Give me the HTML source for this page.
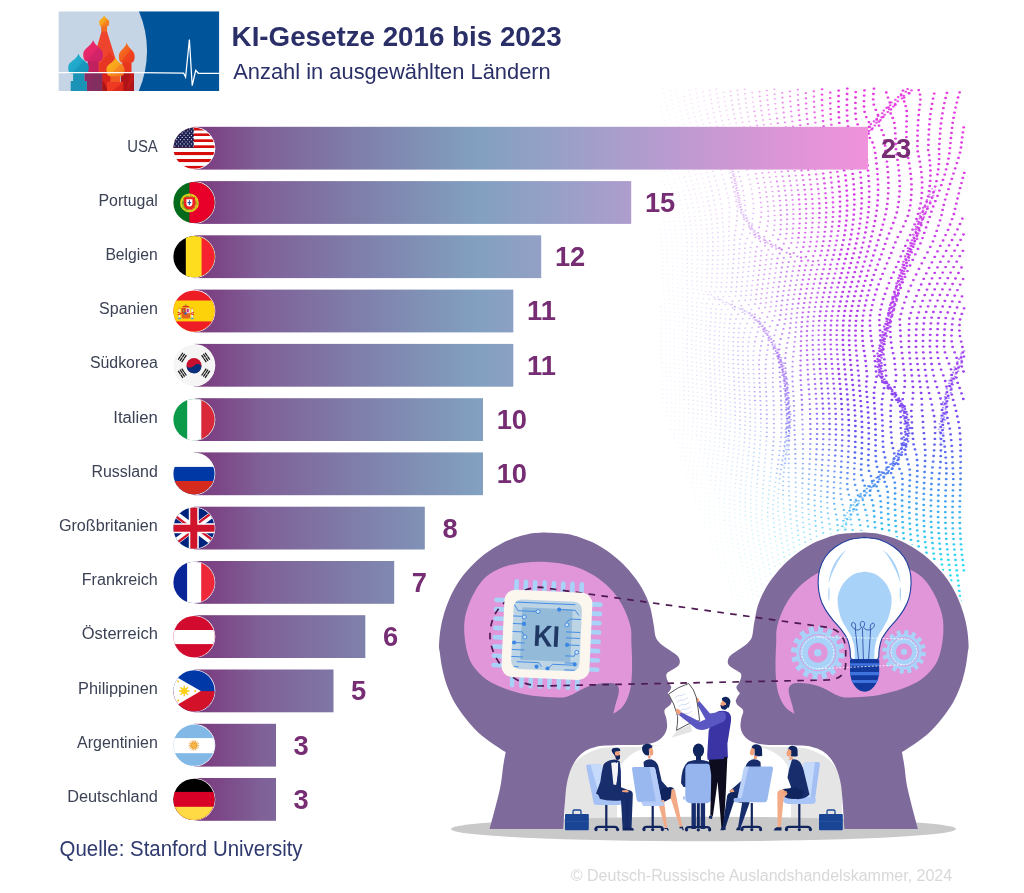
<!DOCTYPE html>
<html lang="de"><head><meta charset="utf-8"><title>KI-Gesetze 2016 bis 2023</title>
<style>
html,body{margin:0;padding:0;background:#fff;}
body{width:1024px;height:893px;overflow:hidden;font-family:"Liberation Sans",sans-serif;}
svg{display:block;}
text{font-family:"Liberation Sans",sans-serif;}
</style></head><body>
<svg width="1024" height="893" viewBox="0 0 1024 893">
<!-- defs.svg -->
<defs>
<linearGradient id="barg" gradientUnits="userSpaceOnUse" x1="194" y1="0" x2="868" y2="0">
<stop offset="0" stop-color="#7a3a7e"/><stop offset="0.035" stop-color="#7c4686"/><stop offset="0.10" stop-color="#7f6197"/><stop offset="0.25" stop-color="#7f80ab"/>
<stop offset="0.42" stop-color="#82a0c0"/><stop offset="0.55" stop-color="#9aa0c8"/><stop offset="0.70" stop-color="#b89bd0"/>
<stop offset="0.85" stop-color="#d896d6"/><stop offset="1" stop-color="#f092dc"/>
</linearGradient>
<clipPath id="fc"><circle cx="0" cy="0" r="20.6"/></clipPath>
</defs>

<!-- dots.svg -->
<g>
<defs><linearGradient id="dotg" gradientUnits="userSpaceOnUse" x1="0" y1="88" x2="0" y2="640"><stop offset="0.000" stop-color="#e83ae0"/><stop offset="0.203" stop-color="#d63ee6"/><stop offset="0.384" stop-color="#b840ee"/><stop offset="0.511" stop-color="#9c40f0"/><stop offset="0.592" stop-color="#7a48f2"/><stop offset="0.647" stop-color="#6060f2"/><stop offset="0.701" stop-color="#4e84f2"/><stop offset="0.755" stop-color="#42a8f2"/><stop offset="0.810" stop-color="#36c8f2"/><stop offset="0.873" stop-color="#2cdcf2"/><stop offset="1.000" stop-color="#28e6f0"/></linearGradient><linearGradient id="dotm" gradientUnits="userSpaceOnUse" x1="0" y1="88" x2="0" y2="640"><stop offset="0.000" stop-color="#e44ae4"/><stop offset="0.203" stop-color="#cc4ce8"/><stop offset="0.384" stop-color="#ac50ee"/><stop offset="0.511" stop-color="#9054f0"/><stop offset="0.592" stop-color="#7860f2"/><stop offset="0.647" stop-color="#6474f2"/><stop offset="0.701" stop-color="#5490f2"/><stop offset="0.755" stop-color="#46b0f2"/><stop offset="0.810" stop-color="#3accf2"/><stop offset="0.873" stop-color="#30def2"/><stop offset="1.000" stop-color="#2ce8f0"/></linearGradient><linearGradient id="dotl" gradientUnits="userSpaceOnUse" x1="0" y1="88" x2="0" y2="640"><stop offset="0.000" stop-color="#e060e4"/><stop offset="0.167" stop-color="#c060e8"/><stop offset="0.348" stop-color="#a064ee"/><stop offset="0.493" stop-color="#8a6cf0"/><stop offset="0.592" stop-color="#7884f2"/><stop offset="0.674" stop-color="#68a4f2"/><stop offset="0.755" stop-color="#58c4f4"/><stop offset="0.837" stop-color="#48dcf4"/><stop offset="1.000" stop-color="#40e8f2"/></linearGradient></defs>
<path d="M663.0 88.6h.6M675.9 89.4h.6M669.8 91.1h.6M682.8 92.0h.6M663.7 92.9h.6M676.6 93.7h.6M670.5 95.4h.6M664.4 97.2h.6M677.4 98.0h.6M671.3 99.8h.6M665.3 101.5h.6M678.3 102.4h.6M672.2 104.1h.6M666.3 105.9h.6M679.2 106.7h.6M660.4 107.6h.6M673.2 108.5h.6M667.3 110.2h.6M680.3 111.1h.6M661.5 111.9h.6M674.4 112.8h.6M668.5 114.5h.6M662.7 116.2h.6M681.4 115.5h.6M675.5 117.2h.6M669.7 118.9h.6M682.7 120.0h.6M664.0 120.6h.6M676.8 121.6h.6M671.1 123.2h.6M665.4 124.9h.6M678.2 126.0h.6M672.4 127.6h.6M666.8 129.2h.6M679.6 130.4h.6M661.2 130.8h.6M673.9 132.0h.6M668.3 133.6h.6M662.7 135.1h.6M681.1 134.8h.6M675.4 136.4h.6M669.8 137.9h.6M664.3 139.4h.6M682.6 139.3h.6M677.0 140.8h.6M671.4 142.3h.6M665.9 143.7h.6M660.4 145.0h.6M678.6 145.2h.6M673.0 146.6h.6M667.5 148.0h.6M662.1 149.3h.6M680.2 149.6h.6M674.7 151.0h.6M669.2 152.3h.6M663.7 153.5h.6M681.8 154.0h.6M676.3 155.3h.6M670.9 156.6h.6M665.4 157.8h.6M660.0 158.9h.6M678.0 159.7h.6M672.5 160.9h.6M667.1 162.0h.6M661.7 163.1h.6M679.6 164.1h.6M674.2 165.2h.6M668.8 166.3h.6M663.4 167.2h.6M681.2 168.4h.6M675.8 169.5h.6M665.0 171.4h.6M670.4 170.5h.6M682.8 172.8h.6M677.4 173.8h.6M672.0 174.8h.6M661.3 176.3h.6M666.7 175.6h.6M678.9 178.1h.6M673.5 179.0h.6M662.9 180.5h.6M668.2 179.8h.6M680.4 182.5h.6M675.0 183.3h.6M669.7 184.0h.6M664.4 184.6h.6M676.4 187.5h.6M681.8 186.8h.6M671.1 188.1h.6M660.5 189.1h.6M665.8 188.7h.6M683.1 191.1h.6M672.5 192.3h.6M677.8 191.7h.6M661.9 193.2h.6M667.2 192.8h.6M673.7 196.5h.6M679.0 196.0h.6M663.2 197.2h.6M668.5 196.9h.6M680.2 200.2h.6M664.4 201.3h.6M669.6 201.0h.6M674.9 200.6h.6M681.3 204.4h.6M665.5 205.4h.6M670.7 205.1h.6M676.0 204.8h.6M660.3 205.5h.6M666.5 209.4h.6M671.7 209.2h.6M677.0 209.0h.6M682.2 208.7h.6M661.3 209.5h.6M667.4 213.5h.6M672.7 213.3h.6M677.9 213.1h.6M683.1 212.9h.6M662.2 213.5h.6M673.5 217.4h.6M678.7 217.3h.6M663.1 217.6h.6M668.3 217.5h.6M679.4 221.5h.6M663.8 221.6h.6M669.0 221.6h.6M674.2 221.5h.6M664.5 225.6h.6M669.6 225.6h.6M674.8 225.7h.6M680.0 225.6h.6M660.0 229.5h.6M665.1 229.6h.6M670.2 229.7h.6M675.3 229.8h.6M680.5 229.8h.6M660.5 233.5h.6M665.6 233.6h.6M670.7 233.8h.6M675.8 233.9h.6M680.9 234.0h.6M660.9 237.5h.6M666.0 237.7h.6M671.1 237.8h.6M676.2 238.0h.6M681.3 238.1h.6M661.3 241.5h.6M666.3 241.7h.6M671.4 241.9h.6M676.4 242.1h.6M681.5 242.3h.6M661.6 245.6h.6M666.6 245.8h.6M671.6 246.0h.6M676.7 246.2h.6M681.7 246.4h.6M661.9 249.6h.6M666.9 249.8h.6M671.8 250.1h.6M676.9 250.3h.6M681.9 250.6h.6M662.1 253.7h.6M667.1 253.9h.6M672.0 254.2h.6M677.0 254.5h.6M682.0 254.8h.6M662.3 257.7h.6M667.2 258.0h.6M672.1 258.3h.6M677.1 258.6h.6M682.0 258.9h.6M662.5 261.8h.6M667.3 262.1h.6M672.2 262.4h.6M677.1 262.7h.6M682.1 263.1h.6M662.6 265.9h.6M667.4 266.2h.6M672.3 266.5h.6M677.2 266.9h.6M682.1 267.3h.6M662.7 270.0h.6M667.5 270.3h.6M672.3 270.6h.6M677.2 271.0h.6M682.0 271.4h.6M662.8 274.1h.6M667.6 274.4h.6M672.4 274.8h.6M677.2 275.2h.6M682.0 275.6h.6M663.0 278.2h.6M667.7 278.5h.6M672.4 278.9h.6M677.2 279.3h.6M682.0 279.8h.6M663.1 282.3h.6M667.8 282.7h.6M672.5 283.1h.6M677.3 283.5h.6M682.0 284.0h.6M663.3 286.5h.6M668.0 286.8h.6M672.7 287.2h.6M677.5 287.7h.6M682.4 288.2h.6M663.5 290.6h.6M668.1 291.0h.6M672.8 291.4h.6M677.5 291.9h.6M682.4 292.4h.6M663.7 294.8h.6M668.3 295.1h.6M672.9 295.6h.6M677.6 296.0h.6M682.3 296.6h.6M713.1 296.9h.6M664.0 299.0h.6M668.6 299.3h.6M673.1 299.7h.6M677.7 300.2h.6M682.4 300.8h.6M664.3 303.2h.6M668.9 303.5h.6M673.4 303.9h.6M678.0 304.5h.6M682.5 305.0h.6M660.3 307.1h.6M664.7 307.4h.6M669.2 307.7h.6M673.7 308.2h.6M678.2 308.7h.6M682.8 309.2h.6M660.7 311.3h.6M665.1 311.6h.6M669.6 311.9h.6M674.1 312.4h.6M678.5 312.9h.6M683.1 313.5h.6M661.3 315.6h.6M665.6 315.8h.6M670.0 316.2h.6M674.5 316.6h.6M678.9 317.1h.6M661.5 319.8h.6M665.8 320.1h.6M670.1 320.4h.6M674.4 320.9h.6M678.8 321.4h.6M683.2 321.9h.6M661.3 324.1h.6M665.6 324.3h.6M669.9 324.7h.6M674.2 325.1h.6M678.6 325.6h.6M683.0 326.2h.6M661.1 328.4h.6M665.4 328.6h.6M669.7 328.9h.6M674.1 329.4h.6M678.4 329.9h.6M682.8 330.4h.6M661.0 332.7h.6M665.3 332.9h.6M669.6 333.2h.6M673.9 333.6h.6M678.3 334.1h.6M682.7 334.7h.6M661.0 337.0h.6M665.3 337.2h.6M669.6 337.5h.6M673.9 337.9h.6M678.2 338.4h.6M682.6 339.0h.6M660.9 341.3h.6M665.2 341.5h.6M669.5 341.8h.6M673.8 342.2h.6M678.2 342.7h.6M682.5 343.2h.6M661.0 345.6h.6M665.3 345.8h.6M669.6 346.1h.6M673.9 346.5h.6M678.2 347.0h.6M682.6 347.5h.6M661.0 349.9h.6M665.3 350.2h.6M669.6 350.5h.6M673.9 350.8h.6M678.3 351.3h.6M682.6 351.8h.6M661.1 354.3h.6M665.4 354.5h.6M669.7 354.8h.6M674.0 355.2h.6M678.3 355.6h.6M682.7 356.1h.6M661.2 358.6h.6M665.5 358.8h.6M669.8 359.1h.6M674.1 359.5h.6M678.4 359.9h.6M682.8 360.4h.6M661.4 363.0h.6M665.6 363.2h.6M669.9 363.5h.6M674.2 363.8h.6M678.6 364.2h.6M682.9 364.7h.6M661.5 367.4h.6M665.8 367.6h.6M670.1 367.8h.6M674.4 368.2h.6M678.7 368.6h.6M683.1 369.1h.6M661.6 371.7h.6M665.9 371.9h.6M670.2 372.2h.6M674.5 372.5h.6M678.9 372.9h.6M683.2 373.4h.6M661.8 376.1h.6M666.1 376.3h.6M670.4 376.6h.6M674.7 376.9h.6M679.0 377.3h.6M661.9 380.5h.6M666.2 380.7h.6M670.5 380.9h.6M674.8 381.2h.6M679.2 381.6h.6M662.0 384.9h.6M666.3 385.1h.6M670.6 385.3h.6M674.9 385.6h.6M679.3 386.0h.6M662.1 389.3h.6M666.4 389.4h.6M670.7 389.7h.6M675.1 390.0h.6M679.4 390.3h.6M662.2 393.6h.6M666.5 393.8h.6M670.8 394.1h.6M675.1 394.4h.6M679.5 394.7h.6M662.3 398.0h.6M666.6 398.2h.6M670.9 398.5h.6M675.2 398.7h.6M679.5 399.1h.6M662.3 402.4h.6M666.6 402.6h.6M670.9 402.9h.6M675.2 403.1h.6M679.6 403.4h.6M684.0 403.8h.6M666.5 407.0h.6M670.9 407.2h.6M675.2 407.5h.6M679.6 407.8h.6M683.9 408.2h.6M666.5 411.4h.6M670.8 411.6h.6M675.1 411.9h.6M679.5 412.2h.6M683.9 412.5h.6M666.4 415.8h.6M670.7 416.0h.6M675.0 416.3h.6M679.4 416.6h.6M683.8 416.9h.6M688.2 417.3h.6M670.5 420.4h.6M674.9 420.7h.6M679.2 420.9h.6M683.6 421.3h.6M688.0 421.6h.6M670.3 424.8h.6M674.7 425.0h.6M679.0 425.3h.6M683.4 425.6h.6M687.8 426.0h.6M670.1 429.2h.6M674.4 429.4h.6M678.8 429.7h.6M683.2 430.0h.6M687.6 430.3h.6M692.1 430.7h.6M674.1 433.8h.6M678.5 434.1h.6M682.9 434.4h.6M687.3 434.7h.6M691.8 435.0h.6M673.8 438.2h.6M678.1 438.4h.6M682.5 438.7h.6M687.0 439.0h.6M691.4 439.4h.6M696.0 439.8h.6M677.8 442.8h.6M682.2 443.1h.6M686.6 443.4h.6M691.1 443.7h.6M695.6 444.1h.6M677.3 447.2h.6M681.7 447.4h.6M686.2 447.7h.6M690.7 448.0h.6M695.2 448.4h.6M681.3 451.8h.6M685.7 452.1h.6M690.2 452.4h.6M694.7 452.7h.6M699.3 453.1h.6M680.8 456.1h.6M685.3 456.4h.6M689.8 456.7h.6M694.3 457.0h.6M698.8 457.4h.6M684.8 460.8h.6M689.3 461.0h.6M693.8 461.4h.6M698.4 461.7h.6M703.0 462.1h.6M684.3 465.1h.6M688.8 465.4h.6M693.3 465.7h.6M697.9 466.0h.6M702.5 466.4h.6M688.3 469.7h.6M692.8 470.0h.6M697.4 470.3h.6M702.1 470.7h.6M706.7 471.1h.6M687.8 474.0h.6M692.4 474.3h.6M697.0 474.6h.6M701.6 475.0h.6M706.3 475.4h.6M687.3 478.3h.6M691.9 478.6h.6M696.5 478.9h.6M701.2 479.3h.6M705.9 479.7h.6M691.5 482.9h.6M696.1 483.2h.6M700.7 483.6h.6M705.5 484.0h.6M710.2 484.4h.6M691.1 487.2h.6M695.7 487.5h.6M700.4 487.9h.6M705.1 488.2h.6M709.9 488.7h.6M695.3 491.8h.6M700.0 492.2h.6M704.8 492.5h.6M709.6 493.0h.6M714.4 493.4h.6M695.0 496.1h.6M699.8 496.5h.6M704.5 496.8h.6M709.3 497.2h.6M714.2 497.7h.6M694.8 500.4h.6M699.5 500.8h.6M704.3 501.1h.6M709.2 501.5h.6M714.1 502.0h.6M699.4 505.1h.6M704.2 505.4h.6M709.1 505.8h.6M714.0 506.3h.6M719.0 506.8h.6M699.3 509.4h.6M704.1 509.7h.6M709.0 510.1h.6M714.0 510.6h.6M719.0 511.1h.6M699.3 513.6h.6M704.1 514.0h.6M709.0 514.4h.6M714.0 514.9h.6M719.1 515.4h.6M704.2 518.3h.6M709.2 518.7h.6M714.2 519.2h.6M719.3 519.8h.6M704.4 522.6h.6M709.4 523.0h.6M714.4 523.5h.6M719.5 524.1h.6M724.7 524.7h.6M704.6 526.9h.6M709.6 527.4h.6M714.7 527.8h.6M719.9 528.4h.6M725.1 529.1h.6M710.0 531.7h.6M715.1 532.2h.6M720.3 532.8h.6M725.5 533.4h.6M710.4 536.0h.6M715.6 536.5h.6M720.8 537.1h.6M726.1 537.8h.6M711.0 540.3h.6M716.1 540.8h.6M721.4 541.5h.6M726.7 542.2h.6M732.1 543.0h.6M711.5 544.6h.6M716.7 545.2h.6M722.0 545.8h.6M727.3 546.5h.6M732.8 547.4h.6M712.2 548.9h.6M717.4 549.5h.6M722.7 550.2h.6M728.1 550.9h.6M733.5 551.8h.6M718.2 553.9h.6M723.5 554.6h.6M728.9 555.3h.6M734.3 556.2h.6M719.0 558.2h.6M724.3 558.9h.6M729.7 559.7h.6M735.2 560.6h.6M719.8 562.6h.6M725.1 563.3h.6M730.6 564.2h.6M736.0 565.1h.6M720.6 566.9h.6M726.0 567.7h.6M731.4 568.6h.6M736.9 569.5h.6M721.5 571.3h.6M742.5 570.6h.6M726.9 572.1h.6M732.3 573.0h.6M737.9 574.0h.6M743.4 575.1h.6M722.4 575.7h.6M727.8 576.5h.6M733.3 577.5h.6M738.8 578.5h.6M744.3 579.6h.6M728.7 580.9h.6M734.1 581.9h.6M739.6 583.0h.6M745.2 584.2h.6M729.6 585.3h.6M735.0 586.4h.6M740.5 587.5h.6M746.1 588.7h.6M730.4 589.8h.6M735.9 590.8h.6M741.3 592.0h.6M746.9 593.2h.6M731.3 594.2h.6M736.7 595.3h.6M742.1 596.5h.6M747.6 597.8h.6M732.0 598.6h.6M753.2 599.2h.6M737.4 599.8h.6M742.8 601.0h.6M748.3 602.4h.6M732.8 603.0h.6M738.1 604.2h.6M753.8 603.9h.6M743.5 605.6h.6M748.9 607.0h.6M738.7 608.7h.6M754.4 608.5h.6M744.1 610.1h.6M749.5 611.6h.6M739.3 613.2h.6M754.9 613.2h.6M744.6 614.6h.6M750.0 616.2h.6M739.7 617.7h.6M755.3 617.8h.6M745.0 619.2h.6M760.8 619.6h.6M750.3 620.8h.6M740.1 622.2h.6M755.7 622.5h.6M745.3 623.8h.6M761.0 624.3h.6M750.6 625.4h.6M755.9 627.2h.6M745.6 628.3h.6M761.2 629.0h.6M750.8 630.0h.6M756.0 631.8h.6M745.7 632.9h.6M761.3 633.8h.6M750.9 634.7h.6M766.5 635.8h.6M745.8 637.4h.6M756.0 636.5h.6M750.9 639.3h.6M761.2 638.5h.6M756.0 641.2h.6M766.4 640.6h.6M761.1 643.3h.6M750.8 643.9h.6M766.3 645.5h.6M755.8 645.9h.6M760.9 648.1h.6M750.6 648.6h.6M766.0 650.3h.6M755.6 650.7h.6M760.6 652.8h.6M755.3 655.4h.6M765.6 655.1h.6M760.2 657.6h.6M754.8 660.1h.6M765.2 660.0h.6M759.7 662.4h.6M764.7 664.8h.6M759.2 667.2h.6M769.6 667.3h.6M764.1 669.7h.6M758.6 672.0h.6M769.0 672.2h.6M763.5 674.5h.6M768.3 677.2h.6M762.8 679.4h.6M767.6 682.1h.6M766.9 687.0h.6M766.2 691.9h.6" stroke="url(#dotl)" stroke-width="1.12" stroke-linecap="round" fill="none" opacity="0.1"/>
<path d="M695.6 88.8h.6M689.2 90.4h.6M702.7 91.8h.6M696.2 93.2h.6M689.8 94.7h.6M683.6 96.3h.6M703.4 96.2h.6M696.9 97.6h.6M690.6 99.1h.6M684.4 100.7h.6M704.1 100.6h.6M697.7 102.0h.6M691.5 103.5h.6M685.3 105.1h.6M705.0 105.0h.6M698.6 106.4h.6M692.4 107.9h.6M686.3 109.5h.6M705.9 109.5h.6M699.6 110.9h.6M693.5 112.4h.6M687.4 113.9h.6M700.7 115.3h.6M694.6 116.8h.6M688.6 118.4h.6M701.9 119.8h.6M695.8 121.3h.6M689.9 122.8h.6M684.0 124.4h.6M703.1 124.3h.6M697.1 125.8h.6M691.2 127.3h.6M685.4 128.8h.6M704.5 128.8h.6M698.5 130.3h.6M692.6 131.8h.6M686.8 133.3h.6M705.8 133.4h.6M699.9 134.8h.6M694.1 136.3h.6M688.3 137.8h.6M701.4 139.3h.6M695.6 140.8h.6M689.8 142.2h.6M684.2 143.7h.6M702.9 143.9h.6M697.1 145.3h.6M691.4 146.7h.6M685.8 148.2h.6M704.5 148.4h.6M698.7 149.8h.6M693.0 151.2h.6M687.4 152.6h.6M706.2 153.0h.6M700.3 154.4h.6M694.6 155.7h.6M726.6 156.5h.6M689.0 157.1h.6M683.4 158.4h.6M729.2 157.9h.6M701.8 158.9h.6M726.6 159.2h.6M696.1 160.3h.6M730.6 160.6h.6M690.6 161.6h.6M685.1 162.9h.6M703.4 163.5h.6M697.7 164.8h.6M692.1 166.1h.6M686.6 167.3h.6M704.9 168.1h.6M699.2 169.3h.6M693.7 170.5h.6M688.2 171.7h.6M706.4 172.7h.6M700.7 173.9h.6M695.2 175.0h.6M689.7 176.1h.6M684.3 177.2h.6M702.1 178.4h.6M696.6 179.5h.6M691.2 180.6h.6M685.7 181.6h.6M703.5 183.0h.6M698.0 184.0h.6M692.5 185.0h.6M687.1 185.9h.6M704.8 187.5h.6M693.8 189.4h.6M699.3 188.5h.6M688.5 190.3h.6M706.0 192.1h.6M700.5 193.0h.6M695.1 193.9h.6M684.3 195.4h.6M689.7 194.7h.6M701.6 197.5h.6M696.2 198.3h.6M690.8 199.0h.6M685.5 199.7h.6M702.6 202.0h.6M691.9 203.4h.6M697.2 202.7h.6M686.6 204.0h.6M703.6 206.5h.6M698.2 207.2h.6M687.5 208.2h.6M692.8 207.7h.6M704.4 211.0h.6M693.7 212.1h.6M699.0 211.6h.6M688.4 212.5h.6M705.1 215.4h.6M694.4 216.5h.6M699.7 216.0h.6M683.9 217.1h.6M689.2 216.8h.6M700.4 220.4h.6M705.7 219.9h.6M684.6 221.3h.6M689.8 221.1h.6M695.1 220.8h.6M706.2 224.4h.6M690.4 225.4h.6M695.6 225.1h.6M700.9 224.8h.6M685.2 225.5h.6M696.1 229.5h.6M701.3 229.2h.6M685.7 229.8h.6M690.9 229.7h.6M686.1 234.0h.6M691.2 233.9h.6M696.4 233.8h.6M701.7 233.6h.6M686.4 238.2h.6M691.5 238.2h.6M696.7 238.2h.6M701.9 238.0h.6M686.6 242.4h.6M691.8 242.5h.6M696.9 242.5h.6M702.1 242.4h.6M686.8 246.6h.6M691.9 246.7h.6M697.0 246.8h.6M702.2 246.8h.6M686.9 250.8h.6M692.0 251.0h.6M697.1 251.1h.6M702.2 251.2h.6M687.0 255.0h.6M692.0 255.3h.6M697.1 255.4h.6M702.2 255.5h.6M687.0 259.2h.6M692.0 259.5h.6M697.1 259.7h.6M702.1 259.9h.6M687.0 263.4h.6M692.0 263.8h.6M697.0 264.0h.6M702.0 264.3h.6M687.0 267.7h.6M691.9 268.0h.6M696.9 268.3h.6M701.9 268.6h.6M686.9 271.9h.6M691.9 272.3h.6M696.8 272.6h.6M701.8 273.0h.6M686.9 276.1h.6M691.8 276.5h.6M696.7 276.9h.6M701.6 277.3h.6M686.9 280.3h.6M691.7 280.8h.6M696.6 281.2h.6M701.5 281.6h.6M706.4 282.0h.6M686.8 284.5h.6M691.6 285.0h.6M696.5 285.5h.6M701.3 286.0h.6M706.1 286.4h.6M687.5 288.7h.6M692.5 289.1h.6M697.1 289.6h.6M701.3 290.0h.6M705.3 291.3h.6M687.5 292.9h.6M692.8 293.4h.6M698.3 293.9h.6M703.5 294.3h.6M687.0 297.2h.6M692.0 297.7h.6M697.3 298.3h.6M716.1 298.3h.6M703.1 298.8h.6M718.9 299.6h.6M687.0 301.4h.6M722.7 301.0h.6M691.7 302.0h.6M725.6 302.3h.6M696.5 302.6h.6M701.4 303.2h.6M687.2 305.6h.6M691.8 306.2h.6M696.5 306.9h.6M701.2 307.5h.6M705.9 308.1h.6M687.4 309.8h.6M692.0 310.5h.6M696.6 311.1h.6M701.2 311.8h.6M705.9 312.4h.6M687.6 314.1h.6M692.2 314.7h.6M696.8 315.4h.6M701.4 316.1h.6M706.1 316.7h.6M683.4 317.7h.6M687.9 318.3h.6M692.3 319.0h.6M696.8 319.7h.6M701.3 320.4h.6M705.8 321.1h.6M687.6 322.6h.6M692.0 323.2h.6M696.5 323.9h.6M701.0 324.7h.6M705.5 325.4h.6M687.4 326.8h.6M691.8 327.5h.6M696.2 328.2h.6M700.7 328.9h.6M705.3 329.7h.6M687.2 331.1h.6M691.6 331.8h.6M696.1 332.5h.6M700.5 333.2h.6M705.1 334.0h.6M687.0 335.3h.6M691.5 336.0h.6M695.9 336.7h.6M700.4 337.5h.6M704.9 338.2h.6M687.0 339.6h.6M691.4 340.3h.6M695.8 341.0h.6M700.3 341.8h.6M704.8 342.5h.6M686.9 343.9h.6M691.4 344.5h.6M695.8 345.3h.6M700.3 346.0h.6M704.8 346.8h.6M686.9 348.1h.6M691.4 348.8h.6M695.8 349.5h.6M700.3 350.3h.6M704.8 351.1h.6M687.0 352.4h.6M691.4 353.1h.6M695.9 353.8h.6M700.3 354.6h.6M704.9 355.4h.6M687.1 356.7h.6M691.5 357.4h.6M695.9 358.1h.6M700.4 358.8h.6M705.0 359.6h.6M687.2 361.0h.6M691.6 361.7h.6M696.1 362.4h.6M700.6 363.1h.6M705.1 363.9h.6M687.3 365.3h.6M691.7 365.9h.6M696.2 366.6h.6M700.7 367.4h.6M705.2 368.2h.6M687.5 369.6h.6M691.9 370.2h.6M696.4 370.9h.6M700.9 371.7h.6M705.4 372.4h.6M687.6 373.9h.6M692.1 374.5h.6M696.5 375.2h.6M701.0 375.9h.6M705.6 376.7h.6M683.4 377.7h.6M687.8 378.2h.6M692.2 378.8h.6M696.7 379.5h.6M701.2 380.2h.6M705.7 380.9h.6M683.5 382.0h.6M687.9 382.6h.6M692.4 383.1h.6M696.8 383.8h.6M701.3 384.5h.6M705.9 385.2h.6M683.7 386.4h.6M688.1 386.9h.6M692.5 387.4h.6M697.0 388.1h.6M701.5 388.7h.6M706.0 389.5h.6M683.8 390.7h.6M688.2 391.2h.6M692.6 391.8h.6M697.1 392.4h.6M701.6 393.0h.6M706.2 393.7h.6M683.9 395.1h.6M688.3 395.5h.6M692.7 396.1h.6M697.2 396.6h.6M701.7 397.3h.6M706.3 398.0h.6M683.9 399.4h.6M688.3 399.9h.6M692.8 400.4h.6M697.3 400.9h.6M701.8 401.6h.6M706.4 402.2h.6M688.4 404.2h.6M692.8 404.7h.6M697.3 405.3h.6M701.8 405.9h.6M706.4 406.5h.6M688.4 408.6h.6M692.8 409.0h.6M697.3 409.6h.6M701.8 410.1h.6M706.4 410.8h.6M688.3 412.9h.6M692.8 413.4h.6M697.2 413.9h.6M701.8 414.4h.6M706.4 415.0h.6M711.0 415.7h.6M692.7 417.7h.6M697.1 418.2h.6M701.7 418.7h.6M706.3 419.3h.6M710.9 420.0h.6M692.5 422.0h.6M697.0 422.5h.6M701.5 423.0h.6M706.1 423.6h.6M710.7 424.2h.6M692.3 426.4h.6M696.8 426.8h.6M701.3 427.3h.6M705.9 427.8h.6M710.6 428.5h.6M715.2 429.1h.6M696.6 431.1h.6M701.1 431.6h.6M705.7 432.1h.6M710.3 432.7h.6M715.0 433.4h.6M696.3 435.4h.6M700.8 435.9h.6M705.4 436.4h.6M710.0 437.0h.6M714.7 437.6h.6M700.5 440.2h.6M705.1 440.7h.6M709.7 441.2h.6M714.4 441.8h.6M719.1 442.5h.6M700.1 444.5h.6M704.7 445.0h.6M709.4 445.5h.6M714.0 446.1h.6M718.8 446.7h.6M699.7 448.8h.6M704.3 449.2h.6M709.0 449.7h.6M713.7 450.3h.6M718.4 450.9h.6M723.2 451.6h.6M703.9 453.5h.6M708.5 454.0h.6M713.2 454.6h.6M718.0 455.2h.6M722.8 455.8h.6M703.5 457.8h.6M708.1 458.3h.6M712.8 458.8h.6M717.6 459.4h.6M722.4 460.1h.6M707.6 462.6h.6M712.4 463.1h.6M717.1 463.6h.6M721.9 464.3h.6M726.8 465.0h.6M707.2 466.8h.6M711.9 467.3h.6M716.7 467.9h.6M721.5 468.5h.6M726.4 469.2h.6M711.5 471.6h.6M716.2 472.1h.6M721.1 472.7h.6M726.0 473.4h.6M711.0 475.8h.6M715.8 476.4h.6M720.7 477.0h.6M725.6 477.7h.6M730.5 478.4h.6M710.6 480.1h.6M715.4 480.6h.6M720.3 481.2h.6M725.2 481.9h.6M730.2 482.7h.6M715.0 484.9h.6M719.9 485.5h.6M724.9 486.1h.6M729.9 486.9h.6M735.0 487.7h.6M714.7 489.2h.6M719.6 489.7h.6M724.6 490.4h.6M729.6 491.1h.6M734.7 492.0h.6M719.4 494.0h.6M724.4 494.6h.6M729.4 495.4h.6M734.5 496.2h.6M719.2 498.3h.6M724.2 498.9h.6M729.3 499.7h.6M734.4 500.5h.6M719.0 502.6h.6M724.1 503.2h.6M729.2 503.9h.6M734.3 504.8h.6M739.6 505.7h.6M724.0 507.5h.6M729.2 508.2h.6M734.4 509.1h.6M739.6 510.0h.6M724.1 511.8h.6M729.2 512.5h.6M734.5 513.4h.6M739.8 514.4h.6M724.2 516.1h.6M729.4 516.8h.6M734.7 517.7h.6M740.0 518.7h.6M724.4 520.4h.6M745.4 519.8h.6M729.6 521.2h.6M734.9 522.0h.6M740.3 523.0h.6M745.8 524.1h.6M730.0 525.5h.6M735.3 526.4h.6M740.7 527.4h.6M746.2 528.5h.6M730.4 529.8h.6M735.7 530.7h.6M741.2 531.7h.6M746.7 532.9h.6M730.9 534.2h.6M736.2 535.1h.6M741.7 536.1h.6M747.3 537.3h.6M731.4 538.6h.6M736.8 539.5h.6M742.3 540.5h.6M747.9 541.7h.6M753.6 543.1h.6M737.5 543.9h.6M743.0 544.9h.6M748.6 546.2h.6M738.2 548.3h.6M754.3 547.5h.6M743.8 549.4h.6M749.4 550.6h.6M755.1 552.0h.6M739.0 552.7h.6M744.6 553.8h.6M750.3 555.1h.6M756.0 556.5h.6M739.8 557.2h.6M745.4 558.3h.6M751.1 559.6h.6M756.9 561.0h.6M740.7 561.6h.6M746.3 562.8h.6M752.0 564.1h.6M741.6 566.1h.6M757.8 565.5h.6M747.2 567.3h.6M763.6 567.2h.6M752.9 568.6h.6M758.7 570.1h.6M748.1 571.8h.6M764.5 571.8h.6M753.8 573.2h.6M759.6 574.7h.6M749.0 576.3h.6M765.4 576.4h.6M754.7 577.7h.6M760.5 579.3h.6M749.9 580.9h.6M766.3 581.0h.6M755.6 582.3h.6M761.4 583.9h.6M750.8 585.5h.6M767.2 585.6h.6M756.5 586.9h.6M762.2 588.5h.6M751.7 590.0h.6M768.0 590.3h.6M757.3 591.5h.6M763.0 593.2h.6M752.4 594.6h.6M768.8 595.0h.6M758.1 596.2h.6M774.6 597.0h.6M763.7 597.8h.6M769.5 599.7h.6M758.8 600.8h.6M764.4 602.5h.6M759.4 605.5h.6M765.0 607.2h.6M759.9 610.2h.6M765.5 612.0h.6M760.4 614.9h.6M765.9 616.7h.6M766.2 621.5h.6M766.4 626.2h.6M766.5 631.0h.6" stroke="url(#dotl)" stroke-width="1.21" stroke-linecap="round" fill="none" opacity="0.19"/>
<path d="M716.0 89.2h.6M709.3 90.4h.6M723.3 92.4h.6M716.6 93.6h.6M709.9 94.8h.6M723.9 96.9h.6M717.2 98.0h.6M710.6 99.3h.6M724.6 101.4h.6M717.9 102.5h.6M711.4 103.7h.6M725.3 105.9h.6M718.8 107.0h.6M712.3 108.2h.6M726.2 110.4h.6M719.7 111.5h.6M713.3 112.7h.6M706.9 114.0h.6M727.2 114.9h.6M720.7 116.0h.6M714.3 117.2h.6M708.1 118.4h.6M728.2 119.5h.6M721.8 120.5h.6M715.5 121.7h.6M709.3 123.0h.6M729.3 124.1h.6M722.9 125.1h.6M716.7 126.2h.6M710.5 127.5h.6M724.2 129.7h.6M718.0 130.8h.6M711.9 132.0h.6M725.5 134.3h.6M719.3 135.4h.6M713.2 136.6h.6M707.3 137.9h.6M726.8 138.9h.6M720.7 140.0h.6M714.9 141.2h.6M708.9 142.5h.6M722.8 144.4h.6M728.0 143.9h.6M717.1 145.7h.6M710.8 147.1h.6M724.7 148.9h.6M728.8 149.0h.6M719.4 150.2h.6M712.7 151.6h.6M726.4 153.3h.6M729.5 154.1h.6M721.8 154.7h.6M714.9 156.2h.6M707.9 157.6h.6M727.8 157.8h.6M724.2 159.2h.6M717.0 160.7h.6M709.6 162.2h.6M728.7 161.9h.6M729.4 162.2h.6M731.3 163.3h.6M726.5 163.7h.6M719.0 165.3h.6M728.0 164.6h.6M731.2 166.0h.6M711.2 166.8h.6M729.8 167.3h.6M728.0 168.4h.6M733.5 168.7h.6M720.4 170.0h.6M730.6 170.0h.6M712.7 171.4h.6M733.0 171.4h.6M729.3 173.1h.6M730.4 172.7h.6M734.3 174.1h.6M721.8 174.7h.6M732.6 175.4h.6M714.1 176.0h.6M707.8 177.2h.6M735.6 176.8h.6M731.9 178.1h.6M723.2 179.3h.6M734.8 179.5h.6M715.5 180.7h.6M732.9 180.8h.6M709.2 181.8h.6M736.8 182.2h.6M734.1 183.5h.6M724.5 184.0h.6M716.8 185.3h.6M736.5 184.9h.6M710.4 186.4h.6M733.3 186.2h.6M736.9 187.6h.6M725.8 188.7h.6M735.3 188.9h.6M718.0 189.9h.6M738.6 190.3h.6M711.6 191.0h.6M735.0 191.6h.6M726.9 193.3h.6M737.6 193.0h.6M735.4 194.3h.6M719.1 194.6h.6M712.7 195.6h.6M739.4 195.7h.6M707.1 196.6h.6M737.1 197.0h.6M727.8 198.0h.6M739.7 198.4h.6M720.1 199.2h.6M713.7 200.2h.6M736.1 199.7h.6M708.1 201.2h.6M739.5 201.1h.6M737.9 202.4h.6M728.6 202.8h.6M721.0 203.9h.6M741.5 203.8h.6M714.6 204.9h.6M738.1 205.1h.6M709.0 205.7h.6M729.3 207.5h.6M740.6 206.5h.6M738.0 207.8h.6M715.4 209.5h.6M721.7 208.6h.6M741.9 209.2h.6M709.8 210.3h.6M740.8 210.5h.6M729.2 212.3h.6M743.6 211.9h.6M722.0 213.2h.6M740.9 213.2h.6M716.0 214.1h.6M710.5 214.8h.6M744.0 214.6h.6M743.2 215.9h.6M729.0 217.0h.6M747.0 217.3h.6M722.2 217.9h.6M711.1 219.3h.6M716.5 218.7h.6M745.1 218.6h.6M747.5 220.0h.6M745.4 221.3h.6M728.8 221.8h.6M717.0 223.3h.6M722.5 222.6h.6M711.6 223.9h.6M722.8 227.2h.6M728.7 226.5h.6M711.9 228.4h.6M717.3 227.9h.6M706.6 228.9h.6M728.6 231.2h.6M717.6 232.5h.6M723.0 231.9h.6M706.9 233.3h.6M712.2 232.9h.6M728.6 235.9h.6M712.4 237.5h.6M717.8 237.0h.6M723.1 236.5h.6M707.2 237.8h.6M723.2 241.2h.6M728.6 240.6h.6M707.3 242.2h.6M712.6 242.0h.6M717.9 241.6h.6M728.5 245.3h.6M712.6 246.5h.6M717.9 246.2h.6M723.2 245.8h.6M707.4 246.7h.6M723.1 250.4h.6M728.4 250.0h.6M707.4 251.1h.6M712.6 251.0h.6M717.8 250.8h.6M712.5 255.5h.6M717.7 255.3h.6M722.9 255.0h.6M728.2 254.7h.6M707.3 255.6h.6M728.0 259.3h.6M707.2 260.0h.6M712.4 260.0h.6M717.5 259.9h.6M722.7 259.6h.6M707.1 264.4h.6M712.2 264.4h.6M717.3 264.4h.6M722.5 264.2h.6M727.7 264.0h.6M706.9 268.8h.6M712.0 268.9h.6M717.1 268.9h.6M722.2 268.8h.6M727.4 268.6h.6M706.8 273.2h.6M711.8 273.4h.6M716.8 273.4h.6M721.9 273.4h.6M727.1 273.2h.6M706.6 277.6h.6M711.6 277.8h.6M716.6 277.9h.6M721.6 277.9h.6M726.7 277.8h.6M711.3 282.2h.6M716.3 282.4h.6M721.3 282.5h.6M726.4 282.4h.6M711.0 286.7h.6M716.0 286.9h.6M721.0 287.0h.6M726.1 287.0h.6M709.6 291.6h.6M714.6 291.7h.6M720.0 291.7h.6M725.4 291.6h.6M707.8 294.6h.6M711.0 294.9h.6M729.2 296.4h.6M714.0 297.1h.6M717.8 297.0h.6M723.2 296.7h.6M709.0 299.1h.6M714.5 299.4h.6M718.5 299.5h.6M720.8 299.7h.6M726.2 302.1h.6M722.6 302.6h.6M706.7 303.7h.6M712.5 304.1h.6M718.8 304.4h.6M725.2 304.5h.6M728.0 303.7h.6M730.0 304.4h.6M730.6 305.0h.6M734.3 306.4h.6M738.4 307.7h.6M710.7 308.6h.6M715.8 309.1h.6M721.3 309.4h.6M741.6 309.1h.6M727.5 309.6h.6M743.7 310.4h.6M746.4 311.8h.6M710.6 313.0h.6M715.4 313.5h.6M747.8 313.1h.6M720.2 313.9h.6M725.4 314.2h.6M710.7 317.3h.6M715.4 317.9h.6M720.1 318.4h.6M724.9 318.7h.6M710.4 321.7h.6M715.0 322.3h.6M719.7 322.8h.6M724.4 323.2h.6M729.3 323.5h.6M710.1 326.0h.6M714.7 326.6h.6M719.4 327.2h.6M724.1 327.6h.6M728.8 328.0h.6M709.8 330.4h.6M714.4 331.0h.6M719.1 331.6h.6M723.8 332.1h.6M728.5 332.4h.6M709.6 334.7h.6M714.2 335.3h.6M718.9 335.9h.6M723.6 336.5h.6M728.3 336.9h.6M709.5 339.0h.6M714.1 339.7h.6M718.7 340.3h.6M723.4 340.9h.6M728.2 341.3h.6M709.4 343.3h.6M714.0 344.0h.6M718.6 344.7h.6M723.3 345.3h.6M728.1 345.8h.6M709.4 347.6h.6M714.0 348.3h.6M718.6 349.0h.6M723.3 349.6h.6M728.0 350.2h.6M709.4 351.9h.6M714.0 352.6h.6M718.6 353.3h.6M723.3 354.0h.6M728.1 354.5h.6M709.4 356.1h.6M714.0 356.9h.6M718.7 357.6h.6M723.4 358.3h.6M728.1 358.9h.6M709.5 360.4h.6M714.1 361.2h.6M718.8 361.9h.6M723.5 362.6h.6M728.2 363.3h.6M709.6 364.7h.6M714.3 365.5h.6M718.9 366.2h.6M723.6 367.0h.6M728.4 367.6h.6M709.8 369.0h.6M714.4 369.7h.6M719.1 370.5h.6M723.8 371.3h.6M728.6 371.9h.6M710.0 373.2h.6M714.6 374.0h.6M719.3 374.8h.6M724.0 375.6h.6M728.7 376.3h.6M710.1 377.5h.6M714.8 378.3h.6M719.4 379.1h.6M724.2 379.8h.6M728.9 380.6h.6M710.3 381.7h.6M714.9 382.5h.6M719.6 383.3h.6M724.4 384.1h.6M729.1 384.8h.6M710.5 386.0h.6M715.1 386.8h.6M719.8 387.6h.6M724.6 388.4h.6M729.3 389.1h.6M710.6 390.2h.6M715.3 391.0h.6M720.0 391.8h.6M724.7 392.6h.6M729.5 393.4h.6M710.8 394.5h.6M715.4 395.3h.6M720.1 396.1h.6M724.9 396.8h.6M729.7 397.6h.6M710.9 398.7h.6M715.6 399.5h.6M720.3 400.3h.6M725.0 401.1h.6M729.8 401.9h.6M711.0 403.0h.6M715.6 403.7h.6M720.3 404.5h.6M725.1 405.3h.6M729.9 406.1h.6M711.0 407.2h.6M715.7 408.0h.6M720.4 408.7h.6M725.2 409.5h.6M730.0 410.3h.6M711.0 411.5h.6M715.7 412.2h.6M720.4 413.0h.6M725.2 413.7h.6M730.0 414.5h.6M715.6 416.4h.6M720.4 417.2h.6M725.1 418.0h.6M730.0 418.8h.6M734.9 419.5h.6M715.6 420.7h.6M720.3 421.4h.6M725.1 422.2h.6M729.9 423.0h.6M734.8 423.8h.6M715.4 424.9h.6M720.1 425.6h.6M724.9 426.4h.6M729.8 427.2h.6M734.7 428.0h.6M720.0 429.8h.6M724.7 430.6h.6M729.6 431.4h.6M734.5 432.2h.6M739.5 433.0h.6M719.7 434.0h.6M724.5 434.8h.6M729.4 435.6h.6M734.3 436.4h.6M739.2 437.2h.6M719.5 438.3h.6M724.2 439.0h.6M729.1 439.8h.6M734.0 440.6h.6M739.0 441.4h.6M723.9 443.2h.6M728.8 444.0h.6M733.7 444.8h.6M738.7 445.6h.6M743.7 446.5h.6M723.6 447.4h.6M728.4 448.2h.6M733.3 449.0h.6M738.3 449.8h.6M743.4 450.7h.6M728.1 452.4h.6M733.0 453.2h.6M783.6 453.5h.6M738.0 454.0h.6M743.0 454.9h.6M783.0 456.2h.6M727.7 456.6h.6M732.6 457.4h.6M737.6 458.2h.6M785.4 457.6h.6M742.6 459.1h.6M781.5 458.9h.6M747.7 460.0h.6M785.3 460.3h.6M727.2 460.8h.6M732.2 461.6h.6M737.2 462.4h.6M782.4 461.6h.6M742.2 463.3h.6M785.4 463.0h.6M747.4 464.2h.6M780.6 464.3h.6M731.7 465.8h.6M783.5 465.7h.6M736.7 466.6h.6M741.8 467.5h.6M747.0 468.5h.6M731.3 470.0h.6M736.3 470.8h.6M741.4 471.7h.6M746.6 472.7h.6M730.9 474.2h.6M751.9 473.7h.6M736.0 475.0h.6M741.0 476.0h.6M746.2 477.0h.6M751.5 478.0h.6M735.6 479.3h.6M740.7 480.2h.6M745.9 481.2h.6M751.2 482.3h.6M735.2 483.5h.6M740.4 484.4h.6M745.6 485.4h.6M750.9 486.5h.6M756.6 487.7h.6M740.1 488.7h.6M745.3 489.7h.6M750.7 490.8h.6M756.4 492.0h.6M739.9 492.9h.6M745.1 494.0h.6M750.5 495.1h.6M756.2 496.3h.6M739.7 497.2h.6M745.0 498.2h.6M750.4 499.4h.6M739.6 501.5h.6M756.1 500.6h.6M762.0 501.9h.6M744.9 502.5h.6M750.4 503.7h.6M756.1 505.0h.6M761.9 506.3h.6M744.9 506.8h.6M750.4 508.0h.6M756.1 509.3h.6M745.0 511.1h.6M761.8 510.7h.6M750.5 512.3h.6M756.1 513.7h.6M745.2 515.5h.6M761.8 515.1h.6M750.7 516.7h.6M756.2 518.0h.6M761.8 519.5h.6M750.9 521.0h.6M767.5 521.1h.6M756.5 522.4h.6M762.2 523.9h.6M751.3 525.4h.6M767.9 525.6h.6M756.9 526.8h.6M762.6 528.4h.6M751.7 529.8h.6M768.4 530.1h.6M757.4 531.2h.6M763.1 532.8h.6M752.3 534.2h.6M768.9 534.5h.6M758.0 535.7h.6M763.7 537.3h.6M752.9 538.6h.6M769.6 539.0h.6M758.6 540.1h.6M775.5 540.9h.6M764.4 541.7h.6M770.3 543.5h.6M759.3 544.6h.6M776.2 545.5h.6M765.1 546.2h.6M771.0 548.1h.6M760.1 549.1h.6M777.0 550.1h.6M765.9 550.8h.6M771.9 552.6h.6M760.9 553.6h.6M766.8 555.3h.6M777.9 554.6h.6M772.7 557.2h.6M761.8 558.1h.6M778.7 559.2h.6M767.7 559.8h.6M773.6 561.8h.6M762.7 562.6h.6M768.6 564.4h.6M779.6 563.9h.6M774.5 566.4h.6M785.7 566.1h.6M769.5 569.0h.6M780.6 568.5h.6M775.5 571.0h.6M786.7 570.8h.6M781.5 573.2h.6M770.4 573.6h.6M776.4 575.6h.6M787.6 575.5h.6M771.3 578.2h.6M782.4 577.8h.6M777.3 580.3h.6M788.5 580.2h.6M772.2 582.9h.6M783.3 582.5h.6M778.1 585.0h.6M789.3 585.0h.6M784.1 587.3h.6M773.0 587.6h.6M778.9 589.7h.6M790.2 589.7h.6M773.8 592.3h.6M784.9 592.0h.6M796.3 592.3h.6M779.7 594.4h.6M790.9 594.5h.6M785.6 596.7h.6M797.0 597.1h.6M780.4 599.2h.6M791.6 599.3h.6" stroke="url(#dotl)" stroke-width="1.31" stroke-linecap="round" fill="none" opacity="0.28"/>
<path d="M744.3 89.2h.6M737.2 90.3h.6M730.2 91.3h.6M751.9 92.8h.6M744.7 93.8h.6M737.7 94.8h.6M730.7 95.8h.6M752.3 97.4h.6M745.2 98.4h.6M738.2 99.4h.6M731.3 100.4h.6M752.8 102.1h.6M745.8 103.0h.6M738.8 103.9h.6M732.0 104.9h.6M753.4 106.7h.6M739.6 108.5h.6M746.4 107.6h.6M732.8 109.4h.6M747.2 112.2h.6M740.4 113.1h.6M733.7 114.0h.6M748.1 116.8h.6M741.3 117.7h.6M734.7 118.5h.6M749.0 121.5h.6M742.3 122.3h.6M735.8 123.1h.6M750.0 126.1h.6M743.4 126.9h.6M736.9 127.7h.6M730.5 128.6h.6M751.1 130.8h.6M738.1 132.3h.6M744.6 131.5h.6M731.7 133.2h.6M752.3 135.4h.6M745.8 136.1h.6M739.4 136.9h.6M733.0 137.9h.6M753.5 140.1h.6M747.0 140.8h.6M740.5 141.6h.6M733.9 142.6h.6M748.2 145.5h.6M741.4 146.3h.6M734.4 147.5h.6M749.4 150.2h.6M742.4 151.1h.6M735.0 152.4h.6M750.7 154.8h.6M743.5 155.8h.6M735.7 157.3h.6M730.0 159.1h.6M752.0 159.6h.6M744.6 160.5h.6M736.3 162.1h.6M730.6 164.2h.6M753.2 164.3h.6M745.6 165.3h.6M730.9 166.8h.6M737.0 167.0h.6M731.5 169.2h.6M746.8 170.0h.6M732.3 171.6h.6M738.2 171.7h.6M732.9 173.9h.6M747.9 174.8h.6M733.5 176.3h.6M739.4 176.5h.6M730.6 177.8h.6M734.2 178.7h.6M749.1 179.5h.6M734.6 181.0h.6M740.6 181.2h.6M731.8 182.4h.6M735.3 183.4h.6M750.1 184.3h.6M735.6 185.7h.6M741.7 186.0h.6M733.0 187.2h.6M736.3 188.1h.6M751.1 189.1h.6M736.6 190.5h.6M742.7 190.8h.6M734.0 191.9h.6M737.3 192.9h.6M751.9 193.9h.6M737.5 195.2h.6M743.5 195.6h.6M734.9 196.6h.6M738.3 197.7h.6M752.5 198.7h.6M738.5 200.0h.6M744.2 200.4h.6M735.8 201.4h.6M739.2 202.5h.6M753.1 203.5h.6M739.5 204.8h.6M744.8 205.3h.6M736.5 206.1h.6M740.1 207.3h.6M753.4 208.4h.6M740.9 209.6h.6M745.3 210.2h.6M737.0 211.0h.6M741.1 212.2h.6M753.0 213.5h.6M742.7 214.5h.6M745.6 215.5h.6M736.9 215.9h.6M743.5 217.2h.6M746.1 218.2h.6M743.7 219.5h.6M752.3 218.7h.6M736.4 220.8h.6M746.7 220.7h.6M748.4 223.2h.6M749.2 222.7h.6M743.6 224.5h.6M748.5 224.0h.6M751.9 224.0h.6M751.6 225.4h.6M735.7 225.6h.6M748.7 225.9h.6M748.9 226.7h.6M751.3 227.0h.6M749.6 228.2h.6M751.7 228.1h.6M742.9 229.4h.6M750.7 229.4h.6M752.4 229.4h.6M735.1 230.4h.6M754.6 230.8h.6M753.1 232.1h.6M753.7 232.0h.6M749.6 233.2h.6M741.6 234.4h.6M755.6 233.5h.6M734.4 235.2h.6M754.6 234.8h.6M758.1 236.2h.6M760.1 237.5h.6M746.9 238.4h.6M739.8 239.3h.6M763.6 238.9h.6M734.0 240.0h.6M763.7 240.2h.6M766.2 241.6h.6M745.1 243.4h.6M751.9 242.5h.6M767.4 242.9h.6M739.4 244.1h.6M771.3 244.3h.6M733.9 244.7h.6M772.8 245.6h.6M750.4 247.5h.6M775.5 247.0h.6M744.7 248.2h.6M778.0 248.3h.6M733.8 249.5h.6M739.2 248.8h.6M781.2 249.7h.6M749.9 252.3h.6M744.4 253.0h.6M733.6 254.2h.6M738.9 253.6h.6M749.5 257.1h.6M738.6 258.4h.6M744.0 257.8h.6M733.3 258.9h.6M749.1 261.9h.6M738.3 263.1h.6M743.6 262.6h.6M733.0 263.6h.6M743.2 267.3h.6M748.6 266.7h.6M732.6 268.3h.6M737.9 267.9h.6M753.5 270.9h.6M742.7 272.1h.6M748.1 271.5h.6M732.2 273.0h.6M737.5 272.6h.6M747.6 276.3h.6M752.9 275.7h.6M737.0 277.3h.6M742.3 276.9h.6M731.9 277.6h.6M747.1 281.1h.6M752.4 280.6h.6M731.5 282.3h.6M736.6 282.0h.6M741.8 281.6h.6M751.8 285.4h.6M741.4 286.3h.6M746.6 285.9h.6M731.1 286.9h.6M736.2 286.7h.6M751.3 290.2h.6M735.8 291.4h.6M740.9 291.1h.6M746.1 290.7h.6M730.7 291.6h.6M745.6 295.4h.6M750.8 294.9h.6M735.1 296.1h.6M740.5 295.8h.6M744.9 300.2h.6M750.3 299.7h.6M732.1 301.3h.6M738.8 300.7h.6M732.0 304.3h.6M748.4 304.7h.6M740.9 305.7h.6M734.7 306.9h.6M732.3 307.9h.6M739.9 309.2h.6M742.3 308.8h.6M751.1 309.4h.6M734.2 309.5h.6M744.5 310.9h.6M742.2 312.2h.6M748.9 313.4h.6M749.8 312.8h.6M731.2 314.4h.6M737.8 314.3h.6M744.5 313.9h.6M751.7 314.5h.6M750.3 315.8h.6M751.6 315.8h.6M754.2 317.2h.6M749.2 318.4h.6M753.1 318.5h.6M753.6 317.7h.6M730.0 318.9h.6M735.7 319.0h.6M742.4 318.8h.6M756.5 319.9h.6M757.3 321.2h.6M746.7 323.4h.6M753.7 322.8h.6M760.8 322.6h.6M734.3 323.6h.6M740.0 323.6h.6M759.7 323.9h.6M762.2 325.3h.6M761.0 326.6h.6M733.7 328.2h.6M739.0 328.2h.6M744.9 328.1h.6M751.8 327.7h.6M764.9 328.0h.6M763.9 329.3h.6M766.7 330.7h.6M764.1 332.0h.6M733.4 332.7h.6M738.4 332.8h.6M743.9 332.8h.6M750.2 332.5h.6M767.3 333.4h.6M766.7 334.7h.6M770.4 336.1h.6M733.1 337.2h.6M738.0 337.4h.6M743.2 337.4h.6M749.0 337.2h.6M768.4 337.4h.6M770.9 338.8h.6M769.0 340.1h.6M733.0 341.7h.6M737.8 341.9h.6M742.8 342.0h.6M748.3 341.9h.6M772.8 341.5h.6M772.1 342.8h.6M775.1 344.2h.6M772.0 345.5h.6M732.9 346.1h.6M737.7 346.4h.6M753.8 346.3h.6M742.7 346.5h.6M747.9 346.5h.6M774.8 346.9h.6M773.5 348.2h.6M732.8 350.6h.6M737.7 350.9h.6M742.6 351.1h.6M747.7 351.1h.6M753.3 350.9h.6M775.3 350.9h.6M775.1 353.6h.6M732.9 355.0h.6M737.7 355.4h.6M742.6 355.6h.6M747.7 355.7h.6M753.1 355.6h.6M732.9 359.4h.6M737.8 359.8h.6M742.7 360.1h.6M747.7 360.2h.6M753.0 360.2h.6M733.0 363.8h.6M737.9 364.2h.6M742.8 364.5h.6M747.8 364.7h.6M753.0 364.7h.6M733.2 368.2h.6M738.1 368.6h.6M743.0 369.0h.6M748.0 369.2h.6M753.2 369.3h.6M733.4 372.5h.6M738.3 373.0h.6M743.2 373.4h.6M748.2 373.7h.6M753.4 373.8h.6M733.6 376.9h.6M738.5 377.4h.6M743.4 377.8h.6M748.4 378.1h.6M753.6 378.3h.6M733.8 381.2h.6M738.7 381.8h.6M743.6 382.2h.6M748.7 382.6h.6M753.8 382.8h.6M734.0 385.5h.6M738.9 386.1h.6M743.9 386.6h.6M748.9 387.0h.6M734.2 389.8h.6M739.1 390.4h.6M744.1 391.0h.6M749.1 391.4h.6M734.4 394.1h.6M739.3 394.7h.6M744.3 395.3h.6M749.3 395.8h.6M734.6 398.4h.6M739.5 399.0h.6M744.5 399.6h.6M749.5 400.2h.6M734.7 402.6h.6M739.6 403.3h.6M744.6 404.0h.6M749.7 404.5h.6M754.9 405.0h.6M734.8 406.9h.6M739.7 407.6h.6M744.7 408.3h.6M749.8 408.8h.6M755.0 409.3h.6M734.9 411.1h.6M739.8 411.8h.6M744.8 412.5h.6M749.9 413.2h.6M755.1 413.7h.6M734.9 415.3h.6M739.8 416.1h.6M744.9 416.8h.6M749.9 417.5h.6M755.1 418.0h.6M739.8 420.3h.6M744.8 421.1h.6M749.9 421.8h.6M755.1 422.4h.6M760.5 422.9h.6M739.7 424.6h.6M744.8 425.3h.6M749.9 426.0h.6M755.1 426.7h.6M760.5 427.3h.6M739.6 428.8h.6M744.6 429.6h.6M749.7 430.3h.6M754.9 431.0h.6M760.4 431.6h.6M785.5 431.9h.6M744.5 433.8h.6M749.6 434.6h.6M754.8 435.3h.6M786.0 434.6h.6M940.3 434.6h.6M760.2 436.0h.6M788.5 436.0h.6M942.8 436.0h.6M784.4 437.3h.6M939.1 437.3h.6M744.3 438.0h.6M749.4 438.8h.6M787.9 438.7h.6M942.6 438.7h.6M754.6 439.6h.6M760.0 440.3h.6M785.5 440.0h.6M940.7 440.0h.6M766.1 441.0h.6M788.9 441.4h.6M944.2 441.4h.6M744.0 442.2h.6M749.1 443.1h.6M784.6 442.7h.6M940.4 442.7h.6M754.3 443.9h.6M787.2 444.1h.6M942.9 444.1h.6M759.8 444.7h.6M765.9 445.3h.6M784.0 445.4h.6M748.8 447.3h.6M787.9 446.8h.6M754.0 448.2h.6M785.0 448.1h.6M759.5 449.0h.6M765.5 449.7h.6M787.7 449.5h.6M783.1 450.8h.6M748.5 451.6h.6M753.7 452.4h.6M786.3 452.2h.6M759.2 453.3h.6M765.3 454.1h.6M787.2 454.9h.6M748.1 455.8h.6M753.4 456.7h.6M758.9 457.6h.6M765.0 458.4h.6M753.0 461.0h.6M758.5 461.9h.6M764.6 462.8h.6M771.4 463.6h.6M752.6 465.2h.6M758.2 466.2h.6M764.3 467.1h.6M771.0 468.0h.6M752.2 469.5h.6M757.8 470.5h.6M763.9 471.5h.6M770.6 472.4h.6M757.4 474.8h.6M763.6 475.8h.6M770.1 476.8h.6M775.7 477.7h.6M757.1 479.1h.6M763.3 480.2h.6M769.7 481.2h.6M775.1 482.2h.6M756.8 483.4h.6M778.9 483.3h.6M762.9 484.5h.6M769.2 485.6h.6M774.5 486.7h.6M762.7 488.8h.6M778.4 489.2h.6M768.8 490.0h.6M774.0 491.2h.6M762.4 493.2h.6M768.4 494.4h.6M778.0 493.6h.6M773.5 495.7h.6M762.2 497.6h.6M777.8 498.0h.6M768.1 498.8h.6M782.9 499.2h.6M773.1 500.2h.6M777.7 502.4h.6M767.8 503.3h.6M783.1 503.7h.6M772.8 504.7h.6M777.8 506.8h.6M767.5 507.7h.6M783.4 508.2h.6M772.7 509.2h.6M778.0 511.2h.6M767.4 512.2h.6M783.8 512.7h.6M772.7 513.8h.6M778.3 515.6h.6M767.4 516.7h.6M784.3 517.3h.6M773.0 518.4h.6M778.8 520.1h.6M842.5 521.0h.6M784.8 521.9h.6M773.3 522.8h.6M790.8 523.7h.6M842.9 523.7h.6M779.2 524.6h.6M846.3 525.1h.6M785.2 526.5h.6M841.3 526.4h.6M773.7 527.3h.6M791.2 528.4h.6M843.8 527.8h.6M779.7 529.2h.6M839.8 529.1h.6M785.7 531.1h.6M843.7 530.5h.6M774.2 531.9h.6M791.8 533.1h.6M780.2 533.8h.6M774.8 536.4h.6M786.2 535.8h.6M780.8 538.4h.6M792.4 537.9h.6M786.9 540.4h.6M781.5 543.0h.6M793.0 542.6h.6M787.6 545.1h.6M799.3 544.8h.6M793.8 547.3h.6M782.3 547.6h.6M788.4 549.8h.6M800.0 549.6h.6M783.1 552.2h.6M794.6 552.0h.6M789.2 554.4h.6M800.9 554.4h.6M783.9 556.8h.6M795.4 556.8h.6M790.1 559.1h.6M801.7 559.2h.6M784.8 561.5h.6M796.3 561.5h.6M791.0 563.8h.6M802.6 564.0h.6M797.2 566.3h.6M809.0 566.6h.6M791.9 568.5h.6M803.5 568.9h.6M798.2 571.1h.6M809.9 571.5h.6M792.8 573.3h.6M804.5 573.7h.6M799.1 575.8h.6M810.8 576.4h.6M793.7 578.0h.6M805.4 578.5h.6M800.0 580.6h.6M811.7 581.3h.6M794.6 582.8h.6M806.3 583.4h.6M800.8 585.4h.6M812.6 586.2h.6M795.5 587.5h.6M807.1 588.2h.6M801.7 590.3h.6M813.4 591.1h.6M807.9 593.1h.6M819.8 594.0h.6M802.4 595.1h.6M814.2 596.0h.6M808.6 598.0h.6M820.5 599.0h.6M803.1 599.9h.6M814.9 601.0h.6" stroke="url(#dotl)" stroke-width="1.45" stroke-linecap="round" fill="none" opacity="0.4"/>
<path d="M774.1 89.2h.6M766.6 90.5h.6M759.2 91.7h.6M774.3 94.1h.6M766.8 95.3h.6M759.5 96.4h.6M774.6 99.0h.6M767.2 100.1h.6M760.0 101.1h.6M775.0 103.8h.6M767.7 104.9h.6M760.5 105.8h.6M775.5 108.7h.6M768.3 109.7h.6M754.1 111.4h.6M761.1 110.6h.6M768.9 114.4h.6M776.1 113.5h.6M761.9 115.3h.6M754.9 116.1h.6M769.7 119.2h.6M762.7 120.0h.6M755.8 120.7h.6M770.5 124.0h.6M756.8 125.4h.6M763.6 124.7h.6M764.6 129.4h.6M771.4 128.7h.6M757.8 130.1h.6M765.6 134.1h.6M772.4 133.5h.6M758.9 134.8h.6M773.5 138.3h.6M760.0 139.5h.6M766.7 138.9h.6M774.5 143.0h.6M761.2 144.1h.6M767.8 143.6h.6M754.7 144.8h.6M769.0 148.3h.6M775.7 147.8h.6M756.0 149.5h.6M762.4 148.9h.6M847.5 151.1h.6M770.2 153.0h.6M757.2 154.2h.6M763.7 153.6h.6M764.9 158.3h.6M771.4 157.8h.6M758.5 158.9h.6M766.1 163.0h.6M772.5 162.5h.6M759.7 163.6h.6M773.7 167.3h.6M760.9 168.3h.6M767.2 167.7h.6M754.3 169.0h.6M768.4 172.5h.6M774.8 172.0h.6M762.0 173.1h.6M755.5 173.8h.6M769.4 177.2h.6M775.8 176.8h.6M763.1 177.8h.6M756.6 178.5h.6M770.4 182.0h.6M757.6 183.3h.6M764.1 182.6h.6M765.0 187.3h.6M771.3 186.8h.6M758.6 188.0h.6M931.9 188.9h.6M935.2 190.3h.6M765.8 192.1h.6M772.1 191.5h.6M759.4 192.8h.6M772.8 196.3h.6M766.5 196.9h.6M760.1 197.6h.6M773.3 201.1h.6M760.6 202.5h.6M767.1 201.7h.6M773.8 205.9h.6M761.1 207.3h.6M767.6 206.5h.6M767.9 211.3h.6M774.1 210.7h.6M761.1 212.2h.6M768.0 216.2h.6M774.3 215.5h.6M760.7 217.1h.6M774.4 220.4h.6M767.8 221.1h.6M759.9 222.2h.6M774.2 225.2h.6M767.1 226.0h.6M758.8 227.4h.6M773.8 230.1h.6M766.0 231.1h.6M757.9 232.8h.6M754.0 234.7h.6M772.7 235.1h.6M759.0 236.0h.6M755.1 237.3h.6M764.0 236.6h.6M758.8 238.6h.6M765.0 240.2h.6M760.1 241.4h.6M769.4 240.9h.6M765.0 242.9h.6M770.4 244.5h.6M775.3 245.1h.6M764.7 245.7h.6M756.8 246.7h.6M771.5 246.7h.6M775.8 249.0h.6M768.1 250.0h.6M761.3 250.8h.6M755.5 251.6h.6M772.4 254.2h.6M766.4 255.0h.6M755.1 256.4h.6M760.7 255.7h.6M771.5 259.1h.6M765.8 259.8h.6M754.6 261.2h.6M760.1 260.5h.6M770.8 264.0h.6M759.6 265.4h.6M765.2 264.7h.6M754.0 266.1h.6M775.8 268.1h.6M770.1 268.8h.6M759.0 270.2h.6M764.5 269.5h.6M775.1 273.0h.6M763.9 274.4h.6M769.4 273.7h.6M758.4 275.1h.6M774.3 277.8h.6M763.2 279.2h.6M768.7 278.5h.6M757.7 279.9h.6M768.0 283.4h.6M773.6 282.6h.6M762.5 284.1h.6M757.2 284.7h.6M772.8 287.5h.6M767.3 288.2h.6M761.9 288.9h.6M756.6 289.6h.6M772.2 292.3h.6M766.7 293.0h.6M756.0 294.4h.6M761.3 293.7h.6M771.5 297.1h.6M766.1 297.9h.6M755.6 299.2h.6M760.8 298.5h.6M770.9 302.0h.6M760.3 303.4h.6M765.6 302.7h.6M754.8 304.0h.6M775.8 306.1h.6M770.4 306.8h.6M758.7 308.3h.6M764.9 307.5h.6M775.2 310.9h.6M769.2 311.7h.6M761.9 312.8h.6M754.6 314.3h.6M774.1 315.8h.6M754.4 317.1h.6M767.0 316.9h.6M759.5 318.4h.6M755.0 320.0h.6M759.0 321.4h.6M772.1 320.9h.6M758.2 322.1h.6M764.4 322.4h.6M759.6 324.1h.6M762.3 326.3h.6M769.5 326.4h.6M758.5 327.1h.6M764.1 328.1h.6M762.8 329.4h.6M765.4 330.4h.6M775.5 330.1h.6M763.3 331.2h.6M757.4 332.0h.6M768.6 331.8h.6M765.6 333.4h.6M767.4 335.3h.6M774.1 335.4h.6M762.9 336.2h.6M755.9 336.8h.6M769.1 337.1h.6M768.2 338.3h.6M770.8 339.3h.6M768.1 340.2h.6M761.8 341.1h.6M773.6 340.8h.6M754.6 341.6h.6M770.9 342.3h.6M772.4 344.2h.6M767.8 345.1h.6M760.7 345.9h.6M774.3 346.0h.6M773.3 347.2h.6M775.2 348.2h.6M773.1 349.1h.6M767.2 350.0h.6M777.4 349.6h.6M759.9 350.6h.6M775.5 351.1h.6M777.8 352.3h.6M773.3 354.0h.6M759.3 355.3h.6M766.5 354.8h.6M778.6 355.0h.6M777.6 356.3h.6M781.0 357.7h.6M773.1 358.8h.6M778.0 359.0h.6M758.9 360.0h.6M765.8 359.5h.6M780.6 360.4h.6M778.8 361.7h.6M782.7 363.1h.6M765.4 364.2h.6M772.8 363.6h.6M780.6 364.4h.6M758.7 364.6h.6M783.3 365.8h.6M779.8 367.1h.6M772.7 368.3h.6M758.8 369.2h.6M765.3 368.9h.6M783.0 368.5h.6M781.5 369.8h.6M785.2 371.2h.6M782.0 372.5h.6M772.6 373.1h.6M758.9 373.8h.6M765.2 373.5h.6M784.5 373.9h.6M781.8 375.2h.6M785.7 376.6h.6M759.0 378.3h.6M765.2 378.2h.6M772.5 377.8h.6M783.9 377.9h.6M786.8 379.3h.6M783.2 380.6h.6M772.5 382.4h.6M786.1 382.0h.6M759.2 382.9h.6M765.3 382.8h.6M784.0 383.3h.6M787.8 384.7h.6M784.7 386.0h.6M754.0 387.3h.6M759.5 387.4h.6M765.6 387.3h.6M772.7 387.1h.6M787.1 387.4h.6M783.6 388.7h.6M787.3 390.1h.6M785.3 391.4h.6M754.3 391.7h.6M759.7 391.9h.6M765.8 391.9h.6M773.0 391.7h.6M788.6 392.8h.6M784.6 394.1h.6M754.5 396.1h.6M759.9 396.4h.6M766.0 396.4h.6M773.2 396.3h.6M787.3 395.5h.6M784.8 396.8h.6M788.8 398.2h.6M786.1 399.5h.6M754.7 400.6h.6M760.1 400.8h.6M766.2 401.0h.6M773.3 400.9h.6M788.6 400.9h.6M784.8 402.2h.6M788.2 403.6h.6M760.3 405.3h.6M766.3 405.5h.6M773.5 405.4h.6M786.3 404.9h.6M789.8 406.3h.6M786.1 407.6h.6M788.6 409.0h.6M760.4 409.7h.6M766.4 410.0h.6M773.5 410.0h.6M785.7 410.3h.6M789.6 411.7h.6M787.3 413.0h.6M760.5 414.1h.6M766.5 414.4h.6M790.1 414.4h.6M773.5 414.5h.6M786.1 415.7h.6M789.2 417.1h.6M787.0 418.4h.6M760.5 418.5h.6M766.5 418.9h.6M773.5 419.1h.6M781.1 419.0h.6M790.8 419.8h.6M787.0 421.1h.6M940.9 421.1h.6M766.5 423.3h.6M789.4 422.5h.6M943.3 422.5h.6M773.7 423.6h.6M781.3 423.5h.6M785.6 423.8h.6M939.3 423.8h.6M789.4 425.2h.6M943.0 425.2h.6M786.9 426.5h.6M940.3 426.5h.6M766.6 427.8h.6M773.8 428.0h.6M781.3 428.0h.6M790.0 427.9h.6M943.4 427.9h.6M785.5 429.2h.6M938.7 429.2h.6M788.3 430.6h.6M941.5 430.6h.6M766.5 432.2h.6M939.2 431.9h.6M773.7 432.5h.6M781.1 432.6h.6M789.4 433.3h.6M943.1 433.3h.6M766.4 436.6h.6M773.5 437.0h.6M780.8 437.1h.6M785.5 437.2h.6M773.2 441.4h.6M786.8 440.8h.6M780.3 441.7h.6M784.9 441.8h.6M786.5 445.3h.6M788.8 445.1h.6M772.9 445.9h.6M779.9 446.2h.6M784.4 446.4h.6M772.5 450.3h.6M786.1 449.8h.6M788.8 449.7h.6M779.4 450.7h.6M783.8 451.1h.6M785.6 454.4h.6M788.7 454.3h.6M772.2 454.7h.6M778.8 455.2h.6M783.0 455.7h.6M771.8 459.2h.6M785.0 458.9h.6M788.5 458.9h.6M778.3 459.7h.6M782.2 460.3h.6M784.5 463.4h.6M788.5 463.4h.6M777.6 464.2h.6M781.5 464.9h.6M784.0 467.8h.6M788.4 468.0h.6M795.3 468.1h.6M777.0 468.7h.6M780.7 469.5h.6M783.6 472.3h.6M776.3 473.2h.6M788.4 472.6h.6M795.3 472.9h.6M780.0 474.1h.6M783.2 476.8h.6M788.4 477.2h.6M795.3 477.7h.6M779.4 478.7h.6M783.0 481.3h.6M788.5 481.8h.6M795.4 482.4h.6M782.8 485.7h.6M788.5 486.4h.6M795.4 487.2h.6M802.0 488.2h.6M782.7 490.2h.6M788.7 491.0h.6M795.4 492.0h.6M801.9 493.1h.6M782.7 494.7h.6M788.9 495.7h.6M795.5 496.8h.6M801.9 498.0h.6M789.1 500.3h.6M795.6 501.6h.6M801.9 502.9h.6M789.4 505.0h.6M795.8 506.4h.6M802.0 507.8h.6M808.2 509.2h.6M789.7 509.6h.6M849.8 510.2h.6M796.0 511.2h.6M852.9 511.6h.6M802.2 512.7h.6M847.0 512.9h.6M790.0 514.3h.6M808.4 514.2h.6M849.7 514.3h.6M796.2 516.0h.6M845.3 515.6h.6M849.3 517.0h.6M802.4 517.6h.6M845.0 518.3h.6M790.4 519.0h.6M808.6 519.3h.6M847.5 519.7h.6M796.5 520.8h.6M846.0 522.4h.6M802.7 522.5h.6M809.0 524.3h.6M796.9 525.6h.6M803.1 527.4h.6M809.4 529.3h.6M797.4 530.4h.6M815.9 531.1h.6M803.6 532.3h.6M809.9 534.3h.6M797.9 535.2h.6M816.5 536.2h.6M804.2 537.2h.6M810.6 539.3h.6M798.6 540.0h.6M817.2 541.3h.6M804.9 542.1h.6M811.3 544.3h.6M817.9 546.3h.6M805.6 547.0h.6M812.0 549.2h.6M818.7 551.4h.6M806.4 551.9h.6M812.8 554.2h.6M807.2 556.8h.6M819.5 556.5h.6M813.7 559.2h.6M826.3 558.7h.6M808.1 561.7h.6M820.3 561.6h.6M814.5 564.2h.6M826.8 563.9h.6M821.0 566.7h.6M815.4 569.2h.6M827.6 569.1h.6M821.9 571.7h.6M816.4 574.2h.6M828.5 574.3h.6M822.9 576.8h.6M817.3 579.1h.6M829.4 579.4h.6M823.8 581.9h.6M836.0 581.9h.6M818.1 584.1h.6M830.3 584.5h.6M824.6 586.9h.6M836.9 587.2h.6M819.0 589.1h.6M831.1 589.7h.6M825.4 591.9h.6M837.7 592.4h.6M831.9 594.8h.6M826.2 597.0h.6M838.5 597.6h.6M832.6 599.9h.6" stroke="url(#dotm)" stroke-width="1.6" stroke-linecap="round" fill="none" opacity="0.51"/>
<path d="M797.5 89.7h.6M789.6 91.3h.6M781.9 92.8h.6M797.6 94.8h.6M789.8 96.3h.6M782.1 97.7h.6M797.7 99.9h.6M790.0 101.4h.6M782.4 102.7h.6M790.4 106.4h.6M782.9 107.6h.6M790.8 111.4h.6M783.4 112.5h.6M791.3 116.4h.6M784.0 117.4h.6M776.8 118.4h.6M792.0 121.4h.6M784.7 122.3h.6M777.5 123.2h.6M792.7 126.3h.6M785.5 127.2h.6M778.4 128.0h.6M793.5 131.3h.6M786.3 132.1h.6M779.3 132.9h.6M794.4 136.2h.6M787.3 137.0h.6M780.3 137.7h.6M795.3 141.1h.6M781.3 142.5h.6M788.3 141.8h.6M796.2 146.0h.6M852.4 145.7h.6M782.4 147.3h.6M789.3 146.7h.6M856.4 147.1h.6M851.0 148.4h.6M853.5 149.8h.6M797.2 150.9h.6M783.5 152.1h.6M790.3 151.5h.6M776.8 152.6h.6M851.0 152.5h.6M791.4 156.4h.6M777.9 157.3h.6M784.6 156.9h.6M792.4 161.2h.6M779.1 162.1h.6M785.7 161.6h.6M786.8 166.4h.6M793.5 166.0h.6M780.2 166.8h.6M787.8 171.2h.6M794.4 170.8h.6M781.2 171.6h.6M782.2 176.3h.6M788.8 176.0h.6M795.4 175.6h.6M796.3 180.4h.6M783.2 181.1h.6M789.7 180.8h.6M776.7 181.5h.6M797.0 185.2h.6M777.6 186.3h.6M784.0 185.9h.6M790.5 185.5h.6M791.2 190.3h.6M797.7 190.0h.6M778.4 191.1h.6M784.7 190.6h.6M930.1 191.6h.6M932.8 193.0h.6M929.1 194.3h.6M785.4 195.4h.6M791.8 195.1h.6M779.0 195.8h.6M933.1 195.7h.6M929.3 197.0h.6M931.8 198.4h.6M785.9 200.2h.6M792.3 199.8h.6M926.6 199.7h.6M779.6 200.6h.6M930.0 201.1h.6M926.5 202.4h.6M930.0 203.8h.6M780.0 205.4h.6M786.3 205.0h.6M792.7 204.6h.6M793.0 209.4h.6M780.3 210.2h.6M786.6 209.8h.6M793.1 214.2h.6M780.5 215.0h.6M786.8 214.5h.6M786.8 219.3h.6M793.1 218.9h.6M780.6 219.8h.6M786.7 224.1h.6M793.0 223.7h.6M780.5 224.6h.6M780.3 229.4h.6M786.5 228.9h.6M792.7 228.5h.6M792.4 233.3h.6M779.9 234.3h.6M786.2 233.7h.6M791.9 238.1h.6M778.0 239.4h.6M785.5 238.6h.6M797.5 242.5h.6M791.0 242.9h.6M783.5 243.7h.6M796.4 247.3h.6M779.3 248.0h.6M788.6 248.1h.6M781.5 249.5h.6M779.4 253.5h.6M786.4 252.6h.6M793.4 253.0h.6M789.7 254.0h.6M797.0 256.4h.6M790.4 257.1h.6M777.3 258.4h.6M783.5 257.8h.6M788.4 262.0h.6M794.5 261.5h.6M776.6 263.3h.6M782.4 262.6h.6M793.5 266.3h.6M781.6 267.5h.6M787.5 266.8h.6M792.5 271.1h.6M780.8 272.3h.6M786.6 271.7h.6M797.5 275.4h.6M785.8 276.5h.6M791.6 275.9h.6M780.0 277.1h.6M796.6 280.1h.6M784.9 281.3h.6M790.7 280.7h.6M779.2 281.9h.6M789.8 285.5h.6M795.6 284.9h.6M784.1 286.1h.6M778.4 286.8h.6M789.0 290.2h.6M794.7 289.7h.6M783.3 290.9h.6M777.7 291.6h.6M793.9 294.4h.6M788.2 295.0h.6M777.0 296.4h.6M782.5 295.7h.6M793.1 299.2h.6M787.4 299.8h.6M776.4 301.3h.6M781.9 300.5h.6M792.4 304.0h.6M781.2 305.3h.6M786.8 304.6h.6M797.4 308.2h.6M786.2 309.4h.6M791.8 308.8h.6M780.7 310.2h.6M796.8 312.9h.6M785.7 314.3h.6M791.2 313.6h.6M780.1 315.0h.6M790.8 318.4h.6M796.4 317.7h.6M785.2 319.1h.6M779.2 319.9h.6M790.3 323.2h.6M795.9 322.5h.6M784.3 323.9h.6M777.2 325.0h.6M795.6 327.3h.6M789.7 328.0h.6M783.1 328.9h.6M795.3 332.1h.6M789.1 332.9h.6M781.8 333.9h.6M794.9 336.9h.6M788.2 337.8h.6M780.4 339.0h.6M794.4 341.8h.6M787.0 342.8h.6M779.3 344.3h.6M793.9 346.7h.6M786.2 347.8h.6M779.0 349.5h.6M963.9 350.9h.6M793.4 351.6h.6M776.8 353.0h.6M785.5 352.9h.6M960.9 353.6h.6M779.2 354.6h.6M777.2 356.1h.6M960.7 356.3h.6M779.1 357.1h.6M792.9 356.6h.6M778.0 357.9h.6M785.0 358.0h.6M958.7 359.0h.6M780.0 359.8h.6M961.3 360.4h.6M780.8 361.9h.6M792.4 361.6h.6M957.2 361.7h.6M778.7 362.7h.6M784.9 363.2h.6M961.2 363.1h.6M957.1 364.4h.6M781.3 364.8h.6M959.8 365.8h.6M781.8 366.7h.6M792.2 366.6h.6M954.4 367.1h.6M779.1 367.5h.6M785.2 368.2h.6M957.7 368.5h.6M782.2 369.7h.6M954.2 369.8h.6M782.8 371.5h.6M957.9 371.2h.6M779.4 372.3h.6M792.2 371.6h.6M952.9 372.5h.6M785.6 373.2h.6M955.3 373.9h.6M783.2 374.5h.6M950.7 375.2h.6M783.7 376.2h.6M779.6 377.1h.6M792.2 376.5h.6M954.6 376.6h.6M786.1 378.1h.6M951.2 377.9h.6M784.3 379.4h.6M954.1 379.3h.6M784.4 381.0h.6M949.1 380.6h.6M779.8 381.8h.6M792.3 381.5h.6M952.0 382.0h.6M786.7 383.1h.6M948.9 383.3h.6M785.4 384.2h.6M952.7 384.7h.6M780.1 386.5h.6M784.7 385.8h.6M792.6 386.4h.6M948.5 386.0h.6M951.0 387.4h.6M787.1 387.9h.6M785.8 389.0h.6M946.4 388.7h.6M785.1 390.5h.6M950.1 390.1h.6M780.3 391.2h.6M792.9 391.3h.6M947.1 391.4h.6M787.5 392.8h.6M950.4 392.8h.6M786.2 393.7h.6M945.4 394.1h.6M785.4 395.2h.6M780.6 395.8h.6M793.2 396.1h.6M948.1 395.5h.6M944.5 396.8h.6M786.6 398.5h.6M787.8 397.6h.6M948.5 398.2h.6M787.0 399.4h.6M944.8 399.5h.6M780.8 400.5h.6M785.8 399.9h.6M793.5 401.0h.6M947.3 400.9h.6M788.2 402.4h.6M942.8 402.2h.6M787.4 404.2h.6M946.2 403.6h.6M780.9 405.1h.6M786.1 404.6h.6M943.6 404.9h.6M793.7 405.9h.6M947.2 406.3h.6M788.5 407.3h.6M942.8 407.6h.6M786.3 409.3h.6M787.8 408.9h.6M945.3 409.0h.6M781.1 409.7h.6M941.7 410.3h.6M793.8 410.8h.6M788.8 412.1h.6M945.6 411.7h.6M942.6 413.0h.6M781.1 414.4h.6M786.6 414.0h.6M788.1 413.7h.6M945.4 414.4h.6M801.9 414.6h.6M793.9 415.7h.6M940.7 415.7h.6M789.1 416.9h.6M943.8 417.1h.6M788.4 418.4h.6M941.1 418.4h.6M786.7 418.7h.6M802.0 419.6h.6M944.9 419.8h.6M794.0 420.6h.6M789.3 421.7h.6M786.6 423.3h.6M788.0 423.1h.6M802.2 424.5h.6M794.1 425.4h.6M789.0 426.5h.6M786.4 427.9h.6M787.6 427.8h.6M802.4 429.4h.6M794.2 430.2h.6M788.8 431.2h.6M785.9 432.5h.6M802.5 434.2h.6M794.4 434.9h.6M787.2 436.2h.6M788.8 435.8h.6M802.7 439.1h.6M788.8 440.4h.6M794.7 439.7h.6M794.8 444.4h.6M802.7 444.0h.6M810.0 444.0h.6M794.9 449.2h.6M802.7 448.9h.6M809.9 449.0h.6M795.0 453.9h.6M802.7 453.8h.6M809.7 454.0h.6M795.1 458.7h.6M802.7 458.7h.6M809.6 459.0h.6M795.2 463.4h.6M802.6 463.6h.6M809.3 464.0h.6M815.6 464.5h.6M802.5 468.5h.6M809.1 469.0h.6M815.3 469.6h.6M802.4 473.4h.6M808.9 474.1h.6M815.1 474.7h.6M802.2 478.3h.6M808.6 479.1h.6M814.8 479.9h.6M802.1 483.2h.6M808.4 484.1h.6M814.6 485.0h.6M820.9 485.9h.6M808.3 489.1h.6M814.5 490.1h.6M820.7 491.1h.6M808.2 494.2h.6M814.4 495.2h.6M820.6 496.3h.6M808.1 499.2h.6M855.4 499.4h.6M814.3 500.4h.6M858.5 500.8h.6M820.6 501.5h.6M854.4 502.1h.6M827.0 502.6h.6M808.1 504.2h.6M858.2 503.5h.6M814.3 505.5h.6M853.0 504.8h.6M855.4 506.2h.6M820.7 506.7h.6M850.0 507.5h.6M827.2 507.9h.6M853.8 508.9h.6M814.5 510.6h.6M820.8 512.0h.6M827.6 513.2h.6M814.7 515.7h.6M821.1 517.2h.6M828.3 518.5h.6M815.0 520.8h.6M821.6 522.4h.6M829.1 523.8h.6M815.4 526.0h.6M822.1 527.6h.6M830.0 529.1h.6M822.9 532.8h.6M830.8 534.3h.6M837.4 535.7h.6M823.6 538.0h.6M831.4 539.6h.6M837.3 541.1h.6M824.4 543.2h.6M841.5 544.2h.6M831.8 544.9h.6M837.3 546.5h.6M825.1 548.3h.6M842.2 549.3h.6M832.1 550.2h.6M837.6 552.0h.6M825.7 553.5h.6M843.3 554.5h.6M832.4 555.5h.6M838.1 558.0h.6M844.6 559.7h.6M832.7 560.9h.6M839.1 563.1h.6M845.9 565.0h.6M833.3 566.2h.6M840.0 568.4h.6M846.8 570.4h.6M834.2 571.5h.6M853.6 572.3h.6M840.9 573.7h.6M847.7 575.8h.6M835.1 576.7h.6M854.5 577.8h.6M841.8 579.0h.6M848.6 581.2h.6M855.3 583.2h.6M842.7 584.3h.6M849.4 586.6h.6M856.2 588.7h.6M843.5 589.6h.6M850.2 592.0h.6M856.9 594.2h.6M844.3 594.9h.6M863.7 596.1h.6M851.0 597.3h.6M845.0 600.2h.6M857.7 599.6h.6" stroke="url(#dotm)" stroke-width="1.77" stroke-linecap="round" fill="none" opacity="0.64"/>
<path d="M813.6 91.2h.6M805.5 93.1h.6M813.6 96.5h.6M805.6 98.3h.6M813.7 101.8h.6M805.8 103.5h.6M798.0 105.0h.6M813.9 107.0h.6M806.0 108.6h.6M798.4 110.1h.6M814.2 112.2h.6M806.4 113.8h.6M798.8 115.2h.6M814.6 117.4h.6M806.9 118.9h.6M799.4 120.2h.6M815.1 122.6h.6M807.5 124.0h.6M800.0 125.3h.6M815.6 127.8h.6M808.1 129.1h.6M800.7 130.3h.6M816.3 133.0h.6M808.8 134.2h.6M801.5 135.3h.6M862.0 134.9h.6M864.5 136.3h.6M817.0 138.1h.6M858.6 137.6h.6M809.6 139.3h.6M862.4 139.0h.6M802.4 140.3h.6M857.7 140.3h.6M860.8 141.7h.6M817.8 143.2h.6M854.3 143.0h.6M810.5 144.3h.6M857.1 144.4h.6M803.3 145.3h.6M818.6 148.3h.6M811.4 149.4h.6M804.2 150.2h.6M812.3 154.4h.6M805.2 155.2h.6M798.2 155.8h.6M813.2 159.3h.6M806.2 160.1h.6M799.2 160.7h.6M814.1 164.3h.6M807.1 165.0h.6M800.2 165.5h.6M815.0 169.3h.6M801.2 170.4h.6M808.0 169.9h.6M815.8 174.2h.6M802.1 175.2h.6M808.9 174.8h.6M816.6 179.1h.6M802.9 180.1h.6M809.7 179.6h.6M810.4 184.5h.6M817.3 184.0h.6M803.7 184.9h.6M811.1 189.3h.6M817.9 188.9h.6M804.4 189.7h.6M804.9 194.5h.6M811.6 194.1h.6M818.4 193.7h.6M798.3 194.8h.6M805.4 199.3h.6M812.0 198.9h.6M818.8 198.6h.6M798.8 199.5h.6M799.2 204.3h.6M805.7 204.0h.6M812.3 203.7h.6M924.8 205.1h.6M927.3 206.5h.6M922.8 207.8h.6M799.4 209.1h.6M805.9 208.8h.6M812.5 208.5h.6M926.7 209.2h.6M922.8 210.5h.6M925.6 211.9h.6M812.5 213.3h.6M920.0 213.2h.6M799.5 213.9h.6M806.0 213.6h.6M923.1 214.6h.6M919.7 215.9h.6M923.6 217.3h.6M805.9 218.3h.6M812.5 218.1h.6M799.5 218.6h.6M919.2 218.6h.6M921.7 220.0h.6M799.3 223.4h.6M805.7 223.1h.6M812.2 222.8h.6M818.8 222.6h.6M818.4 227.3h.6M799.0 228.1h.6M805.4 227.9h.6M811.9 227.6h.6M811.4 232.3h.6M817.9 232.1h.6M798.6 232.9h.6M805.0 232.6h.6M804.4 237.4h.6M810.8 237.1h.6M817.3 236.8h.6M798.1 237.7h.6M803.8 242.1h.6M810.2 241.8h.6M816.6 241.5h.6M815.8 246.3h.6M803.0 246.9h.6M809.4 246.5h.6M808.2 251.3h.6M814.8 251.0h.6M800.8 251.9h.6M812.9 255.9h.6M800.8 257.5h.6M805.6 256.7h.6M801.2 261.0h.6M807.8 260.5h.6M812.7 261.2h.6M817.9 260.6h.6M805.6 265.5h.6M812.0 265.1h.6M818.6 264.8h.6M799.5 265.9h.6M804.6 270.2h.6M810.7 269.9h.6M816.9 269.6h.6M798.5 270.6h.6M815.8 274.3h.6M803.5 274.9h.6M809.6 274.6h.6M808.6 279.3h.6M814.7 279.0h.6M802.5 279.7h.6M801.5 284.4h.6M807.5 284.0h.6M813.6 283.7h.6M812.5 288.4h.6M818.6 288.1h.6M800.6 289.2h.6M806.5 288.7h.6M805.6 293.4h.6M811.5 293.1h.6M817.5 292.8h.6M799.7 293.9h.6M816.6 297.5h.6M804.7 298.2h.6M810.6 297.8h.6M798.8 298.7h.6M815.7 302.2h.6M798.1 303.4h.6M803.9 302.9h.6M809.7 302.5h.6M809.0 307.2h.6M814.8 306.9h.6M803.1 307.7h.6M802.5 312.4h.6M808.3 312.0h.6M814.1 311.6h.6M813.5 316.4h.6M802.0 317.2h.6M807.7 316.7h.6M807.3 321.5h.6M813.1 321.1h.6M801.6 321.9h.6M807.0 326.2h.6M812.8 325.8h.6M818.6 325.6h.6M801.3 326.7h.6M818.4 330.3h.6M801.0 331.5h.6M806.7 331.0h.6M812.5 330.6h.6M812.4 335.4h.6M818.3 335.1h.6M800.9 336.3h.6M806.6 335.8h.6M812.4 340.1h.6M818.3 339.9h.6M800.7 341.1h.6M806.6 340.6h.6M806.6 345.4h.6M812.5 344.9h.6M818.4 344.7h.6M800.6 345.9h.6M818.5 349.5h.6M806.7 350.2h.6M812.6 349.8h.6M800.5 350.8h.6M818.7 354.3h.6M806.8 355.0h.6M812.8 354.6h.6M800.4 355.6h.6M813.1 359.4h.6M807.0 359.9h.6M800.3 360.5h.6M813.4 364.3h.6M800.2 365.4h.6M807.2 364.7h.6M813.7 369.2h.6M800.3 370.4h.6M807.4 369.6h.6M814.1 374.1h.6M800.3 375.3h.6M807.7 374.5h.6M807.9 379.4h.6M814.5 379.0h.6M800.4 380.2h.6M808.3 384.4h.6M814.8 383.9h.6M800.7 385.1h.6M808.6 389.3h.6M815.2 388.8h.6M801.0 390.0h.6M809.0 394.2h.6M815.6 393.8h.6M801.3 394.9h.6M809.3 399.1h.6M815.9 398.8h.6M801.5 399.8h.6M809.5 404.1h.6M816.2 403.8h.6M801.7 404.8h.6M809.7 409.1h.6M816.4 408.8h.6M801.9 409.7h.6M809.8 414.0h.6M816.6 413.8h.6M809.9 419.0h.6M816.7 418.8h.6M823.0 418.7h.6M810.0 424.0h.6M816.8 423.8h.6M823.1 423.8h.6M810.1 429.0h.6M816.8 428.9h.6M823.1 428.9h.6M810.2 434.0h.6M816.8 434.0h.6M823.0 434.0h.6M810.1 439.0h.6M816.7 439.0h.6M822.9 439.2h.6M829.2 439.4h.6M816.5 444.1h.6M822.8 444.3h.6M829.0 444.6h.6M816.3 449.2h.6M822.6 449.5h.6M828.8 449.8h.6M816.1 454.3h.6M822.3 454.7h.6M828.6 455.1h.6M815.9 459.4h.6M822.1 459.8h.6M828.4 460.3h.6M834.7 460.9h.6M821.8 465.0h.6M828.1 465.6h.6M834.5 466.2h.6M821.5 470.2h.6M827.8 470.8h.6M834.2 471.5h.6M821.3 475.4h.6M827.6 476.1h.6M834.0 476.9h.6M821.1 480.6h.6M827.4 481.4h.6M833.8 482.2h.6M840.2 483.1h.6M871.9 483.2h.6M867.8 485.9h.6M827.2 486.7h.6M871.2 487.3h.6M833.6 487.6h.6M840.1 488.5h.6M866.5 488.6h.6M870.1 490.0h.6M863.7 491.3h.6M827.1 492.0h.6M833.5 493.0h.6M866.2 492.7h.6M840.3 493.9h.6M860.4 494.0h.6M864.3 495.4h.6M827.0 497.3h.6M859.3 496.7h.6M833.6 498.3h.6M862.2 498.1h.6M841.2 499.3h.6M833.9 503.7h.6M842.3 504.6h.6M834.6 509.1h.6M843.5 509.9h.6M849.2 510.7h.6M835.8 514.4h.6M843.8 515.2h.6M846.8 519.0h.6M850.4 519.5h.6M836.8 519.7h.6M843.2 520.6h.6M845.7 524.3h.6M837.3 525.0h.6M851.2 524.6h.6M842.2 526.1h.6M845.3 529.4h.6M837.5 530.3h.6M852.4 529.9h.6M841.2 533.7h.6M845.7 534.5h.6M853.7 535.2h.6M841.1 539.0h.6M846.7 539.8h.6M854.7 540.7h.6M847.9 545.1h.6M855.8 546.2h.6M863.2 547.5h.6M849.2 550.5h.6M856.8 551.8h.6M863.9 553.1h.6M850.5 555.9h.6M857.8 557.3h.6M864.8 558.8h.6M851.7 561.3h.6M858.7 562.9h.6M865.6 564.4h.6M852.7 566.8h.6M859.6 568.4h.6M866.5 570.0h.6M873.4 571.4h.6M860.4 574.0h.6M867.3 575.6h.6M874.3 577.0h.6M861.3 579.6h.6M868.2 581.2h.6M875.1 582.6h.6M862.2 585.1h.6M869.0 586.8h.6M875.9 588.2h.6M863.0 590.6h.6M869.8 592.3h.6M876.6 593.8h.6M883.5 595.1h.6M870.5 597.9h.6M877.3 599.4h.6M884.2 600.7h.6" stroke="url(#dotg)" stroke-width="1.95" stroke-linecap="round" fill="none" opacity="0.76"/>
<path d="M821.8 89.3h.6M907.3 89.0h.6M911.2 90.4h.6M905.4 91.7h.6M830.0 92.6h.6M908.3 93.1h.6M900.7 94.4h.6M821.7 94.6h.6M903.6 95.8h.6M897.9 97.1h.6M829.9 98.0h.6M901.7 98.5h.6M821.7 99.9h.6M895.1 99.8h.6M897.5 101.2h.6M891.1 102.5h.6M830.0 103.4h.6M894.8 103.9h.6M821.8 105.2h.6M889.9 105.2h.6M893.1 106.6h.6M886.2 107.9h.6M830.1 108.7h.6M888.9 109.3h.6M822.1 110.5h.6M883.5 110.6h.6M887.5 112.0h.6M881.9 113.3h.6M830.3 114.0h.6M884.4 114.7h.6M822.4 115.8h.6M877.9 116.0h.6M881.3 117.4h.6M830.6 119.4h.6M876.6 118.7h.6M880.2 120.1h.6M822.8 121.1h.6M873.7 121.4h.6M876.2 122.8h.6M870.6 124.1h.6M831.1 124.7h.6M823.3 126.3h.6M874.5 125.5h.6M869.5 126.8h.6M872.2 128.2h.6M865.7 129.5h.6M831.6 129.9h.6M868.8 130.9h.6M823.9 131.5h.6M864.2 132.2h.6M867.9 133.6h.6M832.1 135.2h.6M824.5 136.7h.6M832.9 140.5h.6M825.2 141.9h.6M833.9 145.7h.6M826.0 147.1h.6M835.5 150.8h.6M827.0 152.2h.6M819.5 153.4h.6M837.0 155.9h.6M828.3 157.3h.6M820.4 158.4h.6M837.5 161.0h.6M829.4 162.4h.6M821.4 163.5h.6M837.1 166.1h.6M830.1 167.4h.6M822.4 168.5h.6M837.0 171.8h.6M822.9 173.5h.6M830.2 172.5h.6M837.8 176.6h.6M823.5 178.4h.6M830.6 177.6h.6M824.2 183.4h.6M831.2 182.6h.6M824.8 188.3h.6M831.8 187.6h.6M825.2 193.2h.6M832.2 192.5h.6M832.5 197.5h.6M825.6 198.1h.6M832.7 202.4h.6M819.0 203.4h.6M825.8 203.0h.6M832.8 207.3h.6M819.2 208.2h.6M826.0 207.8h.6M832.8 212.1h.6M819.2 213.0h.6M825.9 212.6h.6M825.8 217.4h.6M832.6 217.0h.6M819.1 217.8h.6M917.2 221.3h.6M825.5 222.2h.6M832.3 221.8h.6M921.0 222.7h.6M917.9 224.0h.6M921.1 225.4h.6M825.1 227.0h.6M831.8 226.6h.6M916.0 226.7h.6M918.8 228.1h.6M915.4 229.4h.6M831.2 231.4h.6M838.0 231.0h.6M919.3 230.8h.6M824.5 231.8h.6M915.4 232.1h.6M917.9 233.5h.6M913.1 234.8h.6M830.5 236.2h.6M837.2 235.8h.6M916.6 236.2h.6M823.9 236.5h.6M913.4 237.5h.6M916.8 238.9h.6M911.7 240.2h.6M823.1 241.3h.6M829.7 241.0h.6M836.4 240.6h.6M914.3 241.6h.6M910.2 242.9h.6M914.1 244.3h.6M835.4 245.3h.6M822.2 246.0h.6M828.8 245.7h.6M910.4 245.6h.6M913.1 247.0h.6M907.8 248.3h.6M827.8 250.4h.6M834.4 250.1h.6M911.0 249.7h.6M821.3 250.7h.6M907.8 251.0h.6M911.5 252.4h.6M906.8 253.7h.6M820.1 255.5h.6M826.7 255.2h.6M833.3 254.9h.6M909.3 255.1h.6M904.9 256.4h.6M908.7 257.8h.6M905.4 259.1h.6M824.9 260.0h.6M832.0 259.6h.6M908.4 260.5h.6M903.2 261.8h.6M906.1 263.2h.6M824.5 264.5h.6M837.0 264.1h.6M902.6 264.5h.6M830.3 264.6h.6M906.5 265.9h.6M902.3 267.2h.6M823.2 269.3h.6M829.6 269.0h.6M836.1 268.7h.6M904.8 268.6h.6M900.1 269.9h.6M903.8 271.3h.6M834.8 273.5h.6M900.8 272.6h.6M822.0 274.0h.6M828.4 273.7h.6M904.1 274.0h.6M899.2 275.3h.6M901.8 276.7h.6M827.1 278.5h.6M833.5 278.2h.6M898.2 278.0h.6M820.9 278.7h.6M902.2 279.4h.6M898.5 280.7h.6M901.2 282.1h.6M819.7 283.4h.6M825.9 283.2h.6M832.2 282.9h.6M896.3 283.4h.6M899.6 284.8h.6M896.6 286.1h.6M837.3 287.4h.6M824.8 287.9h.6M831.0 287.6h.6M900.2 287.5h.6M895.6 288.8h.6M898.1 290.2h.6M894.0 291.5h.6M829.8 292.4h.6M836.1 292.2h.6M823.7 292.6h.6M897.9 292.9h.6M894.6 294.2h.6M897.5 295.6h.6M822.6 297.3h.6M828.8 297.1h.6M835.0 296.9h.6M892.5 296.9h.6M895.5 298.3h.6M892.3 299.6h.6M896.2 301.0h.6M821.7 302.0h.6M827.8 301.8h.6M833.9 301.6h.6M892.0 302.3h.6M894.4 303.7h.6M889.9 305.0h.6M833.0 306.4h.6M893.6 306.4h.6M820.8 306.7h.6M826.9 306.5h.6M890.6 307.7h.6M893.8 309.1h.6M888.8 310.4h.6M820.1 311.4h.6M826.1 311.2h.6M832.1 311.1h.6M891.6 311.8h.6M888.1 313.1h.6M892.1 314.5h.6M819.4 316.1h.6M825.4 315.9h.6M831.4 315.9h.6M837.5 315.8h.6M888.3 315.8h.6M890.8 317.2h.6M886.0 318.5h.6M889.5 319.9h.6M818.9 320.8h.6M824.9 320.7h.6M830.9 320.6h.6M837.0 320.6h.6M886.5 321.2h.6M890.0 322.6h.6M885.3 323.9h.6M824.6 325.4h.6M830.6 325.4h.6M836.7 325.4h.6M887.8 325.3h.6M883.9 326.6h.6M887.9 328.0h.6M884.5 329.3h.6M824.4 330.2h.6M830.4 330.1h.6M836.5 330.2h.6M887.2 330.7h.6M882.3 332.0h.6M885.4 333.4h.6M824.3 334.9h.6M830.3 334.9h.6M836.4 335.0h.6M882.5 334.7h.6M886.3 336.1h.6M882.0 337.4h.6M884.5 338.8h.6M824.2 339.7h.6M830.3 339.7h.6M836.4 339.8h.6M880.3 340.1h.6M884.1 341.5h.6M881.2 342.8h.6M884.3 344.2h.6M824.3 344.5h.6M830.4 344.5h.6M836.5 344.7h.6M879.4 345.5h.6M882.2 346.9h.6M879.1 348.2h.6M824.5 349.3h.6M830.6 349.3h.6M836.7 349.5h.6M883.0 349.6h.6M879.2 350.9h.6M881.7 352.3h.6M824.8 354.2h.6M830.8 354.2h.6M837.0 354.3h.6M877.2 353.6h.6M880.7 355.0h.6M877.9 356.3h.6M881.3 357.7h.6M819.0 359.1h.6M825.1 359.0h.6M831.2 359.0h.6M837.4 359.2h.6M877.2 359.0h.6M879.8 360.4h.6M877.1 361.7h.6M881.1 363.1h.6M819.4 364.0h.6M825.4 363.9h.6M831.6 363.9h.6M837.8 364.1h.6M878.6 364.4h.6M881.3 365.8h.6M877.4 367.1h.6M819.8 368.9h.6M825.8 368.8h.6M832.0 368.8h.6M880.7 368.5h.6M878.8 369.8h.6M882.4 371.2h.6M878.9 372.5h.6M820.2 373.8h.6M826.3 373.7h.6M832.4 373.7h.6M881.4 373.9h.6M878.3 375.2h.6M882.2 376.6h.6M881.2 377.9h.6M820.6 378.7h.6M826.7 378.6h.6M832.9 378.7h.6M884.1 379.3h.6M882.0 380.6h.6M885.0 382.0h.6M884.7 383.3h.6M821.0 383.6h.6M827.1 383.5h.6M833.3 383.6h.6M888.6 384.7h.6M887.4 386.0h.6M889.8 387.4h.6M821.4 388.6h.6M827.6 388.5h.6M833.8 388.6h.6M888.2 388.7h.6M891.9 390.1h.6M891.9 391.4h.6M895.1 392.8h.6M821.8 393.6h.6M828.0 393.5h.6M834.2 393.6h.6M892.8 394.1h.6M895.5 395.5h.6M894.6 396.8h.6M898.5 398.2h.6M822.1 398.6h.6M828.3 398.5h.6M834.6 398.6h.6M897.5 399.5h.6M900.0 400.9h.6M897.8 402.2h.6M822.4 403.6h.6M828.6 403.6h.6M834.9 403.7h.6M901.2 403.6h.6M900.9 404.9h.6M904.4 406.3h.6M902.2 407.6h.6M822.7 408.6h.6M828.9 408.6h.6M835.2 408.8h.6M904.7 409.0h.6M902.1 410.3h.6M906.0 411.7h.6M904.0 413.0h.6M822.9 413.7h.6M829.1 413.7h.6M835.4 413.9h.6M841.8 414.3h.6M906.8 414.4h.6M903.0 415.7h.6M906.1 417.1h.6M904.3 418.4h.6M829.2 418.8h.6M835.5 419.0h.6M841.9 419.4h.6M908.1 419.8h.6M905.0 421.1h.6M907.5 422.5h.6M829.3 423.9h.6M835.6 424.2h.6M904.4 423.8h.6M842.0 424.6h.6M908.2 425.2h.6M906.4 426.5h.6M909.5 427.9h.6M829.3 429.1h.6M835.6 429.4h.6M905.1 429.2h.6M842.0 429.8h.6M907.9 430.6h.6M904.9 431.9h.6M908.8 433.3h.6M829.3 434.2h.6M835.6 434.6h.6M842.0 435.0h.6M905.3 434.6h.6M907.8 436.0h.6M903.4 437.3h.6M906.9 438.7h.6M835.5 439.8h.6M841.9 440.3h.6M904.4 440.0h.6M848.4 440.9h.6M907.8 441.4h.6M903.3 442.7h.6M905.8 444.1h.6M835.4 445.0h.6M901.9 445.4h.6M841.8 445.6h.6M848.3 446.2h.6M905.9 446.8h.6M901.5 448.1h.6M835.2 450.3h.6M904.2 449.5h.6M841.6 450.9h.6M898.4 450.8h.6M848.1 451.6h.6M901.6 452.2h.6M897.7 453.5h.6M901.4 454.9h.6M834.9 455.6h.6M841.4 456.2h.6M896.0 456.2h.6M847.9 456.9h.6M898.4 457.6h.6M893.4 458.9h.6M897.2 460.3h.6M841.1 461.5h.6M847.7 462.3h.6M893.2 461.6h.6M854.3 463.2h.6M896.1 463.0h.6M890.2 464.3h.6M893.1 465.7h.6M840.9 466.9h.6M888.2 467.0h.6M847.4 467.7h.6M892.1 468.4h.6M854.0 468.6h.6M885.9 469.7h.6M888.4 471.1h.6M840.7 472.3h.6M881.7 472.4h.6M847.2 473.1h.6M853.9 474.1h.6M885.3 473.8h.6M880.2 475.1h.6M883.5 476.5h.6M840.4 477.7h.6M876.5 477.8h.6M847.0 478.5h.6M879.1 479.2h.6M853.9 479.5h.6M873.4 480.5h.6M877.4 481.9h.6M846.9 484.0h.6M854.8 484.9h.6M874.5 484.6h.6M847.3 489.4h.6M856.5 490.2h.6M848.6 494.8h.6M857.7 495.4h.6M860.3 496.2h.6M850.4 500.0h.6M862.5 500.1h.6M856.0 500.6h.6M850.6 505.3h.6M856.9 504.9h.6M863.5 504.8h.6M853.2 509.4h.6M856.2 509.7h.6M865.1 509.9h.6M850.8 514.6h.6M857.3 514.6h.6M866.4 515.3h.6M858.8 519.8h.6M867.1 520.8h.6M859.9 525.2h.6M867.7 526.4h.6M860.9 530.7h.6M868.3 532.0h.6M875.3 533.2h.6M861.7 536.3h.6M868.8 537.6h.6M875.8 538.9h.6M862.4 541.9h.6M869.5 543.2h.6M876.5 544.5h.6M870.2 548.8h.6M877.2 550.1h.6M870.9 554.5h.6M877.9 555.7h.6M885.0 557.0h.6M871.7 560.1h.6M878.7 561.4h.6M885.7 562.6h.6M872.6 565.7h.6M879.6 567.0h.6M886.6 568.2h.6M880.4 572.6h.6M887.4 573.8h.6M881.2 578.3h.6M888.2 579.4h.6M895.2 580.4h.6M882.0 583.9h.6M889.0 585.0h.6M896.0 586.0h.6M882.8 589.5h.6M889.8 590.6h.6M896.7 591.6h.6M890.4 596.2h.6M897.4 597.2h.6" stroke="url(#dotg)" stroke-width="2.14" stroke-linecap="round" fill="none" opacity="0.89"/>
<path d="M847.0 88.6h.6M873.7 88.7h.6M864.2 90.3h.6M918.4 90.1h.6M838.4 90.6h.6M902.6 90.6h.6M855.4 92.1h.6M886.0 92.5h.6M959.3 92.4h.6M909.0 93.3h.6M946.6 92.9h.6M846.8 94.0h.6M873.1 94.0h.6M933.9 93.6h.6M901.0 95.3h.6M919.7 94.6h.6M838.3 96.0h.6M863.9 95.7h.6M957.8 97.5h.6M855.2 97.5h.6M887.7 97.6h.6M903.8 97.6h.6M945.3 98.0h.6M846.7 99.5h.6M872.9 99.4h.6M932.8 98.7h.6M920.1 99.6h.6M838.2 101.4h.6M863.7 101.1h.6M889.5 102.5h.6M903.9 101.5h.6M855.1 102.9h.6M944.1 103.1h.6M956.5 102.6h.6M931.8 103.8h.6M846.6 104.9h.6M873.5 104.7h.6M894.9 104.9h.6M919.6 104.7h.6M863.7 106.5h.6M905.4 106.1h.6M838.3 106.8h.6M888.1 107.3h.6M855.1 108.3h.6M943.1 108.2h.6M955.3 107.6h.6M890.6 109.4h.6M931.0 108.9h.6M846.7 110.3h.6M875.5 109.8h.6M918.9 109.8h.6M906.4 111.0h.6M838.4 112.2h.6M864.3 111.8h.6M942.2 113.3h.6M954.2 112.7h.6M855.2 113.7h.6M890.4 113.5h.6M930.2 114.1h.6M877.6 114.8h.6M918.4 115.0h.6M846.8 115.6h.6M906.5 116.2h.6M866.0 117.1h.6M882.9 117.0h.6M838.7 117.5h.6M892.4 118.0h.6M941.4 118.4h.6M953.3 117.8h.6M855.7 119.1h.6M929.6 119.2h.6M876.4 119.7h.6M917.9 120.2h.6M847.1 121.0h.6M906.3 121.4h.6M868.6 122.1h.6M878.7 121.6h.6M839.0 122.9h.6M894.0 122.9h.6M940.7 123.5h.6M952.4 122.8h.6M857.3 124.4h.6M929.1 124.3h.6M917.6 125.4h.6M847.7 126.4h.6M878.7 125.7h.6M868.8 127.0h.6M906.2 126.6h.6M963.4 127.3h.6M839.4 128.2h.6M894.7 128.1h.6M951.8 127.9h.6M871.4 129.3h.6M928.7 129.5h.6M940.2 128.6h.6M859.8 129.5h.6M881.4 130.2h.6M917.4 130.6h.6M849.0 131.7h.6M865.2 132.3h.6M906.1 131.9h.6M962.6 132.4h.6M895.0 133.4h.6M951.2 132.9h.6M840.1 133.5h.6M868.3 133.6h.6M939.8 133.7h.6M860.8 134.5h.6M883.3 135.2h.6M928.5 134.6h.6M917.2 135.7h.6M851.2 136.8h.6M906.1 137.1h.6M961.9 137.4h.6M869.5 137.8h.6M950.6 138.0h.6M841.2 138.8h.6M895.2 138.7h.6M939.4 138.8h.6M858.5 139.7h.6M884.3 140.4h.6M928.2 139.7h.6M861.6 140.9h.6M917.2 140.9h.6M852.8 141.9h.6M872.2 142.5h.6M906.2 142.4h.6M961.3 142.5h.6M950.2 143.1h.6M843.1 144.0h.6M895.4 144.0h.6M939.1 143.9h.6M861.6 145.2h.6M928.1 144.9h.6M884.8 145.7h.6M917.1 146.1h.6M851.8 147.0h.6M855.4 147.9h.6M873.9 147.6h.6M906.3 147.6h.6M949.7 148.1h.6M960.7 147.5h.6M844.9 149.0h.6M895.7 149.2h.6M938.8 149.0h.6M863.7 149.8h.6M927.9 150.1h.6M885.2 151.0h.6M917.4 151.3h.6M854.8 152.4h.6M874.9 152.9h.6M907.0 152.9h.6M949.1 153.4h.6M959.7 152.7h.6M844.7 154.1h.6M938.9 154.1h.6M849.4 154.7h.6M865.6 154.8h.6M896.4 154.5h.6M928.8 155.2h.6M885.9 156.3h.6M856.6 157.0h.6M918.5 156.5h.6M875.6 158.2h.6M908.0 158.1h.6M958.2 157.9h.6M843.4 159.4h.6M848.7 159.2h.6M938.8 159.1h.6M948.2 158.7h.6M866.7 160.1h.6M897.2 159.8h.6M929.4 160.3h.6M858.3 161.9h.6M886.6 161.6h.6M919.5 161.7h.6M876.2 163.5h.6M908.9 163.3h.6M956.6 163.1h.6M849.9 163.9h.6M938.5 164.2h.6M947.1 164.0h.6M867.3 165.3h.6M897.9 165.1h.6M929.9 165.4h.6M843.0 165.7h.6M859.4 167.1h.6M887.1 166.9h.6M920.3 166.9h.6M954.9 168.4h.6M851.4 168.8h.6M876.8 168.8h.6M909.7 168.6h.6M938.0 169.3h.6M945.8 169.3h.6M843.8 170.4h.6M898.5 170.4h.6M867.8 170.6h.6M930.1 170.5h.6M860.0 172.3h.6M887.6 172.2h.6M921.0 172.1h.6M964.0 172.8h.6M852.4 173.9h.6M877.2 174.1h.6M910.4 173.8h.6M937.2 174.3h.6M953.2 173.6h.6M845.1 175.4h.6M944.4 174.6h.6M868.2 175.9h.6M899.0 175.6h.6M930.1 175.7h.6M921.5 177.3h.6M860.5 177.6h.6M887.9 177.5h.6M962.5 177.9h.6M853.0 179.1h.6M877.5 179.4h.6M910.9 179.0h.6M951.5 178.8h.6M845.6 180.5h.6M942.7 179.9h.6M868.5 181.1h.6M899.3 180.9h.6M929.9 180.8h.6M936.2 181.2h.6M838.4 181.6h.6M921.8 182.4h.6M860.9 182.8h.6M888.1 182.8h.6M961.2 183.1h.6M853.4 184.3h.6M911.2 184.3h.6M949.8 184.0h.6M877.7 184.6h.6M941.0 185.2h.6M846.1 185.6h.6M868.8 186.4h.6M899.4 186.2h.6M929.4 186.0h.6M838.9 186.7h.6M934.9 186.6h.6M861.2 188.0h.6M888.1 188.1h.6M921.8 187.7h.6M959.8 188.2h.6M853.7 189.4h.6M948.2 189.2h.6M877.8 189.9h.6M911.2 189.5h.6M846.4 190.7h.6M899.3 191.4h.6M928.7 191.1h.6M939.1 190.6h.6M839.3 191.7h.6M868.9 191.6h.6M933.4 192.0h.6M861.3 193.1h.6M887.9 193.3h.6M921.6 192.9h.6M958.5 193.4h.6M946.5 194.4h.6M853.9 194.5h.6M877.7 195.1h.6M911.0 194.8h.6M846.7 195.7h.6M927.8 196.3h.6M937.2 195.9h.6M839.6 196.7h.6M868.9 196.8h.6M898.9 196.7h.6M931.8 197.5h.6M861.4 198.3h.6M921.2 198.1h.6M887.5 198.6h.6M957.2 198.5h.6M854.0 199.6h.6M877.4 200.3h.6M910.6 200.0h.6M944.9 199.6h.6M846.8 200.7h.6M926.4 201.5h.6M935.1 201.2h.6M839.7 201.6h.6M868.7 201.9h.6M898.4 202.0h.6M861.3 203.4h.6M920.4 203.3h.6M929.8 202.9h.6M887.0 203.8h.6M956.0 203.7h.6M854.0 204.7h.6M910.0 205.3h.6M943.4 204.8h.6M846.8 205.7h.6M877.0 205.5h.6M932.9 206.5h.6M839.8 206.6h.6M868.5 207.1h.6M897.6 207.2h.6M924.5 206.7h.6M861.1 208.5h.6M927.2 208.3h.6M886.2 209.0h.6M919.2 208.5h.6M954.8 208.8h.6M853.8 209.7h.6M942.3 209.9h.6M846.7 210.7h.6M876.4 210.7h.6M908.9 210.5h.6M839.7 211.5h.6M868.1 212.2h.6M896.5 212.5h.6M922.3 211.9h.6M931.1 211.7h.6M860.7 213.6h.6M885.2 214.3h.6M917.7 213.8h.6M924.7 213.7h.6M953.6 214.0h.6M853.5 214.7h.6M941.3 215.1h.6M839.5 216.4h.6M846.5 215.6h.6M875.6 215.9h.6M907.5 215.8h.6M867.5 217.3h.6M920.5 217.2h.6M929.4 216.9h.6M894.9 217.7h.6M860.2 218.6h.6M884.0 219.5h.6M916.2 219.0h.6M922.4 219.0h.6M951.8 219.2h.6M962.1 218.7h.6M853.1 219.7h.6M939.8 220.3h.6M839.1 221.3h.6M846.1 220.6h.6M874.7 221.0h.6M905.4 221.1h.6M866.8 222.4h.6M919.0 222.4h.6M927.6 222.2h.6M893.0 223.0h.6M859.6 223.6h.6M914.4 224.4h.6M920.5 224.5h.6M949.8 224.5h.6M959.7 224.0h.6M845.5 225.5h.6M852.5 224.6h.6M882.5 224.7h.6M838.6 226.1h.6M873.6 226.2h.6M903.0 226.4h.6M938.2 225.6h.6M866.0 227.5h.6M890.9 228.3h.6M917.5 227.7h.6M925.8 227.5h.6M858.9 228.6h.6M957.2 229.3h.6M844.9 230.4h.6M851.8 229.6h.6M881.1 229.9h.6M912.3 229.7h.6M918.6 229.9h.6M947.7 229.8h.6M872.4 231.3h.6M936.4 230.8h.6M900.3 231.8h.6M865.1 232.5h.6M916.0 233.0h.6M924.0 232.8h.6M858.0 233.6h.6M888.8 233.5h.6M844.1 235.2h.6M851.0 234.5h.6M879.6 235.0h.6M909.9 235.1h.6M916.7 235.4h.6M945.3 235.1h.6M954.5 234.6h.6M963.2 234.5h.6M871.2 236.4h.6M934.6 236.1h.6M897.5 237.1h.6M864.0 237.6h.6M914.0 238.3h.6M922.2 238.1h.6M850.0 239.4h.6M857.0 238.6h.6M886.7 238.7h.6M843.2 240.1h.6M878.0 240.2h.6M907.3 240.4h.6M942.8 240.5h.6M951.7 240.0h.6M960.3 239.9h.6M870.0 241.4h.6M914.6 240.9h.6M932.7 241.4h.6M895.1 242.4h.6M862.9 242.6h.6M920.2 243.4h.6M849.0 244.3h.6M855.9 243.5h.6M884.9 243.9h.6M911.9 243.7h.6M842.1 244.9h.6M876.4 245.3h.6M948.8 245.4h.6M957.3 245.2h.6M905.1 245.8h.6M912.4 246.3h.6M940.0 245.9h.6M868.7 246.5h.6M930.0 246.9h.6M854.7 248.4h.6M861.6 247.6h.6M893.1 247.6h.6M847.8 249.1h.6M883.1 249.1h.6M909.7 249.0h.6M917.7 248.9h.6M841.1 249.7h.6M874.7 250.4h.6M902.9 251.1h.6M937.2 251.3h.6M945.9 250.8h.6M954.3 250.7h.6M962.6 250.8h.6M867.3 251.5h.6M910.2 251.7h.6M927.2 252.3h.6M853.4 253.3h.6M860.3 252.5h.6M891.0 252.9h.6M839.9 254.5h.6M846.6 254.0h.6M881.2 254.3h.6M907.7 254.4h.6M915.0 254.4h.6M873.0 255.5h.6M900.5 256.4h.6M942.9 256.3h.6M951.3 256.1h.6M959.5 256.2h.6M858.9 257.5h.6M865.8 256.6h.6M908.1 257.2h.6M934.4 256.8h.6M852.0 258.2h.6M888.9 258.1h.6M924.3 257.8h.6M838.6 259.2h.6M845.3 258.8h.6M879.3 259.5h.6M905.7 259.8h.6M912.4 259.9h.6M871.3 260.6h.6M857.4 262.4h.6M864.3 261.6h.6M898.2 261.8h.6M931.6 262.3h.6M940.1 261.8h.6M948.3 261.6h.6M956.4 261.7h.6M850.6 263.1h.6M886.7 263.4h.6M906.1 262.7h.6M921.5 263.4h.6M843.9 263.6h.6M877.4 264.6h.6M903.7 265.2h.6M869.7 265.7h.6M909.8 265.5h.6M855.9 267.3h.6M862.7 266.6h.6M895.8 267.1h.6M937.2 267.3h.6M945.3 267.1h.6M953.3 267.1h.6M842.6 268.4h.6M849.2 267.9h.6M904.1 268.2h.6M928.8 267.8h.6M961.2 267.5h.6M884.5 268.6h.6M918.7 268.9h.6M875.5 269.8h.6M868.0 270.7h.6M901.7 270.7h.6M907.2 271.1h.6M854.5 272.2h.6M861.2 271.5h.6M893.4 272.4h.6M841.3 273.1h.6M847.8 272.7h.6M926.0 273.4h.6M934.4 272.8h.6M942.4 272.6h.6M950.3 272.6h.6M958.2 273.0h.6M882.3 273.9h.6M902.4 273.7h.6M915.9 274.5h.6M873.6 274.9h.6M866.5 275.8h.6M899.8 276.1h.6M853.0 277.1h.6M859.7 276.5h.6M904.7 276.8h.6M839.9 277.9h.6M846.4 277.6h.6M891.0 277.8h.6M931.7 278.4h.6M939.6 278.1h.6M947.5 278.2h.6M880.3 279.1h.6M900.8 279.2h.6M923.4 278.9h.6M955.2 278.5h.6M962.8 279.1h.6M871.8 280.0h.6M913.1 280.1h.6M858.2 281.5h.6M864.9 280.8h.6M845.0 282.4h.6M851.6 282.0h.6M897.9 281.5h.6M902.4 282.4h.6M838.6 282.7h.6M888.7 283.1h.6M878.3 284.3h.6M929.2 284.0h.6M937.0 283.7h.6M944.7 283.7h.6M952.3 284.0h.6M870.2 285.2h.6M899.3 284.6h.6M920.9 284.5h.6M959.9 284.6h.6M856.7 286.4h.6M863.4 285.8h.6M910.6 285.7h.6M843.7 287.2h.6M850.2 286.8h.6M896.0 286.9h.6M886.6 288.4h.6M900.3 288.0h.6M934.4 289.3h.6M942.1 289.3h.6M868.7 290.3h.6M876.5 289.5h.6M897.7 290.1h.6M918.5 290.2h.6M926.7 289.6h.6M949.6 289.6h.6M957.1 290.1h.6M855.4 291.3h.6M862.0 290.9h.6M908.2 291.4h.6M842.4 292.0h.6M848.9 291.7h.6M894.2 292.4h.6M884.7 293.8h.6M898.3 293.7h.6M867.3 295.4h.6M874.8 294.7h.6M924.4 295.2h.6M932.1 295.0h.6M939.6 295.0h.6M947.1 295.2h.6M854.1 296.2h.6M860.6 295.9h.6M896.2 295.6h.6M916.2 295.8h.6M954.4 295.7h.6M961.7 296.4h.6M841.3 296.7h.6M847.6 296.5h.6M894.6 296.6h.6M906.0 297.0h.6M892.4 297.8h.6M883.0 299.1h.6M896.5 299.3h.6M866.0 300.4h.6M873.3 299.9h.6M846.5 301.4h.6M852.9 301.1h.6M859.3 300.8h.6M914.2 301.4h.6M922.3 300.9h.6M929.8 300.6h.6M937.3 300.6h.6M944.6 300.8h.6M952.0 301.3h.6M840.2 301.5h.6M893.0 302.0h.6M959.2 301.9h.6M890.9 303.1h.6M904.1 302.6h.6M881.5 304.3h.6M872.0 305.1h.6M894.7 304.8h.6M839.2 306.3h.6M845.4 306.2h.6M851.8 306.0h.6M858.2 305.8h.6M864.8 305.5h.6M927.8 306.3h.6M935.1 306.3h.6M942.4 306.5h.6M891.4 307.5h.6M912.3 307.1h.6M920.3 306.6h.6M949.6 306.9h.6M902.2 308.3h.6M956.8 307.5h.6M963.8 308.4h.6M889.4 308.5h.6M870.9 310.2h.6M880.3 309.6h.6M893.1 310.4h.6M838.3 311.1h.6M844.5 311.0h.6M850.8 310.9h.6M857.2 310.8h.6M863.7 310.6h.6M918.5 312.3h.6M925.9 312.0h.6M933.1 312.0h.6M940.3 312.1h.6M947.5 312.5h.6M889.8 313.0h.6M910.6 312.8h.6M954.5 313.1h.6M888.1 313.9h.6M900.7 313.9h.6M961.5 313.9h.6M870.0 315.4h.6M879.4 314.8h.6M843.7 315.8h.6M849.9 315.8h.6M856.3 315.8h.6M862.8 315.7h.6M891.6 315.9h.6M909.1 318.5h.6M916.9 318.0h.6M924.1 317.8h.6M931.3 317.7h.6M938.4 317.8h.6M945.5 318.1h.6M887.1 319.2h.6M899.5 319.5h.6M952.6 318.7h.6M959.8 319.5h.6M879.0 320.1h.6M843.1 320.7h.6M849.4 320.7h.6M855.7 320.8h.6M862.2 320.7h.6M869.6 320.6h.6M890.4 321.4h.6M888.2 322.9h.6M923.5 323.5h.6M930.6 323.4h.6M886.2 324.4h.6M908.9 324.1h.6M916.4 323.7h.6M937.7 323.5h.6M944.8 323.8h.6M951.9 324.3h.6M879.3 325.2h.6M899.7 324.9h.6M959.2 325.0h.6M842.8 325.5h.6M849.1 325.6h.6M855.4 325.7h.6M862.0 325.8h.6M869.7 325.7h.6M890.0 326.6h.6M886.5 328.3h.6M916.0 329.5h.6M923.1 329.3h.6M930.2 329.2h.6M937.3 329.2h.6M842.7 330.3h.6M879.7 330.4h.6M885.1 329.7h.6M900.0 330.5h.6M908.7 329.8h.6M944.3 329.5h.6M951.5 330.0h.6M848.9 330.5h.6M855.3 330.7h.6M862.0 330.8h.6M870.1 330.8h.6M959.1 330.6h.6M890.0 331.9h.6M885.0 333.6h.6M842.6 335.2h.6M848.8 335.4h.6M883.9 335.0h.6M915.8 335.2h.6M922.8 335.0h.6M929.9 334.9h.6M936.9 335.0h.6M944.0 335.2h.6M855.2 335.7h.6M862.1 335.9h.6M870.6 335.9h.6M880.0 335.5h.6M900.3 336.0h.6M908.6 335.5h.6M951.2 335.6h.6M959.6 336.1h.6M890.3 337.2h.6M883.9 338.9h.6M842.6 340.0h.6M848.9 340.3h.6M882.6 340.3h.6M855.3 340.6h.6M862.4 340.9h.6M871.3 341.0h.6M880.2 340.6h.6M908.6 341.2h.6M915.7 341.0h.6M922.7 340.8h.6M929.7 340.7h.6M936.7 340.8h.6M943.8 340.9h.6M951.4 341.3h.6M890.8 342.5h.6M900.6 341.6h.6M960.9 341.6h.6M883.2 344.1h.6M842.7 344.9h.6M849.0 345.2h.6M855.5 345.6h.6M862.9 345.9h.6M872.2 346.0h.6M880.1 345.8h.6M901.1 347.2h.6M908.7 346.9h.6M915.7 346.8h.6M922.6 346.6h.6M929.6 346.5h.6M936.6 346.5h.6M943.8 346.7h.6M952.3 346.9h.6M962.1 347.0h.6M891.6 347.8h.6M882.9 349.2h.6M843.0 349.8h.6M849.3 350.1h.6M881.2 350.1h.6M855.9 350.6h.6M863.7 351.0h.6M873.2 351.1h.6M879.8 350.9h.6M923.0 352.4h.6M930.0 352.4h.6M937.0 352.3h.6M944.7 352.4h.6M954.3 352.4h.6M962.5 352.3h.6M892.8 353.2h.6M901.7 352.8h.6M909.1 352.7h.6M916.0 352.6h.6M883.2 354.3h.6M843.3 354.7h.6M849.6 355.1h.6M879.9 355.4h.6M856.4 355.6h.6M864.6 356.0h.6M874.2 356.1h.6M879.0 356.0h.6M963.6 356.6h.6M902.4 358.4h.6M909.6 358.4h.6M916.6 358.3h.6M923.5 358.3h.6M930.6 358.2h.6M937.8 358.1h.6M946.5 358.1h.6M956.3 357.9h.6M960.8 357.7h.6M884.1 359.4h.6M894.0 358.5h.6M843.6 359.6h.6M850.0 360.0h.6M856.9 360.6h.6M865.3 361.0h.6M874.7 361.2h.6M878.7 360.5h.6M879.3 361.2h.6M961.5 361.7h.6M956.9 363.3h.6M844.1 364.5h.6M894.5 364.1h.6M903.0 364.0h.6M910.2 364.1h.6M917.2 364.1h.6M924.2 364.1h.6M931.3 364.0h.6M939.0 363.9h.6M948.7 363.7h.6M850.5 365.0h.6M884.6 364.8h.6M857.3 365.6h.6M865.8 366.1h.6M875.2 366.4h.6M879.2 365.9h.6M879.8 366.5h.6M958.3 367.3h.6M961.6 366.6h.6M838.2 369.0h.6M844.5 369.4h.6M950.7 369.3h.6M955.6 368.8h.6M851.0 369.9h.6M885.2 370.3h.6M895.1 369.6h.6M903.6 369.7h.6M910.9 369.8h.6M917.9 369.9h.6M924.9 369.9h.6M932.2 369.8h.6M940.8 369.7h.6M857.8 370.6h.6M866.3 371.2h.6M879.7 371.2h.6M875.8 371.5h.6M880.4 371.7h.6M963.2 371.5h.6M956.3 372.6h.6M838.7 374.0h.6M845.0 374.4h.6M851.5 374.9h.6M895.8 375.2h.6M904.3 375.3h.6M943.0 375.4h.6M951.5 374.8h.6M858.4 375.6h.6M866.8 376.3h.6M885.8 375.7h.6M911.5 375.5h.6M918.6 375.7h.6M925.7 375.7h.6M933.4 375.6h.6M876.3 376.7h.6M880.3 376.6h.6M881.6 377.0h.6M956.1 377.6h.6M839.2 378.9h.6M845.5 379.3h.6M953.1 378.6h.6M852.0 379.9h.6M950.9 380.4h.6M858.7 380.7h.6M866.2 381.5h.6M895.4 381.0h.6M904.6 381.0h.6M912.2 381.3h.6M919.3 381.5h.6M935.0 381.4h.6M944.9 381.0h.6M875.4 382.2h.6M882.1 382.1h.6M886.0 381.6h.6M926.6 381.5h.6M883.8 382.6h.6M886.7 383.1h.6M957.4 382.8h.6M839.6 383.9h.6M846.0 384.3h.6M951.5 384.1h.6M852.5 385.0h.6M859.0 385.7h.6M949.5 386.1h.6M866.0 386.6h.6M894.3 387.1h.6M904.3 386.8h.6M912.7 387.0h.6M920.1 387.2h.6M927.6 387.3h.6M936.7 387.2h.6M946.2 386.6h.6M874.3 387.5h.6M883.8 388.2h.6M887.6 387.9h.6M959.3 388.0h.6M840.1 388.9h.6M846.5 389.4h.6M890.5 388.6h.6M951.0 389.4h.6M853.0 390.0h.6M859.5 390.8h.6M866.3 391.8h.6M946.5 392.3h.6M873.7 392.8h.6M903.2 392.8h.6M912.8 392.8h.6M920.8 393.0h.6M928.8 393.1h.6M938.6 392.9h.6M961.2 393.4h.6M840.5 393.9h.6M846.9 394.4h.6M882.8 393.7h.6M891.5 393.8h.6M891.9 394.3h.6M894.3 393.5h.6M853.4 395.1h.6M895.7 394.8h.6M951.5 394.6h.6M860.0 395.9h.6M947.8 395.9h.6M866.7 396.9h.6M873.7 398.0h.6M945.8 397.9h.6M840.9 399.0h.6M847.3 399.5h.6M882.0 399.1h.6M902.4 399.1h.6M912.5 398.6h.6M921.4 398.8h.6M930.2 398.9h.6M940.2 398.5h.6M963.0 399.0h.6M853.8 400.2h.6M891.6 399.9h.6M896.2 399.8h.6M898.7 400.4h.6M952.9 399.9h.6M860.4 401.1h.6M946.5 401.4h.6M867.1 402.1h.6M874.0 403.2h.6M841.3 404.0h.6M881.5 404.4h.6M941.3 404.2h.6M944.9 403.7h.6M847.7 404.6h.6M854.2 405.3h.6M890.6 405.5h.6M902.5 405.4h.6M911.6 404.7h.6M921.6 404.6h.6M931.5 404.6h.6M954.4 405.4h.6M860.8 406.2h.6M899.8 405.6h.6M899.9 406.2h.6M867.5 407.3h.6M903.9 406.7h.6M946.2 406.9h.6M874.3 408.5h.6M841.5 409.1h.6M848.0 409.7h.6M854.5 410.4h.6M881.5 409.7h.6M921.7 410.4h.6M932.6 410.3h.6M941.8 409.9h.6M861.1 411.4h.6M890.3 410.9h.6M911.0 410.8h.6M955.8 410.9h.6M867.8 412.5h.6M900.2 411.7h.6M904.1 411.6h.6M904.9 412.3h.6M946.5 412.4h.6M874.6 413.7h.6M943.9 413.5h.6M848.2 414.8h.6M881.8 415.0h.6M854.8 415.6h.6M890.4 416.2h.6M922.3 416.2h.6M933.8 416.0h.6M941.9 415.6h.6M861.4 416.5h.6M900.4 417.1h.6M905.0 417.3h.6M911.3 416.6h.6M957.0 416.5h.6M868.1 417.7h.6M905.8 417.8h.6M947.1 417.9h.6M874.9 418.9h.6M943.0 419.3h.6M848.4 420.0h.6M882.0 420.3h.6M855.0 420.8h.6M941.4 421.3h.6M861.6 421.8h.6M890.4 421.6h.6M911.6 422.3h.6M922.7 421.9h.6M934.6 421.7h.6M958.2 422.2h.6M868.3 422.9h.6M900.5 422.6h.6M905.9 423.0h.6M906.7 423.3h.6M948.1 423.3h.6M875.1 424.2h.6M848.5 425.2h.6M942.4 424.8h.6M855.1 426.0h.6M882.2 425.6h.6M861.7 427.0h.6M890.4 427.0h.6M934.8 427.4h.6M940.5 427.1h.6M868.4 428.2h.6M900.5 428.1h.6M911.7 428.1h.6M922.9 427.6h.6M959.1 427.8h.6M875.2 429.5h.6M906.8 428.6h.6M907.0 428.8h.6M949.5 428.7h.6M848.5 430.4h.6M942.3 430.1h.6M855.1 431.2h.6M882.3 430.9h.6M861.8 432.2h.6M890.8 432.3h.6M868.5 433.4h.6M901.0 433.4h.6M923.6 433.2h.6M934.8 433.1h.6M940.4 433.0h.6M906.4 434.2h.6M906.8 434.1h.6M912.2 433.5h.6M950.3 434.4h.6M959.7 433.5h.6M875.3 434.8h.6M848.5 435.7h.6M855.1 436.5h.6M882.5 436.2h.6M942.9 435.6h.6M861.7 437.5h.6M891.2 437.6h.6M868.5 438.7h.6M901.4 438.7h.6M906.1 439.4h.6M912.8 438.9h.6M924.1 438.8h.6M934.6 438.9h.6M940.6 438.8h.6M960.0 439.3h.6M875.3 440.1h.6M905.5 439.6h.6M950.9 440.1h.6M943.7 441.1h.6M855.0 441.8h.6M882.6 441.6h.6M861.7 442.8h.6M891.6 443.0h.6M868.4 444.1h.6M901.5 444.0h.6M913.3 444.3h.6M924.3 444.3h.6M875.3 445.4h.6M904.0 445.0h.6M905.6 444.8h.6M934.2 444.6h.6M940.6 444.7h.6M960.2 445.0h.6M951.4 445.8h.6M854.9 447.1h.6M882.8 446.9h.6M944.4 446.7h.6M861.5 448.2h.6M892.7 448.2h.6M868.3 449.4h.6M900.9 449.1h.6M914.7 449.4h.6M904.9 449.8h.6M924.9 449.9h.6M933.8 450.3h.6M940.6 450.5h.6M875.3 450.8h.6M951.8 451.4h.6M960.3 450.7h.6M854.7 452.5h.6M883.5 452.2h.6M945.0 452.1h.6M894.0 453.4h.6M861.4 453.5h.6M898.3 454.3h.6M905.4 454.4h.6M868.2 454.8h.6M900.4 454.7h.6M916.1 454.6h.6M925.0 455.4h.6M875.4 456.1h.6M933.3 456.0h.6M940.4 456.2h.6M960.3 456.4h.6M884.7 457.5h.6M952.1 457.1h.6M854.5 457.8h.6M894.0 458.5h.6M945.4 457.6h.6M861.2 458.9h.6M906.9 459.3h.6M868.0 460.1h.6M898.2 459.5h.6M916.8 460.0h.6M875.8 461.5h.6M924.8 461.0h.6M932.8 461.7h.6M940.2 462.0h.6M960.3 462.1h.6M885.9 462.7h.6M945.8 463.1h.6M952.3 462.7h.6M861.0 464.3h.6M892.3 463.6h.6M894.8 464.0h.6M897.9 464.2h.6M908.2 464.4h.6M917.1 465.4h.6M868.0 465.5h.6M876.8 466.8h.6M924.6 466.5h.6M932.2 467.3h.6M886.5 467.7h.6M939.8 467.7h.6M952.6 468.3h.6M960.2 467.8h.6M891.7 468.9h.6M899.2 468.8h.6M946.1 468.5h.6M860.8 469.7h.6M909.4 469.6h.6M868.7 470.9h.6M917.0 470.9h.6M878.9 471.9h.6M924.3 472.0h.6M883.2 472.8h.6M887.3 473.0h.6M890.8 473.1h.6M931.7 472.9h.6M939.2 473.4h.6M960.2 473.4h.6M901.4 473.6h.6M946.1 473.5h.6M952.8 473.8h.6M861.1 475.2h.6M909.6 475.0h.6M870.7 476.1h.6M916.9 476.4h.6M878.2 476.9h.6M883.5 477.5h.6M893.0 477.6h.6M924.1 477.6h.6M931.3 478.4h.6M902.1 478.9h.6M938.6 479.0h.6M945.9 479.2h.6M953.0 479.2h.6M960.3 479.0h.6M862.6 480.5h.6M909.5 480.4h.6M871.8 481.2h.6M877.8 481.9h.6M884.4 481.8h.6M916.7 481.8h.6M894.5 482.7h.6M923.9 483.0h.6M902.2 484.3h.6M931.1 484.0h.6M938.4 484.5h.6M945.6 484.8h.6M952.9 484.8h.6M960.1 484.5h.6M864.4 485.7h.6M869.2 486.4h.6M873.3 486.1h.6M876.3 486.3h.6M909.3 485.8h.6M886.4 486.7h.6M916.5 487.3h.6M894.8 488.1h.6M923.7 488.5h.6M930.9 489.4h.6M902.0 489.7h.6M938.2 490.1h.6M945.4 490.3h.6M952.7 490.3h.6M959.9 490.1h.6M864.1 490.8h.6M869.7 490.9h.6M877.9 490.9h.6M909.2 491.3h.6M887.4 491.9h.6M894.8 493.5h.6M916.3 492.7h.6M923.5 493.9h.6M864.6 495.4h.6M869.7 495.4h.6M901.9 495.1h.6M930.8 494.9h.6M879.7 495.9h.6M938.0 495.5h.6M945.3 495.8h.6M952.5 495.9h.6M959.8 495.7h.6M887.6 497.3h.6M909.0 496.7h.6M916.2 498.1h.6M894.7 498.9h.6M923.4 499.3h.6M871.7 500.2h.6M930.7 500.3h.6M880.4 501.3h.6M901.8 500.5h.6M937.9 501.0h.6M945.1 501.3h.6M952.4 501.4h.6M959.6 501.2h.6M909.0 502.1h.6M887.7 502.8h.6M894.7 504.4h.6M916.2 503.5h.6M872.9 505.5h.6M923.4 504.8h.6M901.8 505.9h.6M930.6 505.7h.6M937.8 506.4h.6M880.7 506.8h.6M909.0 507.5h.6M945.0 506.8h.6M952.3 506.8h.6M959.5 506.7h.6M887.7 508.3h.6M916.2 508.9h.6M894.8 509.8h.6M923.4 510.1h.6M873.6 510.9h.6M901.9 511.4h.6M930.6 511.1h.6M880.9 512.3h.6M937.8 511.8h.6M945.0 512.2h.6M952.2 512.3h.6M959.4 512.1h.6M909.1 512.9h.6M887.9 513.8h.6M916.2 514.3h.6M895.0 515.3h.6M874.0 516.5h.6M923.4 515.5h.6M930.6 516.5h.6M902.1 516.8h.6M937.8 517.2h.6M881.1 517.9h.6M909.2 518.3h.6M945.1 517.6h.6M952.3 517.7h.6M959.5 517.6h.6M888.1 519.3h.6M916.4 519.6h.6M895.2 520.8h.6M923.6 520.9h.6M874.4 522.1h.6M902.3 522.2h.6M930.8 521.8h.6M881.4 523.4h.6M938.0 522.5h.6M945.2 522.9h.6M952.4 523.1h.6M959.5 523.0h.6M909.5 523.7h.6M888.4 524.8h.6M916.6 525.0h.6M895.5 526.2h.6M923.8 526.2h.6M931.0 527.2h.6M874.8 527.6h.6M902.6 527.7h.6M938.2 527.9h.6M945.4 528.3h.6M952.5 528.4h.6M959.7 528.3h.6M881.8 529.0h.6M909.8 529.1h.6M888.8 530.3h.6M916.9 530.4h.6M895.9 531.7h.6M924.1 531.5h.6M931.3 532.5h.6M903.0 533.1h.6M938.5 533.2h.6M910.2 534.4h.6M945.7 533.6h.6M952.8 533.8h.6M960.0 533.7h.6M882.3 534.6h.6M889.3 535.9h.6M917.4 535.7h.6M896.4 537.2h.6M924.5 536.8h.6M931.7 537.8h.6M938.9 538.5h.6M903.5 538.5h.6M946.0 538.9h.6M953.2 539.1h.6M960.3 539.0h.6M882.8 540.1h.6M910.7 539.8h.6M889.9 541.4h.6M917.8 541.1h.6M925.0 542.1h.6M897.0 542.7h.6M932.2 543.0h.6M904.1 544.0h.6M939.3 543.7h.6M946.4 544.1h.6M953.6 544.3h.6M960.7 544.3h.6M911.3 545.2h.6M883.5 545.7h.6M918.4 546.4h.6M890.5 547.0h.6M925.6 547.4h.6M897.6 548.2h.6M932.7 548.3h.6M904.8 549.4h.6M939.8 549.0h.6M947.0 549.4h.6M954.1 549.6h.6M961.2 549.6h.6M884.2 551.3h.6M911.9 550.6h.6M919.0 551.7h.6M891.3 552.6h.6M926.2 552.7h.6M898.3 553.7h.6M933.3 553.6h.6M940.4 554.2h.6M905.5 554.9h.6M947.5 554.6h.6M954.6 554.8h.6M961.7 554.8h.6M912.6 556.0h.6M919.7 557.1h.6M892.0 558.1h.6M926.8 558.0h.6M899.1 559.3h.6M934.0 558.8h.6M941.1 559.4h.6M906.2 560.4h.6M948.1 559.8h.6M955.2 560.0h.6M962.3 560.0h.6M913.3 561.4h.6M920.4 562.4h.6M927.5 563.3h.6M892.8 563.7h.6M934.6 564.0h.6M899.9 564.8h.6M941.7 564.6h.6M948.8 564.9h.6M955.8 565.2h.6M962.9 565.2h.6M907.0 565.8h.6M914.1 566.8h.6M921.2 567.7h.6M893.6 569.3h.6M928.3 568.6h.6M935.4 569.3h.6M900.7 570.3h.6M942.4 569.8h.6M949.5 570.1h.6M956.5 570.3h.6M963.5 570.4h.6M907.8 571.3h.6M914.8 572.2h.6M921.9 573.1h.6M929.0 573.8h.6M936.1 574.5h.6M894.4 574.9h.6M943.1 574.9h.6M950.1 575.3h.6M957.1 575.5h.6M901.5 575.8h.6M908.5 576.8h.6M915.6 577.6h.6M922.7 578.4h.6M929.7 579.1h.6M936.8 579.7h.6M943.8 580.1h.6M950.8 580.4h.6M902.3 581.4h.6M957.8 580.6h.6M909.3 582.2h.6M916.3 583.0h.6M923.4 583.7h.6M930.4 584.4h.6M937.4 584.9h.6M944.4 585.3h.6M951.4 585.5h.6M958.4 585.7h.6M903.0 586.9h.6M910.0 587.7h.6M917.0 588.4h.6M924.1 589.1h.6M931.1 589.6h.6M938.1 590.1h.6M945.0 590.4h.6M952.0 590.6h.6M959.0 590.8h.6M903.7 592.5h.6M910.7 593.2h.6M917.7 593.8h.6M924.7 594.4h.6M931.6 594.9h.6M938.6 595.3h.6M945.6 595.6h.6M952.5 595.7h.6M959.4 595.9h.6M904.3 598.0h.6M911.3 598.7h.6M918.2 599.3h.6M925.2 599.8h.6M932.1 600.2h.6M939.1 600.5h.6M946.0 600.7h.6M953.0 600.8h.6M959.9 601.0h.6" stroke="url(#dotg)" stroke-width="2.33" stroke-linecap="round" fill="none" opacity="1"/>
</g>
<!-- logo.svg -->
<g>
<defs><clipPath id="lgc"><rect x="58.4" y="11.6" width="160.7" height="79.500"/></clipPath><linearGradient id="lg1" x1="0" y1="0" x2="1" y2="1"><stop offset="0" stop-color="#fbb81c"/><stop offset="0.55" stop-color="#f8a01c"/><stop offset="0.56" stop-color="#f58a1e"/><stop offset="1" stop-color="#f2701e"/></linearGradient><linearGradient id="lg2" x1="0" y1="0" x2="1" y2="1"><stop offset="0" stop-color="#ee2a6a"/><stop offset="0.55" stop-color="#e42668"/><stop offset="0.56" stop-color="#d42468"/><stop offset="1" stop-color="#cc2268"/></linearGradient><linearGradient id="lg3" x1="0" y1="0" x2="1" y2="1"><stop offset="0" stop-color="#28b2d0"/><stop offset="0.55" stop-color="#1ea6c8"/><stop offset="0.56" stop-color="#1a9abe"/><stop offset="1" stop-color="#1690b6"/></linearGradient><linearGradient id="lg4" x1="0" y1="0" x2="1" y2="1"><stop offset="0" stop-color="#f8801e"/><stop offset="0.55" stop-color="#f2581e"/><stop offset="0.56" stop-color="#ee441e"/><stop offset="1" stop-color="#ea3a1e"/></linearGradient></defs>
<g clip-path="url(#lgc)"><rect x="58.4" y="11" width="160.7" height="80" fill="#c5d5e6"/><path d="M138.8 11A101.7 101.7 0 0 1 138.8 91H220V11Z" fill="#00549a"/><path d="M101.5 26h5.5v5.6L116.2 61V91H96V50.5L101.5 31.600z" fill="#ee432c"/><path d="M101.500 26h5.500v5.600l-5.500 0z" fill="#f06a22"/><path d="M110 52l6.200 9V91H99.500V64z" fill="#e2301f" opacity=".6"/><path d="M104.2 15.6C105.45 18.90 109.20 19.23 109.20 22.20C109.20 25.35 108.24 26.40 106.80 26.40H101.60C100.16 26.40 99.20 25.35 99.20 22.20C99.20 19.23 102.95 18.90 104.2 15.6Z" fill="url(#lg1)"/><path d="M122.200 61.500h9.300V91h-9.300z" fill="#e8361e"/><path d="M126.75 42.8C128.72 49.45 134.65 50.12 134.65 56.10C134.65 60.98 133.33 62.60 131.35 62.60H122.15C120.17 62.60 118.85 60.98 118.85 56.10C118.85 50.12 124.78 49.45 126.75 42.8Z" fill="url(#lg4)"/><path d="M87.600 60h11.100V91H87.600z" fill="#c2215f"/><path d="M93.1 40.2C95.57 47.20 103.00 47.90 103.00 54.20C103.00 59.45 101.28 61.20 98.70 61.20H87.50C84.92 61.20 83.20 59.45 83.20 54.20C83.20 47.90 90.62 47.20 93.1 40.2Z" fill="url(#lg2)"/><path d="M73.100 72h11.500v9h2.300v10H70.700v-10h2.400z" fill="#1a93b6"/><path d="M78.5 53.8C81.08 60.60 88.80 61.28 88.80 67.40C88.80 72.05 87.08 73.60 84.50 73.60H72.50C69.92 73.60 68.20 72.05 68.20 67.40C68.20 61.28 75.92 60.60 78.5 53.8Z" fill="url(#lg3)"/><path d="M84.600 72.500h17.900V91H86.900V81h-2.300z" fill="#8c2a62"/><path d="M95 72.500l7.500 0V91h-12z" fill="#7c3060" opacity=".7"/><path d="M102.500 72.500h8V91h-8z" fill="#d8221c"/><path d="M102.500 80l6 11h-6z" fill="#a81418"/><path d="M120.800 72.500h13.200V91h-13.200z" fill="#b01418"/><path d="M127 91l7 -12V72.500h-4z" fill="#c41a1a" opacity=".8"/><path d="M110.500 75h9.400v7h3.300V91H107V82h3.500z" fill="#ee3a22"/><path d="M110.500 75h9.400v7h-9.400z" fill="#f05a22"/><path d="M112 91l11.200 -9V91z" fill="#d8241c" opacity=".8"/><path d="M115.5 57.6C117.75 63.45 124.50 64.03 124.50 69.30C124.50 74.47 122.90 76.20 120.50 76.20H110.50C108.10 76.20 106.50 74.47 106.50 69.30C106.50 64.03 113.25 63.45 115.5 57.6Z" fill="url(#lg1)"/><path d="M58 72.600H139L183.600 73.200L185.600 77L189.400 39.500L192.200 85.700L195.700 70.400L198.400 73.300H220" fill="none" stroke="#fff" stroke-width="1.25" stroke-linejoin="miter"/></g></g>
<!-- title.svg -->
<text x="231.6" y="46" font-size="28" font-weight="700" fill="#2a2f68" textLength="330" lengthAdjust="spacingAndGlyphs">KI-Gesetze 2016 bis 2023</text>
<text x="233.2" y="78.6" font-size="22" fill="#2a2f68" textLength="317.6" lengthAdjust="spacingAndGlyphs">Anzahl in ausgewählten Ländern</text>

<!-- bars.svg -->
<g>
<rect x="194" y="126.8" width="674.0" height="42.8" fill="url(#barg)"/>
<circle cx="194" cy="148.2" r="21.3" fill="#fff"/>
<g transform="translate(194 148.2)" clip-path="url(#fc)"><rect x="-22" y="-22" width="44" height="44" fill="#fff"/><rect x="-22" y="-21.2" width="44" height="3.5" fill="#d80b0b"/><rect x="-22" y="-14.8" width="44" height="2.6" fill="#d80b0b"/><rect x="-22" y="-8.9" width="44" height="2.7" fill="#d80b0b"/><rect x="-22" y="-2.9" width="44" height="2.7" fill="#d80b0b"/><rect x="-22" y="3.8" width="44" height="3.1" fill="#d80b0b"/><rect x="-22" y="10.8" width="44" height="3.1" fill="#d80b0b"/><rect x="-22" y="17.7" width="44" height="2.9" fill="#d80b0b"/><rect x="-22" y="-22" width="21.7" height="21.6" fill="#1d1f52"/><path d="M-19.20 -19.30h.01M-15.50 -19.30h.01M-11.80 -19.30h.01M-8.10 -19.30h.01M-4.40 -19.30h.01M-0.70 -19.30h.01M-17.35 -17.15h.01M-13.65 -17.15h.01M-9.95 -17.15h.01M-6.25 -17.15h.01M-2.55 -17.15h.01M-19.20 -15.00h.01M-15.50 -15.00h.01M-11.80 -15.00h.01M-8.10 -15.00h.01M-4.40 -15.00h.01M-0.70 -15.00h.01M-17.35 -12.85h.01M-13.65 -12.85h.01M-9.95 -12.85h.01M-6.25 -12.85h.01M-2.55 -12.85h.01M-19.20 -10.70h.01M-15.50 -10.70h.01M-11.80 -10.70h.01M-8.10 -10.70h.01M-4.40 -10.70h.01M-0.70 -10.70h.01M-17.35 -8.55h.01M-13.65 -8.55h.01M-9.95 -8.55h.01M-6.25 -8.55h.01M-2.55 -8.55h.01M-19.20 -6.40h.01M-15.50 -6.40h.01M-11.80 -6.40h.01M-8.10 -6.40h.01M-4.40 -6.40h.01M-0.70 -6.40h.01M-17.35 -4.25h.01M-13.65 -4.25h.01M-9.95 -4.25h.01M-6.25 -4.25h.01M-2.55 -4.25h.01M-19.20 -2.10h.01M-15.50 -2.10h.01M-11.80 -2.10h.01M-8.10 -2.10h.01M-4.40 -2.10h.01M-0.70 -2.10h.01" stroke="#fff" stroke-width="1.25" stroke-linecap="round" opacity=".85"/></g>
<text x="127.2" y="151.6" font-size="16" fill="#3b4254" textLength="30.6" lengthAdjust="spacingAndGlyphs">USA</text>
<text x="880.9" y="157.6" font-size="27.3" font-weight="700" fill="#762d73">23</text>
</g>
<g>
<rect x="194" y="181.1" width="437.2" height="42.8" fill="url(#barg)"/>
<circle cx="194" cy="202.5" r="21.3" fill="#fff"/>
<g transform="translate(194 202.5)" clip-path="url(#fc)"><rect x="-22" y="-22" width="44" height="44" fill="#046a1c"/><rect x="-4.6" y="-22" width="27" height="44" fill="#e8002a"/><circle cx="-4.6" cy="0.4" r="8.4" fill="#d6c028" opacity=".55"/><circle cx="-4.6" cy="0.4" r="8.4" fill="none" stroke="#e8d61e" stroke-width="2"/><circle cx="-4.6" cy="0.4" r="8.4" fill="none" stroke="#7fb52a" stroke-width="0.8" stroke-dasharray="2 3"/><path d="M-12 -3l14.800 7M-12 3.800l14.800 -7M-4.600 -8v17" stroke="#c9d02a" stroke-width="1" opacity=".8"/><path d="M-10.2 -5.2h11.2v6.4a5.6 5.6 0 0 1 -11.2 0z" fill="#ee2020"/><path d="M-7.6 -3.2h6v4.3a3 3 0 0 1 -6 0z" fill="#fff"/><path d="M-4.6 -2.2v4.6M-6.4 0.1h3.6" stroke="#2a4fb0" stroke-width="1.1"/></g>
<text x="98.5" y="205.8" font-size="16" fill="#3b4254" textLength="59.3" lengthAdjust="spacingAndGlyphs">Portugal</text>
<text x="644.9" y="211.9" font-size="27.3" font-weight="700" fill="#762d73">15</text>
</g>
<g>
<rect x="194" y="235.3" width="347.2" height="42.8" fill="url(#barg)"/>
<circle cx="194" cy="256.7" r="21.3" fill="#fff"/>
<g transform="translate(194 256.7)" clip-path="url(#fc)"><rect x="-22" y="-22" width="44" height="44" fill="#000"/><rect x="-8.2" y="-22" width="30.2" height="44" fill="#fedc1e"/><rect x="7.6" y="-22" width="14.4" height="44" fill="#f7232f"/></g>
<text x="105.4" y="260.0" font-size="16" fill="#3b4254" textLength="52.4" lengthAdjust="spacingAndGlyphs">Belgien</text>
<text x="554.9" y="266.1" font-size="27.3" font-weight="700" fill="#762d73">12</text>
</g>
<g>
<rect x="194" y="289.6" width="319.3" height="42.8" fill="url(#barg)"/>
<circle cx="194" cy="311.0" r="21.3" fill="#fff"/>
<g transform="translate(194 311.0)" clip-path="url(#fc)"><rect x="-22" y="-22" width="44" height="44" fill="#ee1c25"/><rect x="-22" y="-10.5" width="44" height="32.5" fill="#fed20a"/><rect x="-22" y="10.4" width="44" height="11.6" fill="#ee1c25"/><g transform="translate(-8.2 0)"><rect x="-4.2" y="-2.8" width="8.4" height="10.4" rx="1" fill="#e3651d"/><rect x="-4.2" y="-2.8" width="4.2" height="5" fill="#d8321e"/><rect x="0" y="-2.8" width="4.2" height="5" fill="#f3d6dc"/><rect x="0.9" y="-2" width="2" height="3.2" fill="#c2307a"/><rect x="-3.1" y="-1.8" width="1.6" height="3" fill="#8a9a3a"/><circle cx="-0.2" cy="2.4" r="1.2" fill="#2a66b0"/><path d="M-3.8 -3.2c0 -3 7.6 -3 7.6 0z" fill="#e0301e"/><path d="M-3.8 -3.4h7.6" stroke="#e8a81a" stroke-width="1"/><path d="M0 -7v1.6" stroke="#8aa23a" stroke-width="1"/><rect x="-7.2" y="-1.8" width="1.7" height="8.4" fill="#f4f0ea"/><rect x="5.5" y="-1.8" width="1.7" height="8.4" fill="#f4f0ea"/><path d="M-8 1.2l3.4 1.6M-8 4l3.4 -1.6M4.8 2.8l3.4 -1.6M4.8 2.4l3.4 1.6" stroke="#e0301e" stroke-width="1.1"/><rect x="-7.6" y="-3.4" width="2.5" height="1.2" fill="#e8a81a"/><rect x="5.1" y="-3.4" width="2.5" height="1.2" fill="#e8a81a"/><ellipse cx="-6.3" cy="7.4" rx="1.7" ry="0.9" fill="#5aa8c8"/><ellipse cx="6.4" cy="7.4" rx="1.7" ry="0.9" fill="#5aa8c8"/></g></g>
<text x="99.1" y="314.2" font-size="16" fill="#3b4254" textLength="58.7" lengthAdjust="spacingAndGlyphs">Spanien</text>
<text x="527.0" y="320.4" font-size="27.3" font-weight="700" fill="#762d73">11</text>
</g>
<g>
<rect x="194" y="343.9" width="319.3" height="42.8" fill="url(#barg)"/>
<circle cx="194" cy="365.3" r="21.3" fill="#fff"/>
<g transform="translate(194 365.3)" clip-path="url(#fc)"><rect x="-22" y="-22" width="44" height="44" fill="#f5f5f5"/><circle cx="0" cy="0.3" r="7.5" fill="#c8102e"/><path d="M-7.5 0.8C-5.5 3 -2.5 2.8 0 0.4C2.4 -1.9 5.2 -2.1 7.5 0.6A7.5 7.5 0 0 1 -7.5 0.8Z" fill="#0a2f7a"/><g transform="translate(-11.7 -7.9) rotate(-56)"><path d="M-4.2 -2.1h8.4M-4.2 0h8.4M-4.2 2.1h8.4" stroke="#1a1a1a" stroke-width="1.25"/><path d="M0 -3v6" stroke="#f5f5f5" stroke-width="0.7" opacity=".6"/></g><g transform="translate(11.7 -7.9) rotate(56)"><path d="M-4.2 -2.1h8.4M-4.2 0h8.4M-4.2 2.1h8.4" stroke="#1a1a1a" stroke-width="1.25"/><path d="M0 -3v6" stroke="#f5f5f5" stroke-width="0.7" opacity=".6"/></g><g transform="translate(-11.7 7.9) rotate(56)"><path d="M-4.2 -2.1h8.4M-4.2 0h8.4M-4.2 2.1h8.4" stroke="#1a1a1a" stroke-width="1.25"/><path d="M0 -3v6" stroke="#f5f5f5" stroke-width="0.7" opacity=".6"/></g><g transform="translate(11.7 7.9) rotate(-56)"><path d="M-4.2 -2.1h8.4M-4.2 0h8.4M-4.2 2.1h8.4" stroke="#1a1a1a" stroke-width="1.25"/><path d="M0 -3v6" stroke="#f5f5f5" stroke-width="0.7" opacity=".6"/></g></g>
<text x="90.0" y="368.4" font-size="16" fill="#3b4254" textLength="67.8" lengthAdjust="spacingAndGlyphs">Südkorea</text>
<text x="527.0" y="374.7" font-size="27.3" font-weight="700" fill="#762d73">11</text>
</g>
<g>
<rect x="194" y="398.2" width="289.0" height="42.8" fill="url(#barg)"/>
<circle cx="194" cy="419.6" r="21.3" fill="#fff"/>
<g transform="translate(194 419.6)" clip-path="url(#fc)"><rect x="-22" y="-22" width="44" height="44" fill="#0a9a4a"/><rect x="-6.8" y="-22" width="28.8" height="44" fill="#fff"/><rect x="7.3" y="-22" width="14.7" height="44" fill="#d8283a"/></g>
<text x="113.3" y="422.5" font-size="16" fill="#3b4254" textLength="44.5" lengthAdjust="spacingAndGlyphs">Italien</text>
<text x="496.7" y="428.9" font-size="27.3" font-weight="700" fill="#762d73">10</text>
</g>
<g>
<rect x="194" y="452.4" width="289.0" height="42.8" fill="url(#barg)"/>
<circle cx="194" cy="473.8" r="21.3" fill="#fff"/>
<g transform="translate(194 473.8)" clip-path="url(#fc)"><rect x="-22" y="-22" width="44" height="44" fill="#fff"/><rect x="-22" y="-6.9" width="44" height="28.9" fill="#0039a6"/><rect x="-22" y="7.2" width="44" height="14.8" fill="#d52b1e"/></g>
<text x="91.5" y="476.7" font-size="16" fill="#3b4254" textLength="66.3" lengthAdjust="spacingAndGlyphs">Russland</text>
<text x="496.7" y="483.2" font-size="27.3" font-weight="700" fill="#762d73">10</text>
</g>
<g>
<rect x="194" y="506.7" width="230.8" height="42.8" fill="url(#barg)"/>
<circle cx="194" cy="528.1" r="21.3" fill="#fff"/>
<g transform="translate(194 528.1)" clip-path="url(#fc)"><rect x="-22" y="-22" width="44" height="44" fill="#00247d"/><path d="M-22 -16.5L22 16.5M-22 16.5L22 -16.5" stroke="#fff" stroke-width="6.4"/><path d="M-22 -16.5L0 0" stroke="#cf142b" stroke-width="2.3" transform="translate(-0.9 1.2)"/><path d="M22 16.5L0 0" stroke="#cf142b" stroke-width="2.3" transform="translate(0.9 -1.2)"/><path d="M-22 16.5L0 0" stroke="#cf142b" stroke-width="2.3" transform="translate(0.9 1.2)"/><path d="M22 -16.5L0 0" stroke="#cf142b" stroke-width="2.3" transform="translate(-0.9 -1.2)"/><path d="M-0.2 -22v44M-22 0.2h44" stroke="#fff" stroke-width="10"/><path d="M-0.2 -22v44M-22 0.2h44" stroke="#cf142b" stroke-width="7"/></g>
<text x="58.9" y="530.9" font-size="16" fill="#3b4254" textLength="98.9" lengthAdjust="spacingAndGlyphs">Großbritanien</text>
<text x="442.4" y="537.5" font-size="27.3" font-weight="700" fill="#762d73">8</text>
</g>
<g>
<rect x="194" y="561.0" width="200.2" height="42.8" fill="url(#barg)"/>
<circle cx="194" cy="582.4" r="21.3" fill="#fff"/>
<g transform="translate(194 582.4)" clip-path="url(#fc)"><rect x="-22" y="-22" width="44" height="44" fill="#0a2598"/><rect x="-6.9" y="-22" width="28.9" height="44" fill="#fff"/><rect x="7.2" y="-22" width="14.8" height="44" fill="#ee2839"/></g>
<text x="81.8" y="585.1" font-size="16" fill="#3b4254" textLength="76.0" lengthAdjust="spacingAndGlyphs">Frankreich</text>
<text x="411.8" y="591.8" font-size="27.3" font-weight="700" fill="#762d73">7</text>
</g>
<g>
<rect x="194" y="615.2" width="171.3" height="42.8" fill="url(#barg)"/>
<circle cx="194" cy="636.6" r="21.3" fill="#fff"/>
<g transform="translate(194 636.6)" clip-path="url(#fc)"><rect x="-22" y="-22" width="44" height="44" fill="#d10a2e"/><rect x="-22" y="-6.6" width="44" height="28.6" fill="#fff"/><rect x="-22" y="7.5" width="44" height="14.5" fill="#d10a2e"/></g>
<text x="81.8" y="639.3" font-size="16" fill="#3b4254" textLength="76.0" lengthAdjust="spacingAndGlyphs">Österreich</text>
<text x="382.9" y="646.0" font-size="27.3" font-weight="700" fill="#762d73">6</text>
</g>
<g>
<rect x="194" y="669.5" width="139.5" height="42.8" fill="url(#barg)"/>
<circle cx="194" cy="690.9" r="21.3" fill="#fff"/>
<g transform="translate(194 690.9)" clip-path="url(#fc)"><rect x="-22" y="-22" width="44" height="44" fill="#0038a8"/><rect x="-22" y="0.2" width="44" height="22" fill="#d3122a"/><path d="M-22 -16.5L6.8 0.2L-22 17z" fill="#fff"/><path d="M-7.40 0.10L-4.60 0.10M-8.10 1.80L-6.12 3.78M-9.80 2.50L-9.80 5.30M-11.50 1.80L-13.48 3.78M-12.20 0.10L-15.00 0.10M-11.50 -1.60L-13.48 -3.58M-9.80 -2.30L-9.80 -5.10M-8.10 -1.60L-6.12 -3.58" stroke="#f6c619" stroke-width="1.3"/><circle cx="-9.8" cy="0.1" r="2.9" fill="#fcd116"/><circle cx="-15.8" cy="-9.4" r="1" fill="#f6c619"/><circle cx="-15.8" cy="9.6" r="1" fill="#f6c619"/><circle cx="1.2" cy="0.1" r="1" fill="#f6c619"/></g>
<text x="78.1" y="693.5" font-size="16" fill="#3b4254" textLength="79.7" lengthAdjust="spacingAndGlyphs">Philippinen</text>
<text x="351.1" y="700.3" font-size="27.3" font-weight="700" fill="#762d73">5</text>
</g>
<g>
<rect x="194" y="723.8" width="82.0" height="42.8" fill="url(#barg)"/>
<circle cx="194" cy="745.2" r="21.3" fill="#fff"/>
<g transform="translate(194 745.2)" clip-path="url(#fc)"><rect x="-22" y="-22" width="44" height="44" fill="#82b8e6"/><rect x="-22" y="-7.1" width="44" height="29.1" fill="#fff"/><rect x="-22" y="8.0" width="44" height="14.0" fill="#82b8e6"/><path d="M1.90 0.20L5.30 0.20M1.75 0.97L4.89 2.27M1.31 1.61L3.72 4.02M0.67 2.05L1.97 5.19M-0.10 2.20L-0.10 5.60M-0.87 2.05L-2.17 5.19M-1.51 1.61L-3.92 4.02M-1.95 0.97L-5.09 2.27M-2.10 0.20L-5.50 0.20M-1.95 -0.57L-5.09 -1.87M-1.51 -1.21L-3.92 -3.62M-0.87 -1.65L-2.17 -4.79M-0.10 -1.80L-0.10 -5.20M0.67 -1.65L1.97 -4.79M1.31 -1.21L3.72 -3.62M1.75 -0.57L4.89 -1.87" stroke="#e8a848" stroke-width="0.9"/><circle cx="-0.1" cy="0.2" r="3.3" fill="#f2a83c"/><circle cx="-0.1" cy="0.2" r="2" fill="#f7b84a"/></g>
<text x="77.1" y="747.7" font-size="16" fill="#3b4254" textLength="80.7" lengthAdjust="spacingAndGlyphs">Argentinien</text>
<text x="293.6" y="754.6" font-size="27.3" font-weight="700" fill="#762d73">3</text>
</g>
<g>
<rect x="194" y="778.0" width="82.0" height="42.8" fill="url(#barg)"/>
<circle cx="194" cy="799.4" r="21.3" fill="#fff"/>
<g transform="translate(194 799.4)" clip-path="url(#fc)"><rect x="-22" y="-22" width="44" height="44" fill="#000"/><rect x="-22" y="-7.5" width="44" height="29.5" fill="#d80027"/><rect x="-22" y="7.4" width="44" height="14.6" fill="#ffda44"/></g>
<text x="67.2" y="801.9" font-size="16" fill="#3b4254" textLength="90.6" lengthAdjust="spacingAndGlyphs">Deutschland</text>
<text x="293.6" y="808.8" font-size="27.3" font-weight="700" fill="#762d73">3</text>
</g>
<!-- illu.svg -->
<g>
<path d="M565 829V781C569 760 590 746 625 745H782C815 746 838 760 842 781V829Z" fill="#e5e5e5"/><path d="M617 829V776C620 757 640 746 662 745H746C770 746 788 757 791 776V829Z" fill="#fff"/>
<ellipse cx="703.500" cy="829" rx="252.500" ry="12.300" fill="#c9c9c9"/>
<clipPath id="hcl"><rect x="430" y="500" width="560" height="250"/></clipPath><g clip-path="url(#hcl)" fill="none" stroke="#fff" stroke-width="4" stroke-linejoin="round"><path d="M864.6 532.6C867.0 532.8 874.2 533.1 879.1 534.0C884.0 534.9 888.9 536.3 893.7 538.1C898.6 539.9 903.4 542.0 908.2 544.7C913.1 547.4 917.9 550.4 922.8 554.1C927.6 557.9 932.9 562.6 937.3 567.2C941.7 571.8 945.6 576.7 949.0 581.8C952.4 586.9 955.3 592.5 957.7 597.8C960.1 603.1 962.0 608.5 963.6 613.8C965.2 619.1 966.4 624.5 967.2 629.8C968.0 635.1 968.5 642.0 968.6 645.8C968.7 649.6 968.3 648.8 967.8 652.5C967.3 656.2 966.6 662.7 965.4 668.2C964.2 673.7 962.8 679.8 960.7 685.5C958.6 691.2 956.0 697.2 952.9 702.7C949.8 708.2 945.8 713.4 941.9 718.4C938.0 723.4 933.8 728.3 929.4 732.5C925.0 736.7 919.8 740.2 915.2 743.5C910.6 746.8 904.1 750.7 901.9 752.1C902.3 754.3 903.3 759.2 904.3 765.4C905.3 771.6 905.5 778.8 907.8 789.4C910.1 800.0 916.3 822.4 918.0 829.0L844.4 829.0C844.1 824.2 843.1 807.5 842.5 800.0C841.9 792.5 841.7 789.0 840.8 784.0C839.9 779.0 838.6 774.2 837.0 770.0C835.4 765.8 833.4 762.2 831.0 759.0C828.6 755.8 825.7 753.0 822.5 751.0C819.3 749.0 815.4 747.9 812.0 747.0C808.6 746.1 806.9 746.0 802.4 745.6C797.9 745.2 790.5 745.0 784.9 744.9C779.3 744.8 773.7 745.2 768.8 744.9C763.9 744.6 758.9 743.9 755.3 742.9C751.7 741.9 749.4 740.5 747.3 738.9C745.2 737.3 743.7 735.5 742.6 733.5C741.5 731.5 740.7 729.3 740.5 726.8C740.3 724.3 740.8 721.2 741.2 718.7C741.7 716.2 743.1 713.7 743.2 712.0C743.3 710.3 742.8 709.7 741.9 708.6C741.0 707.5 738.8 706.5 737.8 705.3C736.8 704.1 735.9 702.6 735.8 701.2C735.7 699.9 736.5 698.5 737.2 697.2C737.9 695.9 739.5 693.9 739.9 693.2C739.5 692.6 737.8 690.9 737.2 689.8C736.6 688.7 736.2 687.7 736.5 686.5C736.8 685.3 738.4 684.0 739.2 682.4C740.0 680.8 741.0 678.6 741.2 677.0C741.4 675.4 741.5 674.2 740.5 673.0C739.5 671.8 737.1 670.9 735.2 669.7C733.3 668.5 730.3 667.1 729.1 665.6C727.9 664.1 727.6 662.6 727.8 660.9C728.0 659.2 728.8 657.3 730.5 655.5C732.2 653.7 735.0 652.2 737.8 650.2C740.6 648.2 744.9 645.6 747.3 643.4C749.7 641.1 751.0 639.5 752.0 636.7C753.0 633.9 753.1 630.0 753.6 626.8C754.1 623.6 754.5 620.8 755.2 617.4C755.9 614.0 756.5 610.2 757.6 606.6C758.7 603.0 759.9 599.7 761.7 595.9C763.5 592.1 765.9 587.6 768.4 583.8C770.9 580.0 773.4 576.7 776.5 573.0C779.6 569.3 783.2 565.3 787.2 561.6C791.2 557.9 796.1 553.9 800.6 550.8C805.1 547.7 809.5 545.0 814.0 542.8C818.5 540.6 823.2 538.9 827.5 537.4C831.8 535.9 836.2 534.7 840.0 534.0C843.8 533.3 845.9 533.4 850.0 533.2C854.1 533.0 862.2 532.7 864.6 532.6Z"/><path d="M864.6 532.6C867.0 532.8 874.2 533.1 879.1 534.0C884.0 534.9 888.9 536.3 893.7 538.1C898.6 539.9 903.4 542.0 908.2 544.7C913.1 547.4 917.9 550.4 922.8 554.1C927.6 557.9 932.9 562.6 937.3 567.2C941.7 571.8 945.6 576.7 949.0 581.8C952.4 586.9 955.3 592.5 957.7 597.8C960.1 603.1 962.0 608.5 963.6 613.8C965.2 619.1 966.4 624.5 967.2 629.8C968.0 635.1 968.5 642.0 968.6 645.8C968.7 649.6 968.3 648.8 967.8 652.5C967.3 656.2 966.6 662.7 965.4 668.2C964.2 673.7 962.8 679.8 960.7 685.5C958.6 691.2 956.0 697.2 952.9 702.7C949.8 708.2 945.8 713.4 941.9 718.4C938.0 723.4 933.8 728.3 929.4 732.5C925.0 736.7 919.8 740.2 915.2 743.5C910.6 746.8 904.1 750.7 901.9 752.1C902.3 754.3 903.3 759.2 904.3 765.4C905.3 771.6 905.5 778.8 907.8 789.4C910.1 800.0 916.3 822.4 918.0 829.0L844.4 829.0C844.1 824.2 843.1 807.5 842.5 800.0C841.9 792.5 841.7 789.0 840.8 784.0C839.9 779.0 838.6 774.2 837.0 770.0C835.4 765.8 833.4 762.2 831.0 759.0C828.6 755.8 825.7 753.0 822.5 751.0C819.3 749.0 815.4 747.9 812.0 747.0C808.6 746.1 806.9 746.0 802.4 745.6C797.9 745.2 790.5 745.0 784.9 744.9C779.3 744.8 773.7 745.2 768.8 744.9C763.9 744.6 758.9 743.9 755.3 742.9C751.7 741.9 749.4 740.5 747.3 738.9C745.2 737.3 743.7 735.5 742.6 733.5C741.5 731.5 740.7 729.3 740.5 726.8C740.3 724.3 740.8 721.2 741.2 718.7C741.7 716.2 743.1 713.7 743.2 712.0C743.3 710.3 742.8 709.7 741.9 708.6C741.0 707.5 738.8 706.5 737.8 705.3C736.8 704.1 735.9 702.6 735.8 701.2C735.7 699.9 736.5 698.5 737.2 697.2C737.9 695.9 739.5 693.9 739.9 693.2C739.5 692.6 737.8 690.9 737.2 689.8C736.6 688.7 736.2 687.7 736.5 686.5C736.8 685.3 738.4 684.0 739.2 682.4C740.0 680.8 741.0 678.6 741.2 677.0C741.4 675.4 741.5 674.2 740.5 673.0C739.5 671.8 737.1 670.9 735.2 669.7C733.3 668.5 730.3 667.1 729.1 665.6C727.9 664.1 727.6 662.6 727.8 660.9C728.0 659.2 728.8 657.3 730.5 655.5C732.2 653.7 735.0 652.2 737.8 650.2C740.6 648.2 744.9 645.6 747.3 643.4C749.7 641.1 751.0 639.5 752.0 636.7C753.0 633.9 753.1 630.0 753.6 626.8C754.1 623.6 754.5 620.8 755.2 617.4C755.9 614.0 756.5 610.2 757.6 606.6C758.7 603.0 759.9 599.7 761.7 595.9C763.5 592.1 765.9 587.6 768.4 583.8C770.9 580.0 773.4 576.7 776.5 573.0C779.6 569.3 783.2 565.3 787.2 561.6C791.2 557.9 796.1 553.9 800.6 550.8C805.1 547.7 809.5 545.0 814.0 542.8C818.5 540.6 823.2 538.9 827.5 537.4C831.8 535.9 836.2 534.7 840.0 534.0C843.8 533.3 845.9 533.4 850.0 533.2C854.1 533.0 862.2 532.7 864.6 532.6Z" transform="translate(1407.6 0) scale(-1 1)"/></g>
<g id="hd"><path d="M864.6 532.6C867.0 532.8 874.2 533.1 879.1 534.0C884.0 534.9 888.9 536.3 893.7 538.1C898.6 539.9 903.4 542.0 908.2 544.7C913.1 547.4 917.9 550.4 922.8 554.1C927.6 557.9 932.9 562.6 937.3 567.2C941.7 571.8 945.6 576.7 949.0 581.8C952.4 586.9 955.3 592.5 957.7 597.8C960.1 603.1 962.0 608.5 963.6 613.8C965.2 619.1 966.4 624.5 967.2 629.8C968.0 635.1 968.5 642.0 968.6 645.8C968.7 649.6 968.3 648.8 967.8 652.5C967.3 656.2 966.6 662.7 965.4 668.2C964.2 673.7 962.8 679.8 960.7 685.5C958.6 691.2 956.0 697.2 952.9 702.7C949.8 708.2 945.8 713.4 941.9 718.4C938.0 723.4 933.8 728.3 929.4 732.5C925.0 736.7 919.8 740.2 915.2 743.5C910.6 746.8 904.1 750.7 901.9 752.1C902.3 754.3 903.3 759.2 904.3 765.4C905.3 771.6 905.5 778.8 907.8 789.4C910.1 800.0 916.3 822.4 918.0 829.0L844.4 829.0C844.1 824.2 843.1 807.5 842.5 800.0C841.9 792.5 841.7 789.0 840.8 784.0C839.9 779.0 838.6 774.2 837.0 770.0C835.4 765.8 833.4 762.2 831.0 759.0C828.6 755.8 825.7 753.0 822.5 751.0C819.3 749.0 815.4 747.9 812.0 747.0C808.6 746.1 806.9 746.0 802.4 745.6C797.9 745.2 790.5 745.0 784.9 744.9C779.3 744.8 773.7 745.2 768.8 744.9C763.9 744.6 758.9 743.9 755.3 742.9C751.7 741.9 749.4 740.5 747.3 738.9C745.2 737.3 743.7 735.5 742.6 733.5C741.5 731.5 740.7 729.3 740.5 726.8C740.3 724.3 740.8 721.2 741.2 718.7C741.7 716.2 743.1 713.7 743.2 712.0C743.3 710.3 742.8 709.7 741.9 708.6C741.0 707.5 738.8 706.5 737.8 705.3C736.8 704.1 735.9 702.6 735.8 701.2C735.7 699.9 736.5 698.5 737.2 697.2C737.9 695.9 739.5 693.9 739.9 693.2C739.5 692.6 737.8 690.9 737.2 689.8C736.6 688.7 736.2 687.7 736.5 686.5C736.8 685.3 738.4 684.0 739.2 682.4C740.0 680.8 741.0 678.6 741.2 677.0C741.4 675.4 741.5 674.2 740.5 673.0C739.5 671.8 737.1 670.9 735.2 669.7C733.3 668.5 730.3 667.1 729.1 665.6C727.9 664.1 727.6 662.6 727.8 660.9C728.0 659.2 728.8 657.3 730.5 655.5C732.2 653.7 735.0 652.2 737.8 650.2C740.6 648.2 744.9 645.6 747.3 643.4C749.7 641.1 751.0 639.5 752.0 636.7C753.0 633.9 753.1 630.0 753.6 626.8C754.1 623.6 754.5 620.8 755.2 617.4C755.9 614.0 756.5 610.2 757.6 606.6C758.7 603.0 759.9 599.7 761.7 595.9C763.5 592.1 765.9 587.6 768.4 583.8C770.9 580.0 773.4 576.7 776.5 573.0C779.6 569.3 783.2 565.3 787.2 561.6C791.2 557.9 796.1 553.9 800.6 550.8C805.1 547.7 809.5 545.0 814.0 542.8C818.5 540.6 823.2 538.9 827.5 537.4C831.8 535.9 836.2 534.7 840.0 534.0C843.8 533.3 845.9 533.4 850.0 533.2C854.1 533.0 862.2 532.7 864.6 532.6Z" fill="#7f6a9c"/><path d="M794.3 714.0C792.7 712.8 787.5 709.9 784.9 706.6C782.3 703.4 780.2 698.8 778.8 694.5C777.3 690.2 776.8 686.1 776.2 681.0C775.7 675.9 775.5 669.9 775.5 663.6C775.5 657.3 775.9 649.5 776.2 643.4C776.5 637.2 775.7 632.9 777.1 626.7C778.5 620.5 781.4 612.6 784.8 606.3C788.2 599.9 792.4 593.9 797.5 588.6C802.6 583.3 808.9 578.4 815.2 574.6C821.6 570.8 828.0 567.8 835.6 565.7C843.2 563.6 852.9 562.4 860.9 561.9C868.9 561.4 876.6 561.9 883.8 562.7C891.0 563.6 897.8 564.6 904.1 567.0C910.5 569.4 917.1 572.9 921.9 577.1C926.7 581.3 930.1 587.1 933.0 592.0C935.9 596.9 937.9 601.9 939.5 606.5C941.1 611.1 942.3 615.0 942.9 619.6C943.5 624.2 943.6 628.7 943.2 634.2C942.8 639.7 941.8 647.1 940.3 652.5C938.8 657.9 937.2 662.1 934.1 666.6C931.0 671.1 926.7 675.5 921.5 679.2C916.3 682.9 909.8 686.0 902.7 688.6C895.7 691.2 887.0 693.5 879.2 694.9C871.4 696.3 862.2 697.0 855.7 697.2C849.2 697.5 845.5 698.0 840.0 696.4C834.5 694.8 827.7 689.9 822.5 687.8C817.3 685.7 813.5 684.6 809.0 683.8C804.5 683.0 798.8 682.6 795.6 683.1C792.4 683.6 790.7 684.8 789.6 686.5C788.5 688.2 788.5 690.1 789.0 693.2C789.5 696.3 791.4 701.8 792.3 705.3C793.2 708.8 794.0 712.5 794.3 714.0Z" fill="#e096d8"/></g>
<g transform="translate(1407.6 0) scale(-1 1)"><path d="M864.6 532.6C867.0 532.8 874.2 533.1 879.1 534.0C884.0 534.9 888.9 536.3 893.7 538.1C898.6 539.9 903.4 542.0 908.2 544.7C913.1 547.4 917.9 550.4 922.8 554.1C927.6 557.9 932.9 562.6 937.3 567.2C941.7 571.8 945.6 576.7 949.0 581.8C952.4 586.9 955.3 592.5 957.7 597.8C960.1 603.1 962.0 608.5 963.6 613.8C965.2 619.1 966.4 624.5 967.2 629.8C968.0 635.1 968.5 642.0 968.6 645.8C968.7 649.6 968.3 648.8 967.8 652.5C967.3 656.2 966.6 662.7 965.4 668.2C964.2 673.7 962.8 679.8 960.7 685.5C958.6 691.2 956.0 697.2 952.9 702.7C949.8 708.2 945.8 713.4 941.9 718.4C938.0 723.4 933.8 728.3 929.4 732.5C925.0 736.7 919.8 740.2 915.2 743.5C910.6 746.8 904.1 750.7 901.9 752.1C902.3 754.3 903.3 759.2 904.3 765.4C905.3 771.6 905.5 778.8 907.8 789.4C910.1 800.0 916.3 822.4 918.0 829.0L844.4 829.0C844.1 824.2 843.1 807.5 842.5 800.0C841.9 792.5 841.7 789.0 840.8 784.0C839.9 779.0 838.6 774.2 837.0 770.0C835.4 765.8 833.4 762.2 831.0 759.0C828.6 755.8 825.7 753.0 822.5 751.0C819.3 749.0 815.4 747.9 812.0 747.0C808.6 746.1 806.9 746.0 802.4 745.6C797.9 745.2 790.5 745.0 784.9 744.9C779.3 744.8 773.7 745.2 768.8 744.9C763.9 744.6 758.9 743.9 755.3 742.9C751.7 741.9 749.4 740.5 747.3 738.9C745.2 737.3 743.7 735.5 742.6 733.5C741.5 731.5 740.7 729.3 740.5 726.8C740.3 724.3 740.8 721.2 741.2 718.7C741.7 716.2 743.1 713.7 743.2 712.0C743.3 710.3 742.8 709.7 741.9 708.6C741.0 707.5 738.8 706.5 737.8 705.3C736.8 704.1 735.9 702.6 735.8 701.2C735.7 699.9 736.5 698.5 737.2 697.2C737.9 695.9 739.5 693.9 739.9 693.2C739.5 692.6 737.8 690.9 737.2 689.8C736.6 688.7 736.2 687.7 736.5 686.5C736.8 685.3 738.4 684.0 739.2 682.4C740.0 680.8 741.0 678.6 741.2 677.0C741.4 675.4 741.5 674.2 740.5 673.0C739.5 671.8 737.1 670.9 735.2 669.7C733.3 668.5 730.3 667.1 729.1 665.6C727.9 664.1 727.6 662.6 727.8 660.9C728.0 659.2 728.8 657.3 730.5 655.5C732.2 653.7 735.0 652.2 737.8 650.2C740.6 648.2 744.9 645.6 747.3 643.4C749.7 641.1 751.0 639.5 752.0 636.7C753.0 633.9 753.1 630.0 753.6 626.8C754.1 623.6 754.5 620.8 755.2 617.4C755.9 614.0 756.5 610.2 757.6 606.6C758.7 603.0 759.9 599.7 761.7 595.9C763.5 592.1 765.9 587.6 768.4 583.8C770.9 580.0 773.4 576.7 776.5 573.0C779.6 569.3 783.2 565.3 787.2 561.6C791.2 557.9 796.1 553.9 800.6 550.8C805.1 547.7 809.5 545.0 814.0 542.8C818.5 540.6 823.2 538.9 827.5 537.4C831.8 535.9 836.2 534.7 840.0 534.0C843.8 533.3 845.9 533.4 850.0 533.2C854.1 533.0 862.2 532.7 864.6 532.6Z" fill="#7f6a9c"/><path d="M794.3 714.0C792.7 712.8 787.5 709.9 784.9 706.6C782.3 703.4 780.2 698.8 778.8 694.5C777.3 690.2 776.8 686.1 776.2 681.0C775.7 675.9 775.5 669.9 775.5 663.6C775.5 657.3 775.9 649.5 776.2 643.4C776.5 637.2 775.7 632.9 777.1 626.7C778.5 620.5 781.4 612.6 784.8 606.3C788.2 599.9 792.4 593.9 797.5 588.6C802.6 583.3 808.9 578.4 815.2 574.6C821.6 570.8 828.0 567.8 835.6 565.7C843.2 563.6 852.9 562.4 860.9 561.9C868.9 561.4 876.6 561.9 883.8 562.7C891.0 563.6 897.8 564.6 904.1 567.0C910.5 569.4 917.1 572.9 921.9 577.1C926.7 581.3 930.1 587.1 933.0 592.0C935.9 596.9 937.9 601.9 939.5 606.5C941.1 611.1 942.3 615.0 942.9 619.6C943.5 624.2 943.6 628.7 943.2 634.2C942.8 639.7 941.8 647.1 940.3 652.5C938.8 657.9 937.2 662.1 934.1 666.6C931.0 671.1 926.7 675.5 921.5 679.2C916.3 682.9 909.8 686.0 902.7 688.6C895.7 691.2 887.0 693.5 879.2 694.9C871.4 696.3 862.2 697.0 855.7 697.2C849.2 697.5 845.5 698.0 840.0 696.4C834.5 694.8 827.7 689.9 822.5 687.8C817.3 685.7 813.5 684.6 809.0 683.8C804.5 683.0 798.8 682.6 795.6 683.1C792.4 683.6 790.7 684.8 789.6 686.5C788.5 688.2 788.5 690.1 789.0 693.2C789.5 696.3 791.4 701.8 792.3 705.3C793.2 708.8 794.0 712.5 794.3 714.0Z" fill="#e096d8"/></g>
<path d="M839.3 652.8L844.7 653.4L844.1 658.5L838.7 657.8A21.5 21.5 0 0 1 837.7 661.0L837.7 661.0L842.4 663.7L839.9 668.1L835.2 665.4A21.5 21.5 0 0 1 833.0 668.0L833.0 668.0L836.4 672.3L832.4 675.4L829.0 671.1A21.5 21.5 0 0 1 826.0 672.7L826.0 672.7L827.5 677.9L822.6 679.3L821.2 674.0A21.5 21.5 0 0 1 817.8 674.3L817.8 674.3L817.2 679.7L812.1 679.1L812.8 673.7A21.5 21.5 0 0 1 809.6 672.7L809.6 672.7L806.9 677.4L802.5 674.9L805.2 670.2A21.5 21.5 0 0 1 802.6 668.0L802.6 668.0L798.3 671.4L795.2 667.4L799.5 664.0A21.5 21.5 0 0 1 797.9 661.0L797.9 661.0L792.7 662.5L791.3 657.6L796.6 656.2A21.5 21.5 0 0 1 796.3 652.8L796.3 652.8L790.9 652.2L791.5 647.1L796.9 647.8A21.5 21.5 0 0 1 797.9 644.6L797.9 644.6L793.2 641.9L795.7 637.5L800.4 640.2A21.5 21.5 0 0 1 802.6 637.6L802.6 637.6L799.2 633.3L803.2 630.2L806.6 634.5A21.5 21.5 0 0 1 809.6 632.9L809.6 632.9L808.1 627.7L813.0 626.3L814.4 631.6A21.5 21.5 0 0 1 817.8 631.3L817.8 631.3L818.4 625.9L823.5 626.5L822.8 631.9A21.5 21.5 0 0 1 826.0 632.9L826.0 632.9L828.7 628.2L833.1 630.7L830.4 635.4A21.5 21.5 0 0 1 833.0 637.6L833.0 637.6L837.3 634.2L840.4 638.2L836.1 641.6A21.5 21.5 0 0 1 837.7 644.6L837.7 644.6L842.9 643.1L844.3 648.0L839.0 649.4A21.5 21.5 0 0 1 839.3 652.8Z" fill="#a9d2f8"/><circle cx="817.8" cy="652.8" r="18" fill="none" stroke="#e096d8" stroke-width="0.9"/><circle cx="817.8" cy="652.8" r="16" fill="none" stroke="#fff" stroke-width="0.8" stroke-dasharray="1.8 1.4"/><circle cx="817.8" cy="652.8" r="10" fill="#e096d8"/><circle cx="817.8" cy="652.8" r="3.8" fill="#a9d2f8"/>
<path d="M921.6 651.8L925.9 652.3L925.4 656.4L921.1 655.9A17.6 17.6 0 0 1 920.3 658.5L920.3 658.5L924.0 660.7L922.0 664.3L918.2 662.1A17.6 17.6 0 0 1 916.4 664.2L916.4 664.2L919.1 667.6L915.9 670.2L913.2 666.8A17.6 17.6 0 0 1 910.7 668.1L910.7 668.1L911.9 672.2L907.9 673.3L906.8 669.2A17.6 17.6 0 0 1 904.0 669.4L904.0 669.4L903.5 673.7L899.4 673.2L899.9 668.9A17.6 17.6 0 0 1 897.3 668.1L897.3 668.1L895.1 671.8L891.5 669.8L893.7 666.0A17.6 17.6 0 0 1 891.6 664.2L891.6 664.2L888.2 666.9L885.6 663.7L889.0 661.0A17.6 17.6 0 0 1 887.7 658.5L887.7 658.5L883.6 659.7L882.5 655.7L886.6 654.6A17.6 17.6 0 0 1 886.4 651.8L886.4 651.8L882.1 651.3L882.6 647.2L886.9 647.7A17.6 17.6 0 0 1 887.7 645.1L887.7 645.1L884.0 642.9L886.0 639.3L889.8 641.5A17.6 17.6 0 0 1 891.6 639.4L891.6 639.4L888.9 636.0L892.1 633.4L894.8 636.8A17.6 17.6 0 0 1 897.3 635.5L897.3 635.5L896.1 631.4L900.1 630.3L901.2 634.4A17.6 17.6 0 0 1 904.0 634.2L904.0 634.2L904.5 629.9L908.6 630.4L908.1 634.7A17.6 17.6 0 0 1 910.7 635.5L910.7 635.5L912.9 631.8L916.5 633.8L914.3 637.6A17.6 17.6 0 0 1 916.4 639.4L916.4 639.4L919.8 636.7L922.4 639.9L919.0 642.6A17.6 17.6 0 0 1 920.3 645.1L920.3 645.1L924.4 643.9L925.5 647.9L921.4 649.0A17.6 17.6 0 0 1 921.6 651.8Z" fill="#a9d2f8"/><circle cx="904" cy="651.8" r="14.4" fill="none" stroke="#e096d8" stroke-width="0.9"/><circle cx="904" cy="651.8" r="12.9" fill="none" stroke="#fff" stroke-width="0.8" stroke-dasharray="1.8 1.4"/><circle cx="904" cy="651.8" r="8.2" fill="#e096d8"/><circle cx="904" cy="651.8" r="3.1" fill="#a9d2f8"/>
<g><path d="M864.6 537.4C867.0 537.8 874.2 538.0 879.1 539.6C884.0 541.2 889.6 543.9 893.7 546.8C897.8 549.7 901.2 553.1 903.9 557.0C906.6 560.9 908.5 565.7 909.7 570.1C910.9 574.5 911.2 578.6 911.1 583.2C911.0 587.8 910.2 593.4 909.0 597.8C907.8 602.2 906.0 605.8 903.9 609.4C901.8 613.0 899.3 616.2 896.6 619.6C893.9 623.0 890.2 626.6 887.8 629.8C885.4 633.0 883.4 635.5 882.0 638.6C880.6 641.8 879.8 645.8 879.3 648.7C878.8 651.6 878.9 654.8 878.8 656.0Q878.8 659.6 876 659.6H853.2Q850.4 659.6 850.4 656C850.3 654.8 850.4 651.6 849.9 648.7C849.4 645.8 848.6 641.8 847.2 638.6C845.8 635.5 843.8 633.0 841.4 629.8C839.0 626.6 835.3 623.0 832.6 619.6C829.9 616.2 827.4 613.0 825.3 609.4C823.2 605.8 821.4 602.2 820.2 597.8C819.0 593.4 818.2 587.8 818.1 583.2C818.0 578.6 818.3 574.5 819.5 570.1C820.7 565.7 822.6 560.9 825.3 557.0C828.0 553.1 831.4 549.7 835.5 546.8C839.6 543.9 845.2 541.2 850.1 539.6C855.0 538.0 862.2 537.8 864.6 537.4Z" fill="#fff" stroke="#1f3f9e" stroke-width="1.1"/><path d="M864.6 571.6C866.5 572.1 872.5 572.6 876.0 574.5C879.5 576.4 883.0 579.8 885.5 583.0C888.0 586.2 889.8 590.7 890.8 594.0C891.8 597.3 891.6 600.0 891.5 603.0C891.4 606.0 890.7 609.2 890.0 612.0C889.3 614.8 888.7 617.3 887.5 620.0C886.3 622.7 884.4 625.6 883.0 628.0C881.6 630.4 880.3 631.9 879.1 634.2C877.9 636.5 876.7 639.6 876.0 642.0C875.3 644.4 875.0 645.9 874.7 648.7C874.4 651.5 874.4 657.3 874.3 659.0L854.9 659.0C854.8 657.3 854.8 651.5 854.5 648.7C854.2 645.9 853.9 644.4 853.2 642.0C852.5 639.6 851.3 636.5 850.1 634.2C848.9 631.9 847.6 630.4 846.2 628.0C844.8 625.6 842.9 622.7 841.7 620.0C840.5 617.3 839.9 614.8 839.2 612.0C838.5 609.2 837.8 606.0 837.7 603.0C837.6 600.0 837.4 597.3 838.4 594.0C839.4 590.7 841.2 586.2 843.7 583.0C846.2 579.8 849.7 576.4 853.2 574.5C856.7 572.6 862.7 572.1 864.6 571.6Z" fill="#a9d2f8"/><path d="M882.8 549.7C893 557 899.5 570 900.6 583.2C897 571 890 558 882.8 549.7Z" fill="#a9d2f8"/><path d="M900.6 587.5C901.2 593 901 598 900.2 602.5C899.6 598 899.6 592 899.8 587.5Z" fill="#a9d2f8"/><path d="M846.4 549.7C836.2 557 829.7 570 828.6 583.2C832.2 571 839.2 558 846.4 549.7Z" fill="#a9d2f8"/><path d="M828.6 587.5C828 593 828.2 598 829 602.5C829.6 598 829.6 592 829.4 587.5Z" fill="#a9d2f8"/><path d="M858.5 659L855.3 629.5C853 628 851 626 851.6 623.8C852.3 621.5 855.6 622.4 855.6 625.5C855.6 627.5 855.4 629 855.3 629.5C858 630.5 860 630 861.4 627C859.4 624.5 860 621.6 862.4 621.4C865 621.4 865.4 624.5 863.4 627C865 630 868 630.5 870.6 629.5C869.6 626.4 871 622.6 873.3 623.2C875.4 624 874.4 628 870.6 629.5L868.6 659M862.4 627.5L863.4 659" fill="none" stroke="#1f3f9e" stroke-width="0.8"/><path d="M850 659.6H879.2V671C879.2 683 872 691.7 864.6 691.7C857.2 691.7 850 683 850 671Z" fill="#123a9e"/><path d="M850 663.3H879.2V665.7H850zM850 672H879.2V675.2H850.3zM851.5 680H877.7L876.4 683.1H852.8z" fill="#3f72dc"/></g>
<path d="M817.8 636.8L904 638.9M817.8 668.8L904 664.7" fill="none" stroke="#fff" stroke-width="0.8" stroke-dasharray="2 1.6"/>
<g transform="rotate(2.6 546.9 634.8)"><path d="M514.3 582.8v104M494.9 602.2h104M523.6 582.8v104M494.9 611.5h104M532.9 582.8v104M494.9 620.8h104M542.3 582.8v104M494.9 630.2h104M551.6 582.8v104M494.9 639.5h104M560.9 582.8v104M494.9 648.8h104M570.2 582.8v104M494.9 658.1h104M579.5 582.8v104M494.9 667.4h104" stroke="#a9d2f8" stroke-width="4.6" stroke-linecap="round" fill="none"/></g>
<path d="M540 587.2L826 627.2C838 629 845.500 636 845.700 650V664C845.500 674 840 679.500 828 680L540 686C527 685.500 512 680 503 668C495 658 489.500 646 490 634C490.500 620 496 610 504 603C512 596 524 588 540 587.200Z" fill="none" stroke="#4d1a52" stroke-width="1.7" stroke-dasharray="6.6 6.4" stroke-dashoffset="3"/>
<g transform="rotate(2.6 546.9 634.8)"><rect x="502.9" y="591.1" width="88" height="87.4" rx="11" fill="#fbf6ee"/><rect x="512.4" y="600.6" width="68.4" height="69.6" rx="8" fill="#bdd4e4"/><clipPath id="chc"><rect x="512.4" y="600.6" width="68.4" height="69.6" rx="8"/></clipPath><rect x="521.2" y="608.4" width="50.3" height="52.6" fill="#93bad8"/><g clip-path="url(#chc)"><path d="M512 603.5h62M513 606l4 6h20M560 609h14l4 5M512 617.5h9M512 625h11M512 633h10l3 4M516 644h9M512 651h13M512 658h12M566 621l4 -3h10M566 631h14M566 637h14M568 644h12M566 655h9l2 -4M566 662h10M518 663h22l3 4M550 668l4 -4h20M512 668h8M566 669h14" fill="none" stroke="#3a86e4" stroke-width="0.9"/><circle cx="537" cy="612" r="2" fill="#cfe2f0" stroke="#3a86e4" stroke-width="0.9"/><circle cx="558" cy="609" r="2.1" fill="#3a86e4"/><circle cx="523.5" cy="618" r="2" fill="#cfe2f0" stroke="#3a86e4" stroke-width="0.9"/><circle cx="523.5" cy="625" r="2.1" fill="#3a86e4"/><circle cx="525" cy="638" r="2" fill="#cfe2f0" stroke="#3a86e4" stroke-width="0.9"/><circle cx="514.5" cy="644" r="2.1" fill="#3a86e4"/><circle cx="566.5" cy="624" r="2" fill="#cfe2f0" stroke="#3a86e4" stroke-width="0.9"/><circle cx="567.5" cy="644" r="2.1" fill="#3a86e4"/><circle cx="577.5" cy="651" r="2" fill="#cfe2f0" stroke="#3a86e4" stroke-width="0.9"/><circle cx="576" cy="663" r="2.1" fill="#3a86e4"/><circle cx="538" cy="667" r="2.1" fill="#3a86e4"/><circle cx="549" cy="668.5" r="2.1" fill="#3a86e4"/></g><text x="533.4" y="646.4" font-size="30" font-weight="700" fill="#1f3864" textLength="26.4" lengthAdjust="spacingAndGlyphs">KI</text></g>
<g>
<!-- briefcases -->
<path d="M573 814.5v-3.2q0-1.3 1.3-1.3h5.4q1.3 0 1.3 1.3v3.2" fill="none" stroke="#1a4494" stroke-width="1.3"/>
<rect x="565" y="814" width="23.8" height="16.2" rx="1" fill="#1a4494"/><path d="M565 821.5h23.8" stroke="#2a58b0" stroke-width=".6"/>
<path d="M827 814.5v-3.2q0-1.3 1.3-1.3h5.4q1.3 0 1.3 1.3v3.2" fill="none" stroke="#1a4494" stroke-width="1.3"/>
<rect x="819" y="814" width="23.8" height="16.2" rx="1" fill="#1a4494"/><path d="M819 821.5h23.8" stroke="#2a58b0" stroke-width=".6"/>
<!-- chair 1 -->
<path d="M606.3 803V827M595.5 829.5q0-2.6 3-2.6h16q3 0 3 2.6" fill="none" stroke="#10245e" stroke-width="2.2"/>
<circle cx="596" cy="829.6" r="1.6" fill="#10245e"/><circle cx="606.3" cy="829.6" r="1.6" fill="#10245e"/><circle cx="617.6" cy="829.6" r="1.6" fill="#10245e"/>
<path d="M586.2 766.5q-.4-2 1.8-2h12q2 0 2.4 2l7.6 33h10q2 0 2 2.500q0 3-3 3h-22.500q-2.500 0-3-2.500z" fill="#a6c2f4"/>
<path d="M590.5 764.500h9.500q2 0 2.400 2l7.600 33h-9.500z" fill="#c6dafb"/>
<!-- man 1 -->
<path d="M611.800 751.500q-.8-3.200 2.600-3.600q3.800-.6 5.600 1.200q1 1.400-.4 2.200l-4 .4l-.6 4.500z" fill="#10245e"/>
<path d="M615.200 751.700l4.300-.4l.6 4.200l-.2 3.300q-1.200 1.700-3.700.6l-1.500-3.700z" fill="#f0a07a"/>
<path d="M614.800 754.800q1.300 1.200 2.600 1l2.700-.8l-.2 3.800q-1.400 1.800-3.800.6z" fill="#10245e"/>
<path d="M612.600 759.700Q606.500 760.500 603.500 764.500Q601.500 772 600.300 782L596 793.500Q605 799 616 797.500L631 797Q632.500 793 630 790.800L621 787.300L620.800 770.300L619.600 761.300Q616 759 612.600 759.700Z" fill="#172d6c"/>
<path d="M611.200 762.800L618.400 762L617.800 775L616.400 785L613.400 784.500Z" fill="#f4f4f8"/><path d="M618.400 762L619.800 763L620.800 787L616.400 785L617.800 775Z" fill="#172d6c"/>
<path d="M614.600 761.200l1.900 1.900l1.700-1.700z" fill="#10245e"/>
<path d="M598 794Q612 789 630 790.500Q633 791 632.800 795L631.500 828.500H622.600L621 800.500Q608 801.500 600 799Z" fill="#172d6c"/><path d="M627.300 800L627 828" stroke="#10245e" stroke-width=".7"/>
<path d="M622.600 827.800h9.600q1.800.8 1.700 2.600h-11.300z" fill="#10245e"/>
<path d="M622 790.400l4.500-.6l2.500 1.400l-1.200 1.300l-5.600-.4z" fill="#f0a07a"/>
<!-- chair 2 -->
<path d="M652.700 803V827M643.600 829.500q0-2.600 3-2.600h13.200q3 0 3 2.600" fill="none" stroke="#10245e" stroke-width="2.200"/>
<circle cx="644" cy="829.600" r="1.600" fill="#10245e"/><circle cx="652.700" cy="829.600" r="1.600" fill="#10245e"/><circle cx="662.400" cy="829.600" r="1.600" fill="#10245e"/>
<!-- woman 1 -->
<path d="M642.400 751q-1.600-5.400 3.200-7q5-1.200 6.800 2.200l-.3 1.500l-3.300 1.500l.4 6.300q-4.600.8-6.800-4.500z" fill="#10245e"/>
<path d="M649 748.900l3.200-1.300l1 3.700l-.2 3.600l-2.600.8l-1.200-3z" fill="#f0a07a"/>
<path d="M648.300 755l2.200.4v3h-2.400z" fill="#f0a07a"/>
<path d="M643.500 762q3-3.600 8.500-2.400q5 1.500 6.400 7l3.300 14.500l10.400 11.400l-9 8h-16z" fill="#172d6c"/>
<path d="M658 790l12-3q3.400 0 4.400 3l.6 6l-10 5.500h-8z" fill="#10245e"/>
<path d="M671.600 789.300q2.600-.8 3.600 1.800l7.300 36.600l-2.300.5l-9.600-30.500z" fill="#f2ab86"/>
<path d="M657.500 800.500l6.500-.5l3.300 28h-2.300z" fill="#f2ab86"/>
<path d="M679.300 827l3.400-.6l1.200 3.800h-1.200l-1-2l-2 .4zM664.300 828h3.400l1.300 2.400h-1.500l-.8-1.500h-2.400z" fill="#10245e"/>
<path d="M632 769q-.4-2 1.800-2h19q2 0 2.500 2l6 30.500q.5 2.500-2 2.500h-19.700q-2.500 0-3-2.500z" fill="#9ab8f0"/>
<path d="M649.500 767h3.300q2 0 2.500 2l6 30.500q.5 2.500-2 2.500h-3.300z" fill="#b4ccf7"/>
<path d="M641 801.500h21q2 0 2 2.200t-2 2.200h-19z" fill="#b4ccf7"/>
<!-- person 3 (back view) + chair 3 -->
<path d="M691.500 803h4.400V829h-4.400zM700.700 803h4.400V829h-4.400z" fill="#172d6c"/>
<path d="M696.800 803h3V828h-3z" fill="#10245e"/>
<path d="M686 829.500q0-2.400 3-2.400h18q3 0 3 2.400" fill="none" stroke="#10245e" stroke-width="2.200"/>
<circle cx="686.500" cy="829.800" r="1.600" fill="#10245e"/><circle cx="698.300" cy="829.800" r="1.600" fill="#10245e"/><circle cx="709.600" cy="829.800" r="1.600" fill="#10245e"/>
<ellipse cx="698.500" cy="750.400" rx="5.600" ry="6.800" fill="#10245e"/>
<path d="M696 755h5v6h-5z" fill="#10245e"/>
<path d="M681 783q.5-17 7.500-21.500q10-3.500 20 0q7 4.500 7.500 21.500l-2.500 4h-30z" fill="#172d6c"/>
<rect x="685.300" y="763.700" width="26.200" height="39.500" rx="5" fill="#96b4ee"/>
<path d="M684.500 796q-1.500 0-1.500 2t1.500 2zM712.300 796q1.500 0 1.500 2t-1.500 2z" fill="#96b4ee"/>
<!-- standing man -->
<path d="M708.400 757l19-1l-1.600 36l-2 35.500h-2.400l-3.800-46l-4.700 34.500l-2.600-.5l1-40z" fill="#0c0c1e"/>
<path d="M721.600 827.200h3.400l1 2.600h-5zM709.500 815.500l3 .5l-.5 3l-3.400-.8z" fill="#10245e"/>
<path d="M716.500 712q6-2.600 12 .2q3.400 3 2.500 9l-3.600 22.500l.5 14.600l-3.400-2.400l-.4 3.200l-16.500.6l-.4-4.500l1.500-25z" fill="#3a34a4"/>
<path d="M722 711.500l-12 2l-11.500-13.500l-2.500 2.200l9.500 17l16 .8q5-2 4.500-5.500q-1-3-4-3z" fill="#5a56c2"/>
<path d="M696.400 697.500l1.800.4l1.400 3.600l-2.400 1.600l-1.500-3.500z" fill="#f0a07a"/>
<path d="M721.800 698.500q1.800-2.400 5-1.600q3.800 1.400 3.600 5l-1.400 5.600l-2.600.3l-.6-4.300l-3.400-2.600z" fill="#10245e"/>
<path d="M722.400 700.400l3.400 2.600l.7 4.400l-2 1.600l-3.300-1.600l-.8-3.600z" fill="#f0a07a"/>
<path d="M720.200 705l2.600.9l2-.8l1.800-.2l.7 3l-1.500 1.500q-2.800.8-4.600-1.200z" fill="#10245e"/>
<!-- paper -->
<path d="M671.700 737.800L692 731.400L691 724.500L677 730.500Z" fill="#e4e4e4"/>
<path d="M668.500 694.100Q678.500 686.500 688.700 683.500Q694 689 696.200 697Q698.500 709 699.600 720.500Q688 723 676.500 730.300Q678.500 718 677 714Q674.500 704 668.500 694.100Z" fill="#fff" stroke="#55555c" stroke-width="1"/>
<path d="M675 697.500q3-2.500 5-1.800t5-2.200M677 702q3-2.500 5-1.800t6-2.600M678.500 706.500q3-2.500 5-1.800t6-2.600M680 711q3-2.500 5-1.800t6-2.600M681 715.500q3-2.500 5-1.800t6-2.600M681.500 720q3-2.500 5-1.800t6-2.600" fill="none" stroke="#b6c4ec" stroke-width=".6"/>
<path d="M679.300 711.300L700 721.800L714 715.500Q720 712.500 724.500 714.500Q727.500 717.500 724 721.500L707 729Q700 731 696 728.500L678.200 714.600Z" fill="#5a56c2"/><path d="M675.800 709.300l2.800-.4l2.600 3.300l-2 2.800l-3.200-2.600z" fill="#f0a07a"/>
<!-- chair 4 + woman 2 (facing left) -->
<path d="M751.800 803V827M741.700 829.500q0-2.600 3-2.600h13.200q3 0 3 2.600" fill="none" stroke="#10245e" stroke-width="2.200"/>
<circle cx="742" cy="829.600" r="1.600" fill="#10245e"/><circle cx="751.800" cy="829.600" r="1.600" fill="#10245e"/><circle cx="760.600" cy="829.600" r="1.600" fill="#10245e"/>
<path d="M751.600 748.500q0-4 4.600-4.200q5.600.2 5.800 5.200l.2 6.300q-3.500 1-7.600.2l-.2-6.500z" fill="#10245e"/>
<path d="M752.600 748l-1.900 1.200l-.8 3l.5 2.700l2.400.7l1.800-2.600l-.1-4z" fill="#f0a07a"/>
<path d="M756.800 755.600l-2.800.2l-.4 3.200h3.400z" fill="#f0a07a"/>
<path d="M760.500 762q-3-3.600-8.500-2.400q-5 1.500-6.400 7l-2.600 13l-13.500 11.500l3 4.500l16 6h14z" fill="#172d6c"/>
<path d="M733 788.800l-3.400 1.600l1 2.200l3.800-.6z" fill="#f0a07a"/>
<path d="M748 791l-17 1.500q-3.500.6-4 4l-4.600 32h2.800l8.800-27l11 2z" fill="#10245e"/>
<path d="M748 797l-5.500 3.500l-4.600 27.500h2.600l9-25z" fill="#172d6c"/>
<path d="M721.500 827.600h3.400l-.6 2.600h-4zM737 827.600h3.600l-.4 2.600h-4.200z" fill="#10245e"/>
<path d="M773 769q.4-2.400-1.900-2.400h-22.500q-2.200 0-2.700 2.200l-5.700 29.200h-5.200q-1.500 0-1.500 2q0 2.300 2.300 2.300h28.500q2.600 0 3.100-2.500z" fill="#9ab8f0"/><path d="M748.600 766.600h-2.300q-2.200 0-2.700 2.200l-6.200 29.200h4.300z" fill="#bcd2f8"/>
<!-- chair 5 + woman 3 -->
<path d="M803.300 764.400q.3-2.400 2.500-2.400h11.800q2.500 0 2.200 2.500l-5 35.300q-.5 2.500-2.500 2.500h-13.500z" fill="#c6dafb"/><path d="M815 762h2.600q2.500 0 2.200 2.500l-5 35.300q-.5 2.500-2.500 2.500h-2.300z" fill="#a2bef2"/>
<path d="M799.300 804V827M786 829.500q0-2.600 3-2.600h18.500q3 0 3 2.600" fill="none" stroke="#10245e" stroke-width="2.200"/>
<circle cx="786.500" cy="829.600" r="1.600" fill="#10245e"/><circle cx="799.300" cy="829.600" r="1.600" fill="#10245e"/><circle cx="810.400" cy="829.600" r="1.600" fill="#10245e"/>
<path d="M785 797.200h28.500q2.500 0 2.300 3q-.3 3.800-3.500 3.800h-24q-5-.5-5.300-4q.2-2.800 2-2.800z" fill="#a9c4f6"/>
<path d="M788.300 749.500q0-3.600 4.300-3.700q5 .2 5 5l.1 5.200q-3.200 1-6.800.2l-.2-6z" fill="#10245e"/>
<path d="M789.300 749.200l-1.900 1.200l-.9 3l.5 2.700l2.300 1l2-2.700l-.1-4.200z" fill="#f0a07a"/>
<path d="M792.600 756.400l-2.800.3l-.8 3.400l3.800-.5z" fill="#f0a07a"/>
<path d="M788 761l4 -1.500l1 12l-4.500 6z" fill="#dfe9fb"/>
<path d="M792 759.500q5-1 8 2.600q3 4 5 14l4.500 18.500q-5 5-13 4.500l-9-3.500l3.500-8.500l-3.500-9.500l1.500-8z" fill="#172d6c"/>
<path d="M783 789l13-1.500l8 3.500l-2 6.500q-10 3-18-.5l-2.500-4.500z" fill="#10245e"/>
<path d="M783.500 789.500q-5-.6-6.200 3.500l.4 34.800h3l3-30l4-4z" fill="#f2ab86"/>
<path d="M786.500 791l-4.500 1l1 1.800l4-.4z" fill="#f0a07a"/>
<path d="M776.500 827.300h5v3.300h-7.800q.5-2.300 2.800-3.300z" fill="#10245e"/>
</g>
</g>
<!-- footer.svg -->
<text x="59.6" y="855.5" font-size="21.5" fill="#2f3a6e" textLength="243" lengthAdjust="spacingAndGlyphs">Quelle: Stanford University</text>
<text x="570.8" y="880.8" font-size="15.6" fill="#d8d8d8" textLength="381.4" lengthAdjust="spacingAndGlyphs">© Deutsch-Russische Auslandshandelskammer, 2024</text>

</svg>
</body></html>
